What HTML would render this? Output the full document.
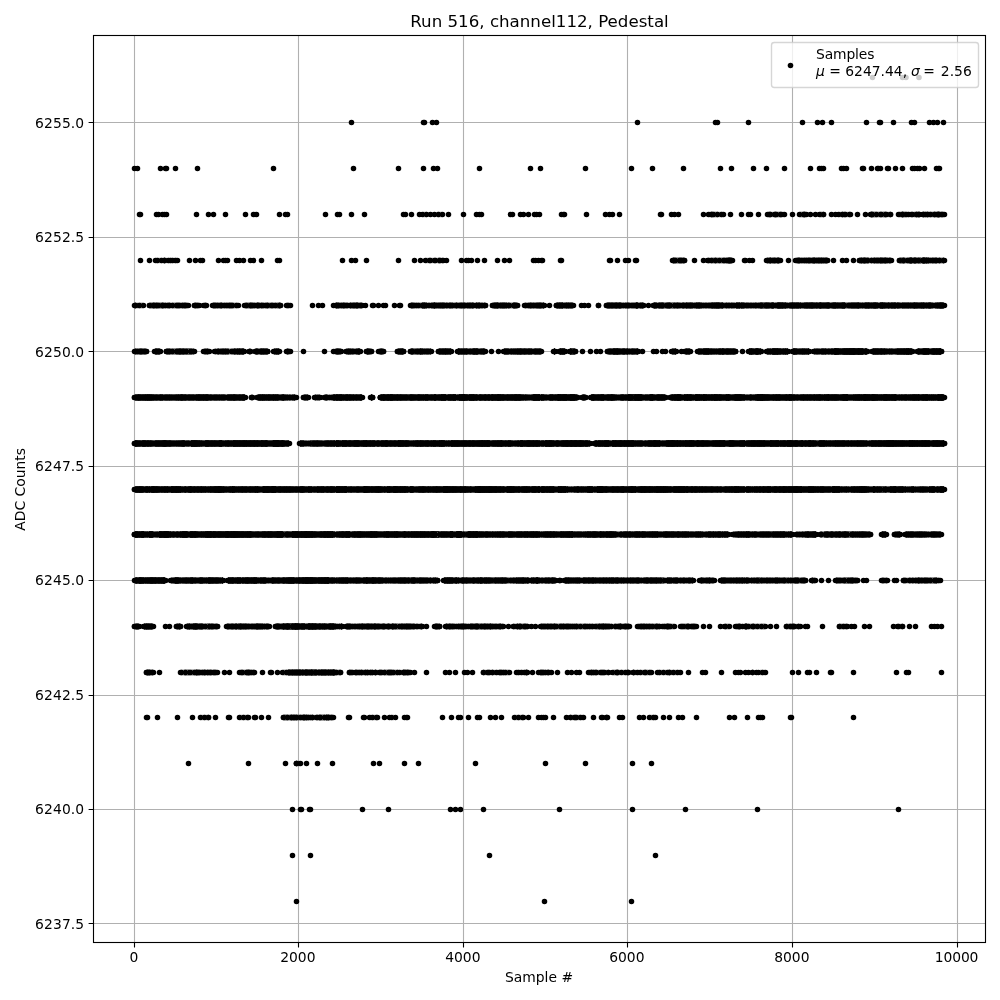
<!DOCTYPE html>
<html lang="en">
<head>
<meta charset="utf-8">
<title>Run 516, channel112, Pedestal</title>
<style>
html,body{margin:0;padding:0;background:#fff;}
body{width:1000px;height:1000px;overflow:hidden;}
svg{display:block;will-change:transform;font-family:"DejaVu Sans","Liberation Sans",sans-serif;font-size:13.89px;fill:#000;}
.it{font-family:"DejaVu Sans","Liberation Sans",sans-serif;font-style:italic;}
</style>
</head>
<body>
<svg width="1000" height="1000" viewBox="0 0 1000 1000">
<rect width="1000" height="1000" fill="#fff"/>
<path d="M134.5 35.5V942.5M298.5 35.5V942.5M463.5 35.5V942.5M627.5 35.5V942.5M792.5 35.5V942.5M957.5 35.5V942.5M93.5 923.5H985.5M93.5 809.5H985.5M93.5 695.5H985.5M93.5 580.5H985.5M93.5 466.5H985.5M93.5 351.5H985.5M93.5 237.5H985.5M93.5 122.5H985.5" stroke="#b0b0b0" stroke-width="1.11" fill="none"/>
<g stroke="#000" stroke-width="1" fill="none">
<path stroke-opacity="0.083" d="M423 211.5h4M423 217.5h4M437 211.5h4M437 217.5h4M441 211.5h1M441 217.5h1M709 211.5h5M709 217.5h5M718 211.5h5M718 217.5h5M771 211.5h6M771 217.5h6M781 211.5h3M781 217.5h3M822 211.5h1M822 217.5h1M839 211.5h5M839 217.5h5M844 211.5h3M844 217.5h3M847 211.5h3M847 217.5h3M886 211.5h4M886 217.5h4M906 211.5h6M906 217.5h6M912 211.5h2M912 217.5h2M918 211.5h1M918 217.5h1M156 257.5h4M156 263.5h4M160 257.5h3M160 263.5h3M163 257.5h6M163 263.5h6M169 257.5h2M169 263.5h2M171 257.5h6M171 263.5h6M426 257.5h6M426 263.5h6M432 257.5h4M432 263.5h4M436 257.5h2M436 263.5h2M441 257.5h2M441 263.5h2M135 302.5h2M135 308.5h2M287 302.5h3M287 308.5h3M612 623.5h2M612 629.5h2M647 623.5h4M647 629.5h4M660 623.5h3M660 629.5h3M681 623.5h3M681 629.5h3M741 623.5h2M741 629.5h2M743 623.5h2M743 629.5h2M795 623.5h5M795 629.5h5M898 623.5h2M898 629.5h2M900 623.5h2M900 629.5h2M350 669.5h5M350 675.5h5M373 669.5h6M373 675.5h6M398 669.5h5M398 675.5h5M484 669.5h4M484 675.5h4M488 669.5h3M488 675.5h3M491 669.5h2M491 675.5h2M493 669.5h6M493 675.5h6M517 669.5h3M517 675.5h3M520 669.5h2M520 675.5h2M522 669.5h3M522 675.5h3M525 669.5h2M525 675.5h2M546 669.5h5M546 675.5h5M597 669.5h3M597 675.5h3M600 669.5h3M600 675.5h3M603 669.5h3M603 675.5h3M606 669.5h2M606 675.5h2M619 669.5h3M619 675.5h3M622 669.5h4M622 675.5h4M626 669.5h2M626 675.5h2M634 669.5h3M634 675.5h3M637 669.5h3M637 675.5h3M640 669.5h3M640 675.5h3M643 669.5h2M643 675.5h2M648 669.5h2M648 675.5h2M658 669.5h5M658 675.5h5M663 669.5h5M663 675.5h5M670 669.5h4M670 675.5h4M674 669.5h6M674 675.5h6M752 669.5h2M752 675.5h2M760 669.5h2M760 675.5h2M762 669.5h3M762 675.5h3M201 714.5h5M201 720.5h5M206 714.5h2M206 720.5h2M240 714.5h6M240 720.5h6M246 714.5h2M246 720.5h2M313 714.5h3M313 720.5h3M370 714.5h2M370 720.5h2M372 714.5h5M372 720.5h5M392 714.5h2M392 720.5h2M515 714.5h5M515 720.5h5M520 714.5h3M520 720.5h3M571 714.5h3M571 720.5h3M574 714.5h3M574 720.5h3M577 714.5h3M577 720.5h3M580 714.5h3M580 720.5h3M650 714.5h5M650 720.5h5M297 760.5h3M297 766.5h3"/>
<path stroke-opacity="0.167" d="M714 211.5h4M714 217.5h4M768 211.5h3M768 217.5h3M777 211.5h4M777 217.5h4M800 211.5h6M800 217.5h6M820 211.5h2M820 217.5h2M876 211.5h5M876 217.5h5M881 211.5h2M881 217.5h2M899 211.5h4M899 217.5h4M914 211.5h4M914 217.5h4M923 211.5h4M923 217.5h4M927 211.5h3M927 217.5h3M930 211.5h2M930 217.5h2M932 211.5h3M932 217.5h3M938 211.5h2M938 217.5h2M940 211.5h4M940 217.5h4M708 257.5h3M708 263.5h3M860 257.5h3M860 263.5h3M869 257.5h5M869 263.5h5M912 257.5h3M912 263.5h3M137 302.5h5M137 308.5h5M142 302.5h1M142 308.5h1M166 302.5h6M166 308.5h6M234 302.5h3M234 308.5h3M237 302.5h1M237 308.5h1M258 302.5h6M258 308.5h6M264 302.5h3M264 308.5h3M348 302.5h4M348 308.5h4M427 302.5h4M427 308.5h4M473 302.5h5M473 308.5h5M749 577.5h2M749 583.5h2M812 577.5h3M812 583.5h3M904 577.5h3M904 583.5h3M907 577.5h5M907 583.5h5M912 577.5h6M912 583.5h6M937 577.5h3M937 583.5h3M336 623.5h5M336 629.5h5M415 623.5h6M415 629.5h6M438 623.5h1M438 629.5h1M452 623.5h5M452 629.5h5M457 623.5h3M457 629.5h3M466 623.5h4M466 629.5h4M501 623.5h2M501 629.5h2M514 623.5h5M514 629.5h5M541 623.5h2M541 629.5h2M587 623.5h2M587 629.5h2M593 623.5h3M593 629.5h3M610 623.5h2M610 629.5h2M663 623.5h4M663 629.5h4M670 623.5h4M670 629.5h4M687 623.5h2M687 629.5h2M689 623.5h4M689 629.5h4M725 623.5h2M725 629.5h2M727 623.5h2M727 629.5h2M746 623.5h6M746 629.5h6M752 623.5h5M752 629.5h5M757 623.5h2M757 629.5h2M759 623.5h4M759 629.5h4M787 623.5h2M787 629.5h2M792 623.5h3M792 629.5h3M840 623.5h6M840 629.5h6M846 623.5h1M846 629.5h1M181 669.5h3M181 675.5h3M189 669.5h2M189 675.5h2M205 669.5h2M205 675.5h2M212 669.5h5M212 675.5h5M240 669.5h6M240 675.5h6M251 669.5h3M251 675.5h3M283 669.5h5M283 675.5h5M336 669.5h3M336 675.5h3M359 669.5h6M359 675.5h6M365 669.5h2M365 675.5h2M367 669.5h3M367 675.5h3M379 669.5h2M379 675.5h2M381 669.5h3M381 675.5h3M393 669.5h5M393 675.5h5M407 669.5h3M407 675.5h3M499 669.5h3M499 675.5h3M502 669.5h5M502 675.5h5M507 669.5h2M507 675.5h2M541 669.5h5M541 675.5h5M589 669.5h3M589 675.5h3M592 669.5h5M592 675.5h5M613 669.5h6M613 675.5h6M645 669.5h3M645 675.5h3M650 669.5h1M650 675.5h1M668 669.5h2M668 675.5h2M309 714.5h4M309 720.5h4M316 714.5h3M316 720.5h3M325 714.5h4M325 720.5h4"/>
<path stroke-opacity="0.250" d="M871 211.5h5M871 217.5h5M883 211.5h3M883 217.5h3M903 211.5h3M903 217.5h3M935 211.5h3M935 217.5h3M438 257.5h3M438 263.5h3M711 257.5h2M711 263.5h2M713 257.5h2M713 263.5h2M715 257.5h2M715 263.5h2M717 257.5h4M717 263.5h4M721 257.5h4M721 263.5h4M725 257.5h3M725 263.5h3M771 257.5h3M771 263.5h3M774 257.5h6M774 263.5h6M796 257.5h6M796 263.5h6M817 257.5h3M817 263.5h3M886 257.5h3M886 263.5h3M905 257.5h4M905 263.5h4M921 257.5h6M921 263.5h6M927 257.5h6M927 263.5h6M937 257.5h6M937 263.5h6M156 302.5h3M156 308.5h3M163 302.5h3M163 308.5h3M172 302.5h5M172 308.5h5M177 302.5h5M177 308.5h5M187 302.5h1M187 308.5h1M197 302.5h2M197 308.5h2M204 302.5h2M204 308.5h2M222 302.5h5M222 308.5h5M230 302.5h4M230 308.5h4M254 302.5h4M254 308.5h4M267 302.5h4M267 308.5h4M271 302.5h6M271 308.5h6M346 302.5h2M346 308.5h2M414 302.5h5M414 308.5h5M419 302.5h3M419 308.5h3M444 302.5h4M444 308.5h4M448 302.5h3M448 308.5h3M451 302.5h3M451 308.5h3M465 302.5h5M465 308.5h5M478 302.5h6M478 308.5h6M507 302.5h6M507 308.5h6M525 302.5h5M525 308.5h5M538 302.5h2M538 308.5h2M541 302.5h2M541 308.5h2M624 302.5h5M624 308.5h5M629 302.5h4M629 308.5h4M633 302.5h3M633 308.5h3M656 302.5h2M656 308.5h2M680 302.5h6M680 308.5h6M730 302.5h6M730 308.5h6M208 348.5h1M208 354.5h1M215 348.5h2M215 354.5h2M229 348.5h5M229 354.5h5M287 348.5h3M287 354.5h3M295 394.5h1M295 400.5h1M328 394.5h3M328 400.5h3M331 394.5h2M331 400.5h2M509 577.5h4M509 583.5h4M529 577.5h2M529 583.5h2M642 577.5h2M642 583.5h2M664 577.5h3M664 583.5h3M705 577.5h3M705 583.5h3M730 577.5h3M730 583.5h3M780 577.5h4M780 583.5h4M789 577.5h5M789 583.5h5M882 577.5h4M882 583.5h4M886 577.5h1M886 583.5h1M212 623.5h4M212 629.5h4M253 623.5h3M253 629.5h3M262 623.5h5M262 629.5h5M267 623.5h2M267 629.5h2M350 623.5h3M350 629.5h3M353 623.5h3M353 629.5h3M356 623.5h3M356 629.5h3M384 623.5h3M384 629.5h3M387 623.5h5M387 629.5h5M495 623.5h3M495 629.5h3M519 623.5h4M519 629.5h4M526 623.5h1M526 629.5h1M543 623.5h6M543 629.5h6M556 623.5h3M556 629.5h3M570 623.5h3M570 629.5h3M573 623.5h3M573 629.5h3M576 623.5h6M576 629.5h6M582 623.5h5M582 629.5h5M589 623.5h4M589 629.5h4M605 623.5h5M605 629.5h5M614 623.5h3M614 629.5h3M617 623.5h4M617 629.5h4M621 623.5h6M621 629.5h6M638 623.5h3M638 629.5h3M645 623.5h2M645 629.5h2M651 623.5h3M651 629.5h3M654 623.5h3M654 629.5h3M657 623.5h3M657 629.5h3M684 623.5h3M684 629.5h3M693 623.5h3M693 629.5h3M736 623.5h5M736 629.5h5M763 623.5h2M763 629.5h2M789 623.5h3M789 629.5h3M191 669.5h6M191 675.5h6M197 669.5h5M197 675.5h5M202 669.5h3M202 675.5h3M246 669.5h5M246 675.5h5M339 669.5h1M339 675.5h1M355 669.5h4M355 675.5h4M370 669.5h3M370 675.5h3M384 669.5h6M384 675.5h6M390 669.5h3M390 675.5h3M403 669.5h4M403 675.5h4M288 714.5h2M288 720.5h2M296 714.5h6M296 720.5h6M302 714.5h4M302 720.5h4M306 714.5h3M306 720.5h3M329 714.5h4M329 720.5h4"/>
<path stroke-opacity="0.333" d="M673 257.5h3M673 263.5h3M676 257.5h3M676 263.5h3M679 257.5h3M679 263.5h3M682 257.5h2M682 263.5h2M728 257.5h3M728 263.5h3M731 257.5h1M731 263.5h1M767 257.5h4M767 263.5h4M802 257.5h6M802 263.5h6M811 257.5h6M811 263.5h6M874 257.5h3M874 263.5h3M877 257.5h3M877 263.5h3M150 302.5h6M150 308.5h6M159 302.5h4M159 308.5h4M182 302.5h5M182 308.5h5M195 302.5h2M195 308.5h2M213 302.5h3M213 308.5h3M216 302.5h6M216 308.5h6M227 302.5h3M227 308.5h3M245 302.5h3M245 308.5h3M248 302.5h6M248 308.5h6M277 302.5h3M277 308.5h3M336 302.5h4M336 308.5h4M340 302.5h2M340 308.5h2M342 302.5h4M342 308.5h4M358 302.5h4M358 308.5h4M431 302.5h3M431 308.5h3M454 302.5h6M454 308.5h6M498 302.5h6M498 308.5h6M563 302.5h3M563 308.5h3M621 302.5h3M621 308.5h3M638 302.5h5M638 308.5h5M675 302.5h5M675 308.5h5M693 302.5h3M693 308.5h3M700 302.5h3M700 308.5h3M703 302.5h3M703 308.5h3M706 302.5h5M706 308.5h5M723 302.5h3M723 308.5h3M726 302.5h4M726 308.5h4M740 302.5h4M740 308.5h4M746 302.5h4M746 308.5h4M750 302.5h5M750 308.5h5M755 302.5h5M755 308.5h5M774 302.5h3M774 308.5h3M786 302.5h3M786 308.5h3M799 302.5h5M799 308.5h5M829 302.5h4M829 308.5h4M876 302.5h4M876 308.5h4M886 302.5h2M886 308.5h2M900 302.5h4M900 308.5h4M932 302.5h3M932 308.5h3M219 348.5h4M219 354.5h4M236 348.5h3M236 354.5h3M258 348.5h3M258 354.5h3M352 348.5h6M352 354.5h6M379 348.5h4M379 354.5h4M467 348.5h2M467 354.5h2M471 348.5h2M471 354.5h2M315 394.5h4M315 400.5h4M821 531.5h3M821 537.5h3M928 531.5h3M928 537.5h3M351 577.5h3M351 583.5h3M357 577.5h6M357 583.5h6M418 577.5h3M418 583.5h3M431 577.5h6M431 583.5h6M457 577.5h5M457 583.5h5M474 577.5h4M474 583.5h4M541 577.5h4M541 583.5h4M580 577.5h3M580 583.5h3M672 577.5h3M672 583.5h3M678 577.5h3M678 583.5h3M684 577.5h5M684 583.5h5M700 577.5h5M700 583.5h5M726 577.5h4M726 583.5h4M737 577.5h3M737 583.5h3M751 577.5h3M751 583.5h3M764 577.5h4M764 583.5h4M799 577.5h5M799 583.5h5M838 577.5h6M838 583.5h6M853 577.5h4M853 583.5h4M922 577.5h3M922 583.5h3M187 623.5h6M187 629.5h6M203 623.5h4M203 629.5h4M232 623.5h6M232 629.5h6M250 623.5h3M250 629.5h3M379 623.5h5M379 629.5h5M398 623.5h4M398 629.5h4M435 623.5h3M435 629.5h3M446 623.5h6M446 629.5h6M491 623.5h4M491 629.5h4M498 623.5h3M498 629.5h3M523 623.5h3M523 629.5h3M549 623.5h2M549 629.5h2M551 623.5h5M551 629.5h5M559 623.5h4M559 629.5h4M563 623.5h3M563 629.5h3M566 623.5h4M566 629.5h4M596 623.5h3M596 629.5h3M599 623.5h3M599 629.5h3M602 623.5h3M602 629.5h3M627 623.5h2M627 629.5h2M641 623.5h4M641 629.5h4M667 623.5h3M667 629.5h3M147 669.5h2M147 675.5h2M149 669.5h4M149 675.5h4M184 669.5h5M184 675.5h5M207 669.5h5M207 675.5h5M317 669.5h4M317 675.5h4M284 714.5h4M284 720.5h4M290 714.5h2M290 720.5h2M292 714.5h4M292 720.5h4M319 714.5h6M319 720.5h6"/>
<path stroke-opacity="0.417" d="M808 257.5h3M808 263.5h3M820 257.5h4M820 263.5h4M824 257.5h2M824 263.5h2M826 257.5h1M826 263.5h1M866 257.5h3M866 263.5h3M880 257.5h6M880 263.5h6M889 257.5h2M889 263.5h2M900 257.5h5M900 263.5h5M915 257.5h3M915 263.5h3M933 257.5h4M933 263.5h4M943 257.5h1M943 263.5h1M352 302.5h6M352 308.5h6M411 302.5h3M411 308.5h3M434 302.5h5M434 308.5h5M442 302.5h2M442 308.5h2M470 302.5h3M470 308.5h3M493 302.5h3M493 308.5h3M532 302.5h6M532 308.5h6M572 302.5h1M572 308.5h1M664 302.5h6M664 308.5h6M670 302.5h2M670 308.5h2M744 302.5h1M744 308.5h1M817 302.5h2M817 308.5h2M845 302.5h6M845 308.5h6M859 302.5h2M859 308.5h2M861 302.5h4M861 308.5h4M888 302.5h3M888 308.5h3M896 302.5h4M896 308.5h4M135 348.5h3M135 354.5h3M138 348.5h4M138 354.5h4M159 348.5h1M159 354.5h1M167 348.5h6M167 354.5h6M173 348.5h3M173 354.5h3M192 348.5h2M192 354.5h2M204 348.5h4M204 354.5h4M264 348.5h3M264 354.5h3M277 348.5h2M277 354.5h2M340 348.5h1M340 354.5h1M347 348.5h5M347 354.5h5M369 348.5h2M369 354.5h2M416 348.5h4M416 354.5h4M478 348.5h3M478 354.5h3M509 348.5h3M509 354.5h3M532 348.5h3M532 354.5h3M628 348.5h4M628 354.5h4M713 348.5h3M713 354.5h3M818 348.5h3M818 354.5h3M863 348.5h2M863 354.5h2M885 348.5h6M885 354.5h6M224 394.5h3M224 400.5h3M288 394.5h4M288 400.5h4M325 394.5h3M325 400.5h3M333 394.5h2M333 400.5h2M304 440.5h6M304 446.5h6M906 486.5h5M906 492.5h5M925 486.5h4M925 492.5h4M453 531.5h3M453 537.5h3M489 531.5h3M489 537.5h3M581 531.5h3M581 537.5h3M616 531.5h4M616 537.5h4M689 531.5h4M689 537.5h4M699 531.5h6M699 537.5h6M705 531.5h3M705 537.5h3M720 531.5h2M720 537.5h2M722 531.5h2M722 537.5h2M753 531.5h2M753 537.5h2M785 531.5h5M785 537.5h5M797 531.5h5M797 537.5h5M854 531.5h3M854 537.5h3M895 531.5h5M895 537.5h5M925 531.5h3M925 537.5h3M171 577.5h2M171 583.5h2M188 577.5h2M188 583.5h2M193 577.5h5M193 583.5h5M198 577.5h2M198 583.5h2M203 577.5h5M203 583.5h5M220 577.5h2M220 583.5h2M234 577.5h3M234 583.5h3M257 577.5h3M257 583.5h3M266 577.5h6M266 583.5h6M354 577.5h3M354 583.5h3M383 577.5h4M383 583.5h4M387 577.5h5M387 583.5h5M426 577.5h5M426 583.5h5M506 577.5h3M506 583.5h3M513 577.5h5M513 583.5h5M594 577.5h5M594 583.5h5M620 577.5h5M620 583.5h5M639 577.5h3M639 583.5h3M681 577.5h3M681 583.5h3M689 577.5h3M689 583.5h3M708 577.5h4M708 583.5h4M712 577.5h2M712 583.5h2M743 577.5h2M743 583.5h2M754 577.5h2M754 583.5h2M760 577.5h4M760 583.5h4M768 577.5h3M768 583.5h3M771 577.5h4M771 583.5h4M778 577.5h2M778 583.5h2M784 577.5h5M784 583.5h5M918 577.5h4M918 583.5h4M925 577.5h4M925 583.5h4M929 577.5h3M929 583.5h3M932 577.5h2M932 583.5h2M934 577.5h3M934 583.5h3M135 623.5h4M135 629.5h4M177 623.5h3M177 629.5h3M210 623.5h2M210 629.5h2M216 623.5h1M216 629.5h1M227 623.5h2M227 629.5h2M229 623.5h3M229 629.5h3M245 623.5h5M245 629.5h5M276 623.5h5M276 629.5h5M305 623.5h3M305 629.5h3M316 623.5h3M316 629.5h3M326 623.5h3M326 629.5h3M359 623.5h6M359 629.5h6M365 623.5h5M365 629.5h5M373 623.5h6M373 629.5h6M392 623.5h3M392 629.5h3M395 623.5h3M395 629.5h3M402 623.5h3M402 629.5h3M405 623.5h4M405 629.5h4M409 623.5h6M409 629.5h6M421 623.5h1M421 629.5h1M460 623.5h2M460 629.5h2M462 623.5h4M462 629.5h4M470 623.5h5M470 629.5h5M475 623.5h4M475 629.5h4M479 623.5h6M479 629.5h6M485 623.5h6M485 629.5h6M288 669.5h2M288 675.5h2M290 669.5h6M290 675.5h6M301 669.5h4M301 675.5h4"/>
<path stroke-opacity="0.500" d="M863 257.5h3M863 263.5h3M909 257.5h3M909 263.5h3M918 257.5h3M918 263.5h3M422 302.5h5M422 308.5h5M439 302.5h3M439 308.5h3M460 302.5h5M460 308.5h5M484 302.5h1M484 308.5h1M496 302.5h2M496 308.5h2M504 302.5h3M504 308.5h3M513 302.5h4M513 308.5h4M530 302.5h2M530 308.5h2M566 302.5h6M566 308.5h6M654 302.5h2M654 308.5h2M658 302.5h3M658 308.5h3M672 302.5h3M672 308.5h3M689 302.5h4M689 308.5h4M711 302.5h2M711 308.5h2M769 302.5h2M769 308.5h2M836 302.5h6M836 308.5h6M871 302.5h2M871 308.5h2M904 302.5h6M904 308.5h6M918 302.5h6M918 308.5h6M924 302.5h6M924 308.5h6M930 302.5h2M930 308.5h2M935 302.5h2M935 308.5h2M142 348.5h4M142 354.5h4M157 348.5h2M157 354.5h2M176 348.5h3M176 354.5h3M190 348.5h2M190 354.5h2M217 348.5h2M217 354.5h2M223 348.5h6M223 354.5h6M411 348.5h5M411 354.5h5M423 348.5h4M423 354.5h4M427 348.5h3M427 354.5h3M484 348.5h1M484 354.5h1M512 348.5h2M512 354.5h2M514 348.5h3M514 354.5h3M608 348.5h5M608 354.5h5M625 348.5h3M625 354.5h3M672 348.5h3M672 354.5h3M685 348.5h5M685 354.5h5M709 348.5h4M709 354.5h4M716 348.5h6M716 354.5h6M752 348.5h3M752 354.5h3M767 348.5h5M767 354.5h5M781 348.5h3M781 354.5h3M803 348.5h5M803 354.5h5M814 348.5h4M814 354.5h4M825 348.5h6M825 354.5h6M891 348.5h6M891 354.5h6M918 348.5h5M918 354.5h5M929 348.5h3M929 354.5h3M186 394.5h5M186 400.5h5M193 394.5h3M193 400.5h3M217 394.5h4M217 400.5h4M319 394.5h1M319 400.5h1M446 394.5h2M446 400.5h2M456 394.5h3M456 400.5h3M522 394.5h4M522 400.5h4M528 394.5h5M528 400.5h5M544 394.5h6M544 400.5h6M604 394.5h3M604 400.5h3M615 394.5h6M615 400.5h6M642 394.5h6M642 400.5h6M681 394.5h3M681 400.5h3M746 394.5h4M746 400.5h4M848 394.5h5M848 400.5h5M185 440.5h3M185 446.5h3M188 440.5h3M188 446.5h3M320 440.5h5M320 446.5h5M634 440.5h3M634 446.5h3M643 440.5h5M643 446.5h5M867 440.5h2M867 446.5h2M312 486.5h2M312 492.5h2M314 486.5h3M314 492.5h3M347 486.5h4M347 492.5h4M381 486.5h6M381 492.5h6M504 486.5h3M504 492.5h3M554 486.5h4M554 492.5h4M568 486.5h3M568 492.5h3M571 486.5h3M571 492.5h3M718 486.5h5M718 492.5h5M723 486.5h2M723 492.5h2M751 486.5h3M751 492.5h3M847 486.5h4M847 492.5h4M867 486.5h6M867 492.5h6M884 486.5h3M884 492.5h3M887 486.5h3M887 492.5h3M914 486.5h6M914 492.5h6M935 486.5h5M935 492.5h5M153 531.5h6M153 537.5h6M171 531.5h6M171 537.5h6M350 531.5h4M350 537.5h4M483 531.5h2M483 537.5h2M620 531.5h3M620 537.5h3M658 531.5h5M658 537.5h5M693 531.5h6M693 537.5h6M733 531.5h5M733 537.5h5M755 531.5h5M755 537.5h5M802 531.5h5M802 537.5h5M841 531.5h3M841 537.5h3M882 531.5h3M882 537.5h3M135 577.5h4M135 583.5h4M179 577.5h3M179 583.5h3M241 577.5h4M241 583.5h4M280 577.5h2M280 583.5h2M405 577.5h3M405 583.5h3M423 577.5h3M423 583.5h3M450 577.5h5M450 583.5h5M469 577.5h5M469 583.5h5M478 577.5h6M478 583.5h6M490 577.5h2M490 583.5h2M524 577.5h5M524 583.5h5M550 577.5h5M550 583.5h5M602 577.5h5M602 583.5h5M614 577.5h6M614 583.5h6M625 577.5h5M625 583.5h5M644 577.5h6M644 583.5h6M721 577.5h3M721 583.5h3M724 577.5h2M724 583.5h2M733 577.5h4M733 583.5h4M740 577.5h3M740 583.5h3M746 577.5h3M746 583.5h3M775 577.5h3M775 583.5h3M794 577.5h5M794 583.5h5M804 577.5h1M804 583.5h1M836 577.5h2M836 583.5h2M844 577.5h6M844 583.5h6M850 577.5h3M850 583.5h3M152 623.5h1M152 629.5h1M198 623.5h5M198 629.5h5M207 623.5h3M207 629.5h3M241 623.5h4M241 629.5h4M259 623.5h3M259 629.5h3M281 623.5h5M281 629.5h5M323 623.5h3M323 629.5h3M334 623.5h1M334 629.5h1M341 623.5h1M341 629.5h1M347 623.5h3M347 629.5h3M370 623.5h3M370 629.5h3M305 669.5h2M305 675.5h2M327 669.5h3M327 675.5h3M330 669.5h3M330 675.5h3"/>
<path stroke-opacity="0.583" d="M543 302.5h1M543 308.5h1M557 302.5h6M557 308.5h6M607 302.5h6M607 308.5h6M613 302.5h2M613 308.5h2M615 302.5h3M615 308.5h3M618 302.5h3M618 308.5h3M636 302.5h2M636 308.5h2M661 302.5h3M661 308.5h3M686 302.5h3M686 308.5h3M713 302.5h2M713 308.5h2M718 302.5h3M718 308.5h3M760 302.5h6M760 308.5h6M766 302.5h3M766 308.5h3M789 302.5h5M789 308.5h5M804 302.5h3M804 308.5h3M813 302.5h4M813 308.5h4M822 302.5h3M822 308.5h3M851 302.5h5M851 308.5h5M865 302.5h3M865 308.5h3M868 302.5h3M868 308.5h3M883 302.5h3M883 308.5h3M910 302.5h4M910 308.5h4M155 348.5h2M155 354.5h2M179 348.5h5M179 354.5h5M184 348.5h2M184 354.5h2M186 348.5h4M186 354.5h4M234 348.5h2M234 354.5h2M261 348.5h3M261 354.5h3M274 348.5h3M274 354.5h3M336 348.5h4M336 354.5h4M398 348.5h3M398 354.5h3M442 348.5h5M442 354.5h5M447 348.5h3M447 354.5h3M461 348.5h6M461 354.5h6M469 348.5h2M469 354.5h2M524 348.5h3M524 354.5h3M527 348.5h5M527 354.5h5M535 348.5h5M535 354.5h5M618 348.5h5M618 354.5h5M632 348.5h5M632 354.5h5M698 348.5h5M698 354.5h5M734 348.5h1M734 354.5h1M784 348.5h3M784 354.5h3M795 348.5h5M795 354.5h5M821 348.5h4M821 354.5h4M831 348.5h3M831 354.5h3M897 348.5h3M897 354.5h3M163 394.5h6M163 400.5h6M169 394.5h5M169 400.5h5M174 394.5h2M174 400.5h2M211 394.5h3M211 400.5h3M278 394.5h4M278 400.5h4M284 394.5h4M284 400.5h4M292 394.5h3M292 400.5h3M304 394.5h3M304 400.5h3M307 394.5h1M307 400.5h1M428 394.5h6M428 400.5h6M467 394.5h2M467 400.5h2M477 394.5h2M477 400.5h2M490 394.5h2M490 400.5h2M583 394.5h2M583 400.5h2M648 394.5h2M648 400.5h2M653 394.5h4M653 400.5h4M671 394.5h3M671 400.5h3M692 394.5h3M692 400.5h3M752 394.5h3M752 400.5h3M755 394.5h2M755 400.5h2M768 394.5h5M768 400.5h5M798 394.5h3M798 400.5h3M812 394.5h4M812 400.5h4M821 394.5h3M821 400.5h3M837 394.5h3M837 400.5h3M896 394.5h6M896 400.5h6M928 394.5h5M928 400.5h5M200 440.5h5M200 446.5h5M222 440.5h5M222 446.5h5M284 440.5h2M284 446.5h2M313 440.5h2M313 446.5h2M445 440.5h6M445 446.5h6M490 440.5h2M490 446.5h2M511 440.5h6M511 446.5h6M541 440.5h4M541 446.5h4M595 440.5h3M595 446.5h3M609 440.5h3M609 446.5h3M660 440.5h6M660 446.5h6M694 440.5h3M694 446.5h3M725 440.5h4M725 446.5h4M803 440.5h5M803 446.5h5M828 440.5h5M828 446.5h5M869 440.5h2M869 446.5h2M148 486.5h3M148 492.5h3M160 486.5h4M160 492.5h4M168 486.5h3M168 492.5h3M186 486.5h2M186 492.5h2M258 486.5h5M258 492.5h5M305 486.5h3M305 492.5h3M351 486.5h3M351 492.5h3M354 486.5h2M354 492.5h2M356 486.5h3M356 492.5h3M359 486.5h5M359 492.5h5M408 486.5h2M408 492.5h2M413 486.5h6M413 492.5h6M429 486.5h3M429 492.5h3M441 486.5h2M441 492.5h2M472 486.5h3M472 492.5h3M566 486.5h2M566 492.5h2M584 486.5h3M584 492.5h3M593 486.5h4M593 492.5h4M636 486.5h3M636 492.5h3M714 486.5h4M714 492.5h4M830 486.5h2M830 492.5h2M840 486.5h4M840 492.5h4M903 486.5h3M903 492.5h3M923 486.5h2M923 492.5h2M144 531.5h5M144 537.5h5M177 531.5h3M177 537.5h3M187 531.5h3M187 537.5h3M259 531.5h3M259 537.5h3M383 531.5h3M383 537.5h3M398 531.5h6M398 537.5h6M462 531.5h6M462 537.5h6M478 531.5h5M478 537.5h5M492 531.5h3M492 537.5h3M505 531.5h3M505 537.5h3M515 531.5h2M515 537.5h2M541 531.5h4M541 537.5h4M553 531.5h2M553 537.5h2M555 531.5h5M555 537.5h5M573 531.5h3M573 537.5h3M584 531.5h3M584 537.5h3M628 531.5h3M628 537.5h3M631 531.5h6M631 537.5h6M637 531.5h5M637 537.5h5M712 531.5h3M712 537.5h3M742 531.5h3M742 537.5h3M749 531.5h4M749 537.5h4M807 531.5h3M807 537.5h3M829 531.5h6M829 537.5h6M849 531.5h3M849 537.5h3M865 531.5h2M865 537.5h2M867 531.5h3M867 537.5h3M914 531.5h6M914 537.5h6M173 577.5h3M173 583.5h3M182 577.5h4M182 583.5h4M217 577.5h3M217 583.5h3M294 577.5h3M294 583.5h3M331 577.5h3M331 583.5h3M348 577.5h3M348 583.5h3M392 577.5h3M392 583.5h3M395 577.5h4M395 583.5h4M408 577.5h3M408 583.5h3M414 577.5h4M414 583.5h4M467 577.5h2M467 583.5h2M492 577.5h5M492 583.5h5M531 577.5h5M531 583.5h5M538 577.5h2M538 583.5h2M545 577.5h2M545 583.5h2M547 577.5h3M547 583.5h3M571 577.5h3M571 583.5h3M574 577.5h3M574 583.5h3M583 577.5h5M583 583.5h5M599 577.5h3M599 583.5h3M607 577.5h4M607 583.5h4M630 577.5h4M630 583.5h4M634 577.5h3M634 583.5h3M637 577.5h2M637 583.5h2M650 577.5h2M650 583.5h2M652 577.5h6M652 583.5h6M658 577.5h6M658 583.5h6M667 577.5h5M667 583.5h5M675 577.5h3M675 583.5h3M692 577.5h1M692 583.5h1M756 577.5h4M756 583.5h4M144 623.5h4M144 629.5h4M148 623.5h4M148 629.5h4M238 623.5h3M238 629.5h3M256 623.5h3M256 629.5h3M321 623.5h2M321 629.5h2M296 669.5h5M296 675.5h5M307 669.5h4M307 675.5h4M321 669.5h6M321 675.5h6M333 669.5h2M333 675.5h2"/>
<path stroke-opacity="0.667" d="M696 302.5h4M696 308.5h4M715 302.5h3M715 308.5h3M721 302.5h2M721 308.5h2M736 302.5h4M736 308.5h4M771 302.5h3M771 308.5h3M777 302.5h6M777 308.5h6M783 302.5h3M783 308.5h3M794 302.5h5M794 308.5h5M807 302.5h6M807 308.5h6M819 302.5h3M819 308.5h3M825 302.5h2M825 308.5h2M856 302.5h3M856 308.5h3M873 302.5h3M873 308.5h3M891 302.5h3M891 308.5h3M894 302.5h2M894 308.5h2M914 302.5h4M914 308.5h4M937 302.5h3M937 308.5h3M943 302.5h1M943 308.5h1M239 348.5h5M239 354.5h5M256 348.5h2M256 354.5h2M358 348.5h2M358 354.5h2M367 348.5h2M367 354.5h2M401 348.5h2M401 354.5h2M420 348.5h3M420 354.5h3M430 348.5h1M430 354.5h1M439 348.5h3M439 354.5h3M450 348.5h1M450 354.5h1M458 348.5h3M458 354.5h3M481 348.5h3M481 354.5h3M504 348.5h5M504 354.5h5M517 348.5h3M517 354.5h3M520 348.5h4M520 354.5h4M563 348.5h2M563 354.5h2M574 348.5h1M574 354.5h1M637 348.5h1M637 354.5h1M722 348.5h4M722 354.5h4M758 348.5h2M758 354.5h2M778 348.5h3M778 354.5h3M800 348.5h3M800 354.5h3M139 394.5h3M139 400.5h3M154 394.5h3M154 400.5h3M157 394.5h3M157 400.5h3M183 394.5h3M183 400.5h3M208 394.5h3M208 400.5h3M214 394.5h3M214 400.5h3M221 394.5h3M221 400.5h3M227 394.5h5M227 400.5h5M267 394.5h5M267 400.5h5M342 394.5h4M342 400.5h4M354 394.5h6M354 400.5h6M421 394.5h2M421 400.5h2M423 394.5h2M423 400.5h2M482 394.5h3M482 400.5h3M485 394.5h3M485 400.5h3M504 394.5h3M504 400.5h3M526 394.5h2M526 400.5h2M575 394.5h2M575 400.5h2M624 394.5h4M624 400.5h4M700 394.5h3M700 400.5h3M720 394.5h6M720 400.5h6M729 394.5h6M729 400.5h6M740 394.5h2M740 400.5h2M750 394.5h2M750 400.5h2M792 394.5h6M792 400.5h6M806 394.5h6M806 400.5h6M829 394.5h3M829 400.5h3M840 394.5h3M840 400.5h3M907 394.5h5M907 400.5h5M933 394.5h5M933 400.5h5M943 394.5h1M943 400.5h1M149 440.5h3M149 446.5h3M152 440.5h3M152 446.5h3M169 440.5h6M169 446.5h6M175 440.5h3M175 446.5h3M267 440.5h6M267 446.5h6M315 440.5h5M315 446.5h5M325 440.5h5M325 446.5h5M339 440.5h3M339 446.5h3M375 440.5h6M375 446.5h6M396 440.5h2M396 446.5h2M409 440.5h6M409 446.5h6M423 440.5h2M423 446.5h2M462 440.5h6M462 446.5h6M517 440.5h3M517 446.5h3M554 440.5h3M554 446.5h3M587 440.5h3M587 446.5h3M637 440.5h6M637 446.5h6M710 440.5h6M710 446.5h6M734 440.5h6M734 446.5h6M765 440.5h5M765 446.5h5M779 440.5h3M779 446.5h3M816 440.5h3M816 446.5h3M825 440.5h3M825 446.5h3M845 440.5h5M845 446.5h5M142 486.5h3M142 492.5h3M181 486.5h5M181 492.5h5M206 486.5h4M206 492.5h4M224 486.5h5M224 492.5h5M229 486.5h3M229 492.5h3M237 486.5h3M237 492.5h3M249 486.5h6M249 492.5h6M276 486.5h3M276 492.5h3M292 486.5h4M292 492.5h4M296 486.5h4M296 492.5h4M469 486.5h3M469 492.5h3M519 486.5h2M519 492.5h2M530 486.5h2M530 492.5h2M574 486.5h6M574 492.5h6M580 486.5h4M580 492.5h4M671 486.5h2M671 492.5h2M702 486.5h3M702 492.5h3M771 486.5h3M771 492.5h3M802 486.5h6M802 492.5h6M818 486.5h2M818 492.5h2M196 531.5h6M196 537.5h6M202 531.5h3M202 537.5h3M251 531.5h6M251 537.5h6M283 531.5h3M283 537.5h3M286 531.5h6M286 537.5h6M333 531.5h2M333 537.5h2M336 531.5h3M336 537.5h3M377 531.5h6M377 537.5h6M439 531.5h3M439 537.5h3M447 531.5h3M447 537.5h3M485 531.5h4M485 537.5h4M495 531.5h3M495 537.5h3M498 531.5h2M498 537.5h2M513 531.5h2M513 537.5h2M538 531.5h2M538 537.5h2M545 531.5h3M545 537.5h3M576 531.5h5M576 537.5h5M597 531.5h3M597 537.5h3M602 531.5h4M602 537.5h4M646 531.5h3M646 537.5h3M663 531.5h3M663 537.5h3M674 531.5h3M674 537.5h3M677 531.5h6M677 537.5h6M683 531.5h3M683 537.5h3M710 531.5h2M710 537.5h2M715 531.5h5M715 537.5h5M760 531.5h4M760 537.5h4M766 531.5h6M766 537.5h6M772 531.5h5M772 537.5h5M790 531.5h2M790 537.5h2M824 531.5h5M824 537.5h5M835 531.5h6M835 537.5h6M844 531.5h5M844 537.5h5M857 531.5h2M857 537.5h2M885 531.5h1M885 537.5h1M906 531.5h6M906 537.5h6M912 531.5h2M912 537.5h2M920 531.5h5M920 537.5h5M931 531.5h3M931 537.5h3M934 531.5h6M934 537.5h6M940 531.5h1M940 537.5h1M144 577.5h6M144 583.5h6M186 577.5h2M186 583.5h2M274 577.5h3M274 583.5h3M277 577.5h3M277 583.5h3M282 577.5h4M282 583.5h4M297 577.5h2M297 583.5h2M313 577.5h5M313 583.5h5M329 577.5h2M329 583.5h2M334 577.5h1M334 583.5h1M336 577.5h5M336 583.5h5M363 577.5h3M363 583.5h3M376 577.5h3M376 583.5h3M399 577.5h2M399 583.5h2M401 577.5h4M401 583.5h4M421 577.5h2M421 583.5h2M462 577.5h5M462 583.5h5M484 577.5h6M484 583.5h6M497 577.5h3M497 583.5h3M500 577.5h6M500 583.5h6M518 577.5h6M518 583.5h6M536 577.5h2M536 583.5h2M565 577.5h4M565 583.5h4M569 577.5h2M569 583.5h2M577 577.5h3M577 583.5h3M588 577.5h6M588 583.5h6M611 577.5h3M611 583.5h3M193 623.5h5M193 629.5h5M298 623.5h3M298 629.5h3M313 623.5h3M313 629.5h3M319 623.5h2M319 629.5h2M329 623.5h2M329 629.5h2M311 669.5h6M311 675.5h6"/>
<path stroke-opacity="0.750" d="M827 302.5h2M827 308.5h2M833 302.5h3M833 308.5h3M842 302.5h3M842 308.5h3M880 302.5h3M880 308.5h3M940 302.5h3M940 308.5h3M473 348.5h3M473 354.5h3M476 348.5h2M476 354.5h2M560 348.5h3M560 354.5h3M570 348.5h4M570 354.5h4M613 348.5h5M613 354.5h5M623 348.5h2M623 354.5h2M675 348.5h1M675 354.5h1M726 348.5h5M726 354.5h5M731 348.5h3M731 354.5h3M755 348.5h3M755 354.5h3M760 348.5h1M760 354.5h1M793 348.5h2M793 354.5h2M808 348.5h1M808 354.5h1M839 348.5h3M839 354.5h3M873 348.5h2M873 354.5h2M875 348.5h6M875 354.5h6M881 348.5h4M881 354.5h4M900 348.5h6M900 354.5h6M909 348.5h3M909 354.5h3M934 348.5h5M934 354.5h5M135 394.5h4M135 400.5h4M160 394.5h3M160 400.5h3M176 394.5h4M176 400.5h4M191 394.5h2M191 400.5h2M232 394.5h3M232 400.5h3M235 394.5h4M235 400.5h4M239 394.5h6M239 400.5h6M258 394.5h3M258 400.5h3M261 394.5h6M261 400.5h6M272 394.5h6M272 400.5h6M348 394.5h6M348 400.5h6M360 394.5h2M360 400.5h2M384 394.5h3M384 400.5h3M393 394.5h4M393 400.5h4M401 394.5h4M401 400.5h4M405 394.5h3M405 400.5h3M408 394.5h5M408 400.5h5M413 394.5h2M413 400.5h2M415 394.5h6M415 400.5h6M436 394.5h5M436 400.5h5M474 394.5h3M474 400.5h3M479 394.5h3M479 400.5h3M516 394.5h6M516 400.5h6M550 394.5h3M550 400.5h3M553 394.5h5M553 400.5h5M567 394.5h3M567 400.5h3M591 394.5h6M591 400.5h6M599 394.5h2M599 400.5h2M610 394.5h5M610 400.5h5M621 394.5h3M621 400.5h3M657 394.5h3M657 400.5h3M663 394.5h2M663 400.5h2M674 394.5h3M674 400.5h3M707 394.5h4M707 400.5h4M742 394.5h3M742 400.5h3M781 394.5h2M781 400.5h2M783 394.5h6M783 400.5h6M801 394.5h5M801 400.5h5M878 394.5h5M878 400.5h5M902 394.5h5M902 400.5h5M917 394.5h6M917 400.5h6M923 394.5h2M923 400.5h2M138 440.5h4M138 446.5h4M146 440.5h3M146 446.5h3M178 440.5h5M178 446.5h5M214 440.5h5M214 446.5h5M229 440.5h4M229 446.5h4M258 440.5h3M258 446.5h3M286 440.5h3M286 446.5h3M300 440.5h4M300 446.5h4M310 440.5h3M310 446.5h3M330 440.5h3M330 446.5h3M347 440.5h2M347 446.5h2M349 440.5h5M349 446.5h5M357 440.5h6M357 446.5h6M367 440.5h5M367 446.5h5M388 440.5h6M388 446.5h6M425 440.5h2M425 446.5h2M427 440.5h6M427 446.5h6M436 440.5h3M436 446.5h3M471 440.5h3M471 446.5h3M474 440.5h2M474 446.5h2M502 440.5h6M502 446.5h6M523 440.5h4M523 446.5h4M557 440.5h4M557 446.5h4M584 440.5h3M584 446.5h3M598 440.5h3M598 446.5h3M678 440.5h5M678 446.5h5M683 440.5h2M683 446.5h2M706 440.5h4M706 446.5h4M746 440.5h5M746 446.5h5M782 440.5h5M782 446.5h5M793 440.5h2M793 446.5h2M798 440.5h3M798 446.5h3M811 440.5h5M811 446.5h5M833 440.5h2M833 446.5h2M839 440.5h6M839 446.5h6M850 440.5h4M850 446.5h4M854 440.5h5M854 446.5h5M859 440.5h6M859 446.5h6M865 440.5h2M865 446.5h2M905 440.5h4M905 446.5h4M913 440.5h3M913 446.5h3M930 440.5h3M930 446.5h3M145 486.5h3M145 492.5h3M192 486.5h5M192 492.5h5M197 486.5h6M197 492.5h6M235 486.5h2M235 492.5h2M243 486.5h6M243 492.5h6M285 486.5h4M285 492.5h4M289 486.5h3M289 492.5h3M319 486.5h2M319 492.5h2M324 486.5h6M324 492.5h6M390 486.5h3M390 492.5h3M423 486.5h6M423 492.5h6M432 486.5h3M432 492.5h3M435 486.5h6M435 492.5h6M466 486.5h3M466 492.5h3M500 486.5h4M500 492.5h4M515 486.5h4M515 492.5h4M536 486.5h2M536 492.5h2M603 486.5h4M603 492.5h4M607 486.5h6M607 492.5h6M613 486.5h5M613 492.5h5M624 486.5h6M624 492.5h6M653 486.5h3M653 492.5h3M688 486.5h3M688 492.5h3M693 486.5h3M693 492.5h3M696 486.5h6M696 492.5h6M705 486.5h6M705 492.5h6M711 486.5h3M711 492.5h3M739 486.5h6M739 492.5h6M746 486.5h2M746 492.5h2M754 486.5h3M754 492.5h3M757 486.5h6M757 492.5h6M823 486.5h4M823 492.5h4M827 486.5h3M827 492.5h3M844 486.5h3M844 492.5h3M864 486.5h3M864 492.5h3M875 486.5h6M875 492.5h6M881 486.5h3M881 492.5h3M896 486.5h3M896 492.5h3M899 486.5h4M899 492.5h4M920 486.5h3M920 492.5h3M929 486.5h3M929 492.5h3M138 531.5h3M138 537.5h3M169 531.5h2M169 537.5h2M244 531.5h3M244 537.5h3M313 531.5h4M313 537.5h4M317 531.5h3M317 537.5h3M344 531.5h2M344 537.5h2M354 531.5h3M354 537.5h3M361 531.5h6M361 537.5h6M367 531.5h3M367 537.5h3M389 531.5h5M389 537.5h5M406 531.5h5M406 537.5h5M421 531.5h6M421 537.5h6M427 531.5h4M427 537.5h4M442 531.5h5M442 537.5h5M500 531.5h5M500 537.5h5M508 531.5h2M508 537.5h2M510 531.5h3M510 537.5h3M517 531.5h2M517 537.5h2M519 531.5h3M519 537.5h3M522 531.5h3M522 537.5h3M528 531.5h5M528 537.5h5M548 531.5h5M548 537.5h5M591 531.5h6M591 537.5h6M614 531.5h2M614 537.5h2M623 531.5h5M623 537.5h5M642 531.5h4M642 537.5h4M649 531.5h3M649 537.5h3M668 531.5h4M668 537.5h4M672 531.5h2M672 537.5h2M686 531.5h3M686 537.5h3M708 531.5h2M708 537.5h2M724 531.5h4M724 537.5h4M738 531.5h4M738 537.5h4M746 531.5h3M746 537.5h3M764 531.5h2M764 537.5h2M777 531.5h3M777 537.5h3M780 531.5h5M780 537.5h5M810 531.5h2M810 537.5h2M812 531.5h3M812 537.5h3M815 531.5h1M815 537.5h1M852 531.5h2M852 537.5h2M859 531.5h3M859 537.5h3M862 531.5h3M862 537.5h3M156 577.5h2M156 583.5h2M190 577.5h3M190 583.5h3M200 577.5h3M200 583.5h3M208 577.5h4M208 583.5h4M212 577.5h5M212 583.5h5M228 577.5h6M228 583.5h6M245 577.5h6M245 583.5h6M260 577.5h6M260 583.5h6M272 577.5h2M272 583.5h2M341 577.5h4M341 583.5h4M345 577.5h3M345 583.5h3M366 577.5h6M366 583.5h6M372 577.5h4M372 583.5h4M379 577.5h4M379 583.5h4M411 577.5h3M411 583.5h3M444 577.5h6M444 583.5h6M455 577.5h2M455 583.5h2M286 623.5h3M286 629.5h3M289 623.5h3M289 629.5h3M301 623.5h4M301 629.5h4M308 623.5h5M308 629.5h5M331 623.5h3M331 629.5h3"/>
<path stroke-opacity="0.833" d="M554 348.5h1M554 354.5h1M703 348.5h6M703 354.5h6M749 348.5h3M749 354.5h3M772 348.5h6M772 354.5h6M787 348.5h1M787 354.5h1M842 348.5h2M842 354.5h2M855 348.5h3M855 354.5h3M865 348.5h2M865 354.5h2M923 348.5h6M923 354.5h6M932 348.5h2M932 354.5h2M142 394.5h6M142 400.5h6M148 394.5h6M148 400.5h6M180 394.5h3M180 400.5h3M196 394.5h6M196 400.5h6M202 394.5h6M202 400.5h6M282 394.5h2M282 400.5h2M336 394.5h6M336 400.5h6M346 394.5h2M346 400.5h2M371 394.5h1M371 400.5h1M381 394.5h3M381 400.5h3M387 394.5h3M387 400.5h3M397 394.5h4M397 400.5h4M425 394.5h3M425 400.5h3M448 394.5h5M448 400.5h5M465 394.5h2M465 400.5h2M488 394.5h2M488 400.5h2M492 394.5h2M492 400.5h2M494 394.5h3M494 400.5h3M501 394.5h3M501 400.5h3M507 394.5h6M507 400.5h6M513 394.5h3M513 400.5h3M541 394.5h3M541 400.5h3M597 394.5h2M597 400.5h2M607 394.5h3M607 400.5h3M660 394.5h3M660 400.5h3M684 394.5h5M684 400.5h5M689 394.5h3M689 400.5h3M711 394.5h3M711 400.5h3M717 394.5h3M717 400.5h3M765 394.5h3M765 400.5h3M773 394.5h3M773 400.5h3M776 394.5h5M776 400.5h5M789 394.5h3M789 400.5h3M816 394.5h5M816 400.5h5M824 394.5h3M824 400.5h3M832 394.5h3M832 400.5h3M835 394.5h2M835 400.5h2M853 394.5h5M853 400.5h5M858 394.5h5M858 400.5h5M866 394.5h3M866 400.5h3M869 394.5h3M869 400.5h3M887 394.5h5M887 400.5h5M912 394.5h5M912 400.5h5M135 440.5h3M135 446.5h3M155 440.5h5M155 446.5h5M160 440.5h2M160 446.5h2M162 440.5h4M162 446.5h4M166 440.5h3M166 446.5h3M183 440.5h2M183 446.5h2M195 440.5h5M195 446.5h5M209 440.5h5M209 446.5h5M227 440.5h2M227 446.5h2M247 440.5h2M247 446.5h2M249 440.5h4M249 446.5h4M253 440.5h5M253 446.5h5M263 440.5h2M263 446.5h2M279 440.5h5M279 446.5h5M333 440.5h2M333 446.5h2M372 440.5h3M372 446.5h3M381 440.5h4M381 446.5h4M394 440.5h2M394 446.5h2M403 440.5h2M403 446.5h2M405 440.5h4M405 446.5h4M415 440.5h2M415 446.5h2M417 440.5h6M417 446.5h6M458 440.5h4M458 446.5h4M468 440.5h3M468 446.5h3M476 440.5h3M476 446.5h3M492 440.5h5M492 446.5h5M508 440.5h3M508 446.5h3M530 440.5h5M530 446.5h5M535 440.5h5M535 446.5h5M550 440.5h4M550 446.5h4M561 440.5h4M561 446.5h4M581 440.5h3M581 446.5h3M601 440.5h3M601 446.5h3M622 440.5h6M622 446.5h6M648 440.5h5M648 446.5h5M699 440.5h4M699 446.5h4M703 440.5h3M703 446.5h3M755 440.5h2M755 446.5h2M762 440.5h3M762 446.5h3M819 440.5h6M819 446.5h6M835 440.5h4M835 446.5h4M871 440.5h6M871 446.5h6M877 440.5h6M877 446.5h6M883 440.5h3M883 446.5h3M894 440.5h3M894 446.5h3M897 440.5h5M897 446.5h5M902 440.5h3M902 446.5h3M916 440.5h5M916 446.5h5M938 440.5h5M938 446.5h5M135 486.5h4M135 492.5h4M158 486.5h2M158 492.5h2M164 486.5h4M164 492.5h4M171 486.5h5M171 492.5h5M188 486.5h4M188 492.5h4M203 486.5h3M203 492.5h3M210 486.5h2M210 492.5h2M212 486.5h3M212 492.5h3M221 486.5h3M221 492.5h3M240 486.5h3M240 492.5h3M255 486.5h3M255 492.5h3M279 486.5h4M279 492.5h4M283 486.5h2M283 492.5h2M300 486.5h2M300 492.5h2M302 486.5h3M302 492.5h3M308 486.5h4M308 492.5h4M317 486.5h2M317 492.5h2M321 486.5h3M321 492.5h3M330 486.5h5M330 492.5h5M340 486.5h4M340 492.5h4M370 486.5h6M370 492.5h6M379 486.5h2M379 492.5h2M398 486.5h2M398 492.5h2M405 486.5h3M405 492.5h3M419 486.5h4M419 492.5h4M453 486.5h5M453 492.5h5M458 486.5h6M458 492.5h6M497 486.5h3M497 492.5h3M512 486.5h3M512 492.5h3M521 486.5h4M521 492.5h4M525 486.5h5M525 492.5h5M541 486.5h3M541 492.5h3M544 486.5h5M544 492.5h5M618 486.5h3M618 492.5h3M639 486.5h3M639 492.5h3M666 486.5h5M666 492.5h5M673 486.5h6M673 492.5h6M685 486.5h3M685 492.5h3M725 486.5h6M725 492.5h6M731 486.5h3M731 492.5h3M748 486.5h3M748 492.5h3M763 486.5h4M763 492.5h4M774 486.5h6M774 492.5h6M780 486.5h3M780 492.5h3M785 486.5h3M785 492.5h3M814 486.5h4M814 492.5h4M820 486.5h3M820 492.5h3M851 486.5h4M851 492.5h4M855 486.5h4M855 492.5h4M890 486.5h3M890 492.5h3M911 486.5h3M911 492.5h3M932 486.5h3M932 492.5h3M940 486.5h2M940 492.5h2M942 486.5h2M942 492.5h2M180 531.5h2M180 537.5h2M185 531.5h2M185 537.5h2M190 531.5h2M190 537.5h2M210 531.5h3M210 537.5h3M216 531.5h6M216 537.5h6M222 531.5h5M222 537.5h5M239 531.5h2M239 537.5h2M241 531.5h3M241 537.5h3M257 531.5h2M257 537.5h2M262 531.5h3M262 537.5h3M265 531.5h3M265 537.5h3M268 531.5h3M268 537.5h3M271 531.5h6M271 537.5h6M298 531.5h3M298 537.5h3M320 531.5h3M320 537.5h3M323 531.5h4M323 537.5h4M339 531.5h5M339 537.5h5M357 531.5h4M357 537.5h4M394 531.5h4M394 537.5h4M404 531.5h2M404 537.5h2M411 531.5h2M411 537.5h2M413 531.5h4M413 537.5h4M417 531.5h4M417 537.5h4M525 531.5h3M525 537.5h3M533 531.5h5M533 537.5h5M560 531.5h3M560 537.5h3M563 531.5h4M563 537.5h4M567 531.5h6M567 537.5h6M587 531.5h4M587 537.5h4M600 531.5h2M600 537.5h2M606 531.5h5M606 537.5h5M611 531.5h3M611 537.5h3M652 531.5h6M652 537.5h6M666 531.5h2M666 537.5h2M139 577.5h5M139 583.5h5M150 577.5h6M150 583.5h6M158 577.5h6M158 583.5h6M164 577.5h1M164 583.5h1M176 577.5h3M176 583.5h3M222 577.5h1M222 583.5h1M237 577.5h4M237 583.5h4M251 577.5h6M251 583.5h6M286 577.5h3M286 583.5h3M299 577.5h6M299 583.5h6M318 577.5h6M318 583.5h6M292 623.5h6M292 629.5h6"/>
<path stroke-opacity="0.917" d="M834 348.5h5M834 354.5h5M844 348.5h5M844 354.5h5M849 348.5h6M849 354.5h6M858 348.5h5M858 354.5h5M906 348.5h3M906 354.5h3M939 348.5h2M939 354.5h2M390 394.5h3M390 400.5h3M434 394.5h2M434 400.5h2M441 394.5h5M441 400.5h5M453 394.5h3M453 400.5h3M459 394.5h6M459 400.5h6M469 394.5h5M469 400.5h5M497 394.5h4M497 400.5h4M533 394.5h2M533 400.5h2M535 394.5h2M535 400.5h2M537 394.5h3M537 400.5h3M558 394.5h3M558 400.5h3M561 394.5h6M561 400.5h6M570 394.5h5M570 400.5h5M601 394.5h3M601 400.5h3M628 394.5h6M628 400.5h6M634 394.5h3M634 400.5h3M637 394.5h5M637 400.5h5M650 394.5h3M650 400.5h3M677 394.5h2M677 400.5h2M679 394.5h2M679 400.5h2M695 394.5h5M695 400.5h5M703 394.5h4M703 400.5h4M714 394.5h3M714 400.5h3M726 394.5h3M726 400.5h3M735 394.5h5M735 400.5h5M757 394.5h2M757 400.5h2M759 394.5h3M759 400.5h3M762 394.5h3M762 400.5h3M827 394.5h2M827 400.5h2M843 394.5h5M843 400.5h5M863 394.5h3M863 400.5h3M872 394.5h6M872 400.5h6M883 394.5h4M883 400.5h4M892 394.5h2M892 400.5h2M894 394.5h2M894 400.5h2M925 394.5h3M925 400.5h3M938 394.5h5M938 400.5h5M142 440.5h4M142 446.5h4M191 440.5h4M191 446.5h4M205 440.5h4M205 446.5h4M219 440.5h3M219 446.5h3M233 440.5h5M233 446.5h5M238 440.5h4M238 446.5h4M242 440.5h5M242 446.5h5M261 440.5h2M261 446.5h2M265 440.5h2M265 446.5h2M273 440.5h3M273 446.5h3M276 440.5h3M276 446.5h3M336 440.5h3M336 446.5h3M342 440.5h5M342 446.5h5M354 440.5h3M354 446.5h3M363 440.5h4M363 446.5h4M385 440.5h3M385 446.5h3M398 440.5h5M398 446.5h5M433 440.5h3M433 446.5h3M439 440.5h6M439 446.5h6M451 440.5h5M451 446.5h5M456 440.5h2M456 446.5h2M479 440.5h5M479 446.5h5M484 440.5h6M484 446.5h6M497 440.5h5M497 446.5h5M520 440.5h3M520 446.5h3M527 440.5h3M527 446.5h3M545 440.5h5M545 446.5h5M565 440.5h4M565 446.5h4M569 440.5h5M569 446.5h5M574 440.5h5M574 446.5h5M579 440.5h2M579 446.5h2M604 440.5h5M604 446.5h5M612 440.5h4M612 446.5h4M616 440.5h6M616 446.5h6M628 440.5h6M628 446.5h6M653 440.5h4M653 446.5h4M657 440.5h3M657 446.5h3M666 440.5h5M666 446.5h5M671 440.5h5M671 446.5h5M676 440.5h2M676 446.5h2M685 440.5h3M685 446.5h3M688 440.5h3M688 446.5h3M691 440.5h3M691 446.5h3M697 440.5h2M697 446.5h2M716 440.5h3M716 446.5h3M719 440.5h3M719 446.5h3M722 440.5h3M722 446.5h3M729 440.5h5M729 446.5h5M740 440.5h5M740 446.5h5M751 440.5h4M751 446.5h4M757 440.5h3M757 446.5h3M760 440.5h2M760 446.5h2M770 440.5h5M770 446.5h5M775 440.5h4M775 446.5h4M787 440.5h4M787 446.5h4M791 440.5h2M791 446.5h2M795 440.5h3M795 446.5h3M801 440.5h2M801 446.5h2M808 440.5h3M808 446.5h3M886 440.5h2M886 446.5h2M888 440.5h6M888 446.5h6M909 440.5h4M909 446.5h4M921 440.5h3M921 446.5h3M924 440.5h6M924 446.5h6M933 440.5h5M933 446.5h5M943 440.5h1M943 446.5h1M139 486.5h3M139 492.5h3M151 486.5h4M151 492.5h4M155 486.5h3M155 492.5h3M176 486.5h5M176 492.5h5M215 486.5h6M215 492.5h6M232 486.5h3M232 492.5h3M263 486.5h4M263 492.5h4M267 486.5h3M267 492.5h3M270 486.5h4M270 492.5h4M274 486.5h2M274 492.5h2M336 486.5h4M336 492.5h4M344 486.5h3M344 492.5h3M364 486.5h3M364 492.5h3M367 486.5h3M367 492.5h3M376 486.5h3M376 492.5h3M387 486.5h3M387 492.5h3M393 486.5h5M393 492.5h5M400 486.5h5M400 492.5h5M410 486.5h3M410 492.5h3M443 486.5h5M443 492.5h5M448 486.5h5M448 492.5h5M464 486.5h2M464 492.5h2M475 486.5h3M475 492.5h3M478 486.5h4M478 492.5h4M482 486.5h3M482 492.5h3M485 486.5h3M485 492.5h3M488 486.5h4M488 492.5h4M492 486.5h5M492 492.5h5M507 486.5h5M507 492.5h5M532 486.5h4M532 492.5h4M538 486.5h2M538 492.5h2M549 486.5h5M549 492.5h5M558 486.5h5M558 492.5h5M563 486.5h3M563 492.5h3M587 486.5h6M587 492.5h6M597 486.5h6M597 492.5h6M621 486.5h3M621 492.5h3M630 486.5h6M630 492.5h6M642 486.5h6M642 492.5h6M648 486.5h5M648 492.5h5M656 486.5h6M656 492.5h6M662 486.5h4M662 492.5h4M679 486.5h4M679 492.5h4M683 486.5h2M683 492.5h2M691 486.5h2M691 492.5h2M734 486.5h5M734 492.5h5M767 486.5h4M767 492.5h4M783 486.5h2M783 492.5h2M788 486.5h4M788 492.5h4M792 486.5h5M792 492.5h5M797 486.5h5M797 492.5h5M808 486.5h6M808 492.5h6M832 486.5h3M832 492.5h3M835 486.5h5M835 492.5h5M859 486.5h5M859 492.5h5M873 486.5h2M873 492.5h2M893 486.5h3M893 492.5h3M135 531.5h3M135 537.5h3M141 531.5h3M141 537.5h3M149 531.5h4M149 537.5h4M159 531.5h5M159 537.5h5M164 531.5h5M164 537.5h5M182 531.5h3M182 537.5h3M192 531.5h4M192 537.5h4M205 531.5h5M205 537.5h5M213 531.5h3M213 537.5h3M227 531.5h6M227 537.5h6M233 531.5h6M233 537.5h6M247 531.5h4M247 537.5h4M277 531.5h6M277 537.5h6M292 531.5h6M292 537.5h6M301 531.5h6M301 537.5h6M307 531.5h2M307 537.5h2M309 531.5h4M309 537.5h4M327 531.5h6M327 537.5h6M346 531.5h4M346 537.5h4M370 531.5h4M370 537.5h4M374 531.5h3M374 537.5h3M386 531.5h3M386 537.5h3M431 531.5h6M431 537.5h6M437 531.5h2M437 537.5h2M450 531.5h3M450 537.5h3M456 531.5h6M456 537.5h6M468 531.5h3M468 537.5h3M471 531.5h3M471 537.5h3M474 531.5h4M474 537.5h4M289 577.5h5M289 583.5h5M305 577.5h4M305 583.5h4M309 577.5h2M309 583.5h2M311 577.5h2M311 583.5h2M324 577.5h5M324 583.5h5"/>
</g>
<g stroke="#000" stroke-width="5.56" stroke-linecap="round" fill="none">
<path d="M872.5 77.50h0M902.5 77.50h0M906.0 77.50h0M919.0 77.50h0"/>
<path d="M351.5 122.5h0m542 0h0M398.5 168.5h0m412 0h0m92 0h0M196.5 214.5h0m209 0h0m115 0h0m151 0h0m87 0h0m48 0h0m59 0h0m41 0h0m24 0h0M164.5 260.5h0m72 0h0m193 0h0m80 0h0m164 0h0m42 0h0m30 0h0m33 0h0m34 0h0m14 0h0m41 0h0m19 0h0m27 0h0m11 0h0m12 0h0M156.5 305.5h0m23 0h0m36 0h0m35 0h0m17 0h0m66 0h0m17 0h0m35 0h0m41 0h0m17 0h0m16 0h0m17 0h0m19 0h0m13 0h0m29 0h0m19 0h0m15 0h0m45 0h0m17 0h0m10 0h0m19 0h0m16 0h0m14 0h0m19 0h0m15 0h0m16 0h0m16 0h0m18 0h0m11 0h0m15 0h0m14 0h0m13 0h0m13 0h0m18 0h0m13 0h0m9 0h0m12 0h0m12 0h0m16 0h0m10 0h0M140.5 351.5h0m20 0h0m22 0h0m36 0h0m19 0h0m18 0h0m10 0h0m13 0h0m62 0h0m17 0h0m23 0h0m23 0h0m17 0h0m24 0h0m14 0h0m12 0h0m13 0h0m30 0h0m12 0h0m14 0h0m21 0h0m30 0h0m25 0h0m10 0h0m12 0h0m49 0h0m19 0h0m9 0h0m8 0h0m13 0h0m21 0h0m13 0h0m8 0h0m8 0h0m11 0h0m13 0h0m19 0h0m11 0h0m14 0h0m8 0h0m14 0h0m12 0h0m11 0h0m10 0h0m11 0h0m7 0h0m8 0h0m7 0h0M141.5 397.5h0m10 0h0m15 0h0m10 0h0m10 0h0m8 0h0m12 0h0m12 0h0m11 0h0m10 0h0m20 0h0m8 0h0m6 0h0m12 0h0m30 0h0m18 0h0m4 0h0m8 0h0m11 0h0m24 0h0m6 0h0m7 0h0m12 0h0m12 0h0m6 0h0m9 0h0m10 0h0m10 0h0m9 0h0m6 0h0m9 0h0m8 0h0m7 0h0m6 0h0m9 0h0m10 0h0m4 0h0m12 0h0m8 0h0m10 0h0m8 0h0m8 0h0m7 0h0m12 0h0m11 0h0m12 0h0m7 0h0m11 0h0m11 0h0m8 0h0m7 0h0m7 0h0m13 0h0m5 0h0m7 0h0m6 0h0m10 0h0m7 0h0m9 0h0m6 0h0m7 0h0m9 0h0m6 0h0m12 0h0m6 0h0m6 0h0m8 0h0m10 0h0m5 0h0m9 0h0m9 0h0m5 0h0m8 0h0m7 0h0m8 0h0m6 0h0m7 0h0m9 0h0m8 0h0m6 0h0m12 0h0m10 0h0m11 0h0m9 0h0m8 0h0m7 0h0m7 0h0m6 0h0M139.5 443.5h0m11 0h0m12 0h0m4 0h0m10 0h0m9 0h0m8 0h0m6 0h0m8 0h0m10 0h0m6 0h0m10 0h0m10 0h0m8 0h0m6 0h0m6 0h0m9 0h0m5 0h0m5 0h0m18 0h0m15 0h0m10 0h0m9 0h0m8 0h0m8 0h0m7 0h0m7 0h0m6 0h0m8 0h0m12 0h0m8 0h0m8 0h0m11 0h0m6 0h0m8 0h0m10 0h0m7 0h0m10 0h0m6 0h0m5 0h0m5 0h0m8 0h0m7 0h0m12 0h0m9 0h0m10 0h0m6 0h0m7 0h0m6 0h0m7 0h0m5 0h0m7 0h0m9 0h0m7 0h0m7 0h0m6 0h0m11 0h0m7 0h0m8 0h0m9 0h0m5 0h0m8 0h0m7 0h0m9 0h0m8 0h0m11 0h0m7 0h0m5 0h0m9 0h0m6 0h0m6 0h0m9 0h0m3 0h0m8 0h0m7 0h0m9 0h0m9 0h0m7 0h0m9 0h0m7 0h0m10 0h0m4 0h0m8 0h0m9 0h0m5 0h0m6 0h0m9 0h0m6 0h0m7 0h0m8 0h0m8 0h0m8 0h0m7 0h0m10 0h0m8 0h0m6 0h0m6 0h0m7 0h0m8 0h0m4 0h0m7 0h0m10 0h0m7 0h0M139.5 489.5h0m7 0h0m6 0h0m10 0h0m7 0h0m5 0h0m6 0h0m8 0h0m6 0h0m7 0h0m9 0h0m8 0h0m5 0h0m8 0h0m8 0h0m10 0h0m6 0h0m7 0h0m6 0h0m5 0h0m5 0h0m8 0h0m7 0h0m8 0h0m8 0h0m8 0h0m9 0h0m6 0h0m7 0h0m6 0h0m6 0h0m7 0h0m5 0h0m9 0h0m8 0h0m5 0h0m6 0h0m7 0h0m7 0h0m8 0h0m10 0h0m7 0h0m6 0h0m6 0h0m5 0h0m9 0h0m9 0h0m9 0h0m6 0h0m6 0h0m8 0h0m8 0h0m7 0h0m4 0h0m9 0h0m6 0h0m10 0h0m5 0h0m9 0h0m8 0h0m9 0h0m9 0h0m11 0h0m10 0h0m4 0h0m9 0h0m5 0h0m11 0h0m7 0h0m6 0h0m13 0h0m6 0h0m7 0h0m9 0h0m5 0h0m6 0h0m8 0h0m7 0h0m9 0h0m8 0h0m10 0h0m10 0h0m8 0h0m9 0h0m7 0h0m11 0h0m8 0h0m8 0h0m10 0h0m7 0h0m11 0h0m5 0h0m11 0h0m12 0h0m13 0h0m6 0h0m8 0h0m12 0h0m10 0h0m7 0h0m11 0h0m12 0h0m8 0h0m8 0h0M137.5 534.5h0m7 0h0m9 0h0m11 0h0m6 0h0m7 0h0m8 0h0m6 0h0m7 0h0m9 0h0m6 0h0m8 0h0m6 0h0m7 0h0m8 0h0m7 0h0m12 0h0m9 0h0m9 0h0m13 0h0m6 0h0m8 0h0m7 0h0m11 0h0m6 0h0m12 0h0m7 0h0m9 0h0m8 0h0m11 0h0m11 0h0m8 0h0m7 0h0m9 0h0m8 0h0m5 0h0m7 0h0m11 0h0m8 0h0m7 0h0m11 0h0m10 0h0m6 0h0m7 0h0m10 0h0m14 0h0m11 0h0m9 0h0m9 0h0m6 0h0m8 0h0m12 0h0m10 0h0m13 0h0m9 0h0m8 0h0m16 0h0m9 0h0m5 0h0m11 0h0m14 0h0m12 0h0m12 0h0m8 0h0m10 0h0m10 0h0m9 0h0m18 0h0m4 0h0m13 0h0m14 0h0m12 0h0m14 0h0m10 0h0m14 0h0m13 0h0m7 0h0m16 0h0m21 0h0m16 0h0m13 0h0m13 0h0M134.5 580.5h0m5 0h0m8 0h0m8 0h0m10 0h0m14 0h0m12 0h0m8 0h0m9 0h0m9 0h0m14 0h0m7 0h0m9 0h0m9 0h0m16 0h0m12 0h0m14 0h0m9 0h0m7 0h0m9 0h0m10 0h0m14 0h0m10 0h0m9 0h0m8 0h0m14 0h0m17 0h0m14 0h0m11 0h0m17 0h0m5 0h0m14 0h0m11 0h0m5 0h0m13 0h0m18 0h0m10 0h0m13 0h0m9 0h0m14 0h0m20 0h0m16 0h0m11 0h0m11 0h0m19 0h0m11 0h0m17 0h0m16 0h0m21 0h0m19 0h0m11 0h0m13 0h0m22 0h0m17 0h0m20 0h0m37 0h0m43 0h0m32 0h0m20 0h0M146.5 626.5h0m33 0h0m15 0h0m19 0h0m27 0h0m19 0h0m18 0h0m10 0h0m11 0h0m12 0h0m7 0h0m11 0h0m11 0h0m16 0h0m19 0h0m14 0h0m21 0h0m30 0h0m22 0h0m23 0h0m29 0h0m28 0h0m22 0h0m32 0h0m23 0h0m26 0h0m23 0h0m29 0h0m50 0h0m47 0h0m71 0h0M147.5 672.5h0m50 0h0m44 0h0m47 0h0m11 0h0m12 0h0m17 0h0m21 0h0m26 0h0m30 0h0m83 0h0m38 0h0m41 0h0m41 0h0m37 0h0m90 0h0m95 0h0M215.5 717.5h0m78 0h0m24 0h0m47 0h0m104 0h0m98 0h0m73 0h0m151 0h0M418.5 763.5h0M483.5 809.5h0"/>
<path d="M423.5 122.5h0m488 0h0M423.5 168.5h0m396 0h0m93 0h0M208.5 214.5h0m203 0h0m112 0h0m151 0h0m93 0h0m43 0h0m60 0h0m38 0h0m26 0h0M164.5 260.5h0m75 0h0m191 0h0m103 0h0m140 0h0m46 0h0m30 0h0m29 0h0m35 0h0m14 0h0m44 0h0m16 0h0m27 0h0m10 0h0m15 0h0M156.5 305.5h0m26 0h0m35 0h0m34 0h0m16 0h0m68 0h0m16 0h0m43 0h0m34 0h0m16 0h0m17 0h0m15 0h0m19 0h0m13 0h0m30 0h0m19 0h0m15 0h0m47 0h0m15 0h0m14 0h0m18 0h0m13 0h0m15 0h0m18 0h0m16 0h0m14 0h0m17 0h0m18 0h0m13 0h0m13 0h0m14 0h0m12 0h0m14 0h0m19 0h0m12 0h0m9 0h0m12 0h0m12 0h0m16 0h0m9 0h0M140.5 351.5h0m26 0h0m17 0h0m37 0h0m17 0h0m18 0h0m11 0h0m13 0h0m62 0h0m16 0h0m24 0h0m22 0h0m17 0h0m25 0h0m13 0h0m13 0h0m12 0h0m31 0h0m12 0h0m14 0h0m22 0h0m34 0h0m20 0h0m10 0h0m11 0h0m49 0h0m20 0h0m8 0h0m8 0h0m20 0h0m14 0h0m14 0h0m7 0h0m8 0h0m14 0h0m14 0h0m15 0h0m12 0h0m13 0h0m9 0h0m13 0h0m14 0h0m10 0h0m9 0h0m11 0h0m7 0h0m8 0h0m7 0h0M141.5 397.5h0m13 0h0m12 0h0m12 0h0m8 0h0m9 0h0m11 0h0m13 0h0m11 0h0m10 0h0m19 0h0m9 0h0m7 0h0m12 0h0m28 0h0m18 0h0m6 0h0m7 0h0m10 0h0m24 0h0m6 0h0m8 0h0m12 0h0m12 0h0m7 0h0m7 0h0m11 0h0m10 0h0m9 0h0m5 0h0m9 0h0m8 0h0m7 0h0m7 0h0m8 0h0m10 0h0m4 0h0m12 0h0m8 0h0m10 0h0m8 0h0m9 0h0m7 0h0m11 0h0m13 0h0m12 0h0m5 0h0m12 0h0m11 0h0m8 0h0m6 0h0m7 0h0m13 0h0m5 0h0m8 0h0m5 0h0m10 0h0m8 0h0m9 0h0m6 0h0m7 0h0m9 0h0m6 0h0m11 0h0m6 0h0m7 0h0m7 0h0m10 0h0m5 0h0m10 0h0m8 0h0m5 0h0m8 0h0m8 0h0m7 0h0m7 0h0m7 0h0m10 0h0m6 0h0m6 0h0m13 0h0m9 0h0m11 0h0m10 0h0m7 0h0m8 0h0m6 0h0m6 0h0M140.5 443.5h0m10 0h0m12 0h0m4 0h0m11 0h0m9 0h0m8 0h0m5 0h0m9 0h0m10 0h0m7 0h0m8 0h0m11 0h0m7 0h0m6 0h0m7 0h0m9 0h0m4 0h0m5 0h0m18 0h0m16 0h0m10 0h0m9 0h0m7 0h0m8 0h0m7 0h0m8 0h0m6 0h0m8 0h0m11 0h0m8 0h0m8 0h0m11 0h0m7 0h0m7 0h0m10 0h0m8 0h0m9 0h0m6 0h0m5 0h0m5 0h0m8 0h0m8 0h0m11 0h0m10 0h0m9 0h0m6 0h0m7 0h0m7 0h0m6 0h0m5 0h0m7 0h0m9 0h0m8 0h0m7 0h0m7 0h0m9 0h0m7 0h0m8 0h0m9 0h0m6 0h0m7 0h0m9 0h0m7 0h0m8 0h0m11 0h0m7 0h0m6 0h0m8 0h0m6 0h0m6 0h0m9 0h0m3 0h0m9 0h0m7 0h0m8 0h0m10 0h0m7 0h0m8 0h0m7 0h0m10 0h0m6 0h0m6 0h0m9 0h0m5 0h0m6 0h0m9 0h0m7 0h0m8 0h0m6 0h0m8 0h0m8 0h0m8 0h0m9 0h0m8 0h0m6 0h0m6 0h0m8 0h0m8 0h0m3 0h0m7 0h0m11 0h0m8 0h0M139.5 489.5h0m8 0h0m6 0h0m9 0h0m7 0h0m5 0h0m6 0h0m9 0h0m5 0h0m7 0h0m9 0h0m8 0h0m5 0h0m9 0h0m7 0h0m11 0h0m5 0h0m7 0h0m6 0h0m5 0h0m5 0h0m9 0h0m7 0h0m8 0h0m7 0h0m8 0h0m10 0h0m6 0h0m7 0h0m5 0h0m6 0h0m7 0h0m6 0h0m8 0h0m9 0h0m4 0h0m7 0h0m6 0h0m9 0h0m8 0h0m8 0h0m7 0h0m6 0h0m6 0h0m5 0h0m9 0h0m9 0h0m9 0h0m6 0h0m7 0h0m8 0h0m7 0h0m7 0h0m5 0h0m9 0h0m6 0h0m9 0h0m5 0h0m10 0h0m8 0h0m10 0h0m9 0h0m9 0h0m10 0h0m4 0h0m9 0h0m6 0h0m11 0h0m6 0h0m6 0h0m13 0h0m7 0h0m7 0h0m8 0h0m5 0h0m6 0h0m8 0h0m7 0h0m9 0h0m8 0h0m12 0h0m8 0h0m9 0h0m8 0h0m8 0h0m11 0h0m8 0h0m8 0h0m9 0h0m7 0h0m11 0h0m6 0h0m10 0h0m12 0h0m14 0h0m5 0h0m8 0h0m13 0h0m9 0h0m8 0h0m10 0h0m13 0h0m7 0h0m8 0h0M138.5 534.5h0m7 0h0m10 0h0m9 0h0m7 0h0m7 0h0m8 0h0m5 0h0m8 0h0m8 0h0m6 0h0m8 0h0m7 0h0m7 0h0m7 0h0m7 0h0m12 0h0m9 0h0m9 0h0m13 0h0m7 0h0m7 0h0m8 0h0m10 0h0m6 0h0m12 0h0m8 0h0m8 0h0m9 0h0m11 0h0m11 0h0m7 0h0m8 0h0m9 0h0m8 0h0m5 0h0m6 0h0m11 0h0m9 0h0m6 0h0m11 0h0m10 0h0m7 0h0m6 0h0m11 0h0m13 0h0m11 0h0m9 0h0m9 0h0m8 0h0m8 0h0m10 0h0m12 0h0m11 0h0m9 0h0m9 0h0m16 0h0m8 0h0m5 0h0m11 0h0m16 0h0m11 0h0m12 0h0m8 0h0m10 0h0m10 0h0m9 0h0m17 0h0m7 0h0m11 0h0m14 0h0m11 0h0m14 0h0m11 0h0m14 0h0m12 0h0m8 0h0m16 0h0m21 0h0m15 0h0m14 0h0m13 0h0M135.5 580.5h0m5 0h0m8 0h0m7 0h0m15 0h0m10 0h0m11 0h0m8 0h0m9 0h0m10 0h0m14 0h0m7 0h0m8 0h0m10 0h0m15 0h0m12 0h0m14 0h0m9 0h0m8 0h0m8 0h0m12 0h0m15 0h0m7 0h0m9 0h0m9 0h0m15 0h0m15 0h0m14 0h0m11 0h0m17 0h0m7 0h0m12 0h0m11 0h0m5 0h0m14 0h0m17 0h0m10 0h0m13 0h0m10 0h0m13 0h0m21 0h0m15 0h0m14 0h0m9 0h0m19 0h0m11 0h0m19 0h0m13 0h0m21 0h0m20 0h0m11 0h0m13 0h0m21 0h0m17 0h0m20 0h0m40 0h0m43 0h0m30 0h0m20 0h0M146.5 626.5h0m33 0h0m16 0h0m20 0h0m25 0h0m20 0h0m17 0h0m10 0h0m12 0h0m12 0h0m7 0h0m10 0h0m11 0h0m18 0h0m17 0h0m15 0h0m21 0h0m29 0h0m23 0h0m23 0h0m32 0h0m25 0h0m21 0h0m36 0h0m20 0h0m27 0h0m22 0h0m35 0h0m43 0h0m47 0h0m76 0h0M148.5 672.5h0m50 0h0m44 0h0m46 0h0m11 0h0m12 0h0m17 0h0m22 0h0m25 0h0m32 0h0m82 0h0m37 0h0m45 0h0m41 0h0m37 0h0m89 0h0m93 0h0M228.5 717.5h0m66 0h0m25 0h0m50 0h0m108 0h0m93 0h0m73 0h0m148 0h0M475.5 763.5h0M559.5 809.5h0"/>
<path d="M424.5 122.5h0m490 0h0M433.5 168.5h0m388 0h0m93 0h0M213.5 214.5h0m206 0h0m109 0h0m150 0h0m91 0h0m46 0h0m56 0h0m40 0h0m23 0h0M164.5 260.5h0m79 0h0m191 0h0m101 0h0m139 0h0m49 0h0m29 0h0m26 0h0m35 0h0m14 0h0m44 0h0m18 0h0m25 0h0m10 0h0m15 0h0M157.5 305.5h0m27 0h0m36 0h0m32 0h0m19 0h0m65 0h0m17 0h0m46 0h0m30 0h0m15 0h0m20 0h0m13 0h0m19 0h0m13 0h0m29 0h0m21 0h0m14 0h0m46 0h0m16 0h0m18 0h0m14 0h0m13 0h0m15 0h0m17 0h0m17 0h0m14 0h0m17 0h0m18 0h0m13 0h0m13 0h0m13 0h0m14 0h0m13 0h0m18 0h0m12 0h0m10 0h0m13 0h0m11 0h0m15 0h0m12 0h0M141.5 351.5h0m25 0h0m17 0h0m38 0h0m16 0h0m18 0h0m11 0h0m20 0h0m60 0h0m12 0h0m23 0h0m22 0h0m19 0h0m23 0h0m14 0h0m13 0h0m12 0h0m31 0h0m13 0h0m12 0h0m22 0h0m38 0h0m16 0h0m11 0h0m11 0h0m48 0h0m20 0h0m9 0h0m7 0h0m26 0h0m9 0h0m13 0h0m8 0h0m7 0h0m17 0h0m12 0h0m15 0h0m14 0h0m10 0h0m10 0h0m13 0h0m13 0h0m10 0h0m10 0h0m11 0h0m6 0h0m9 0h0M134.5 397.5h0m9 0h0m12 0h0m12 0h0m11 0h0m9 0h0m8 0h0m12 0h0m12 0h0m11 0h0m12 0h0m18 0h0m8 0h0m7 0h0m14 0h0m28 0h0m17 0h0m5 0h0m8 0h0m10 0h0m23 0h0m7 0h0m7 0h0m12 0h0m12 0h0m7 0h0m8 0h0m10 0h0m10 0h0m9 0h0m6 0h0m8 0h0m9 0h0m6 0h0m7 0h0m9 0h0m9 0h0m6 0h0m11 0h0m7 0h0m10 0h0m8 0h0m10 0h0m7 0h0m10 0h0m14 0h0m11 0h0m6 0h0m12 0h0m10 0h0m8 0h0m7 0h0m8 0h0m11 0h0m6 0h0m8 0h0m5 0h0m9 0h0m8 0h0m9 0h0m6 0h0m9 0h0m8 0h0m5 0h0m12 0h0m5 0h0m7 0h0m8 0h0m9 0h0m5 0h0m11 0h0m7 0h0m5 0h0m8 0h0m8 0h0m8 0h0m6 0h0m7 0h0m10 0h0m6 0h0m7 0h0m12 0h0m10 0h0m12 0h0m8 0h0m7 0h0m8 0h0m6 0h0m7 0h0M143.5 443.5h0m7 0h0m13 0h0m4 0h0m11 0h0m8 0h0m8 0h0m5 0h0m10 0h0m9 0h0m7 0h0m8 0h0m11 0h0m8 0h0m5 0h0m7 0h0m9 0h0m4 0h0m5 0h0m19 0h0m15 0h0m10 0h0m9 0h0m8 0h0m8 0h0m6 0h0m9 0h0m6 0h0m9 0h0m9 0h0m9 0h0m7 0h0m11 0h0m8 0h0m6 0h0m10 0h0m8 0h0m10 0h0m5 0h0m6 0h0m5 0h0m7 0h0m9 0h0m11 0h0m9 0h0m10 0h0m6 0h0m6 0h0m7 0h0m6 0h0m5 0h0m10 0h0m6 0h0m8 0h0m7 0h0m7 0h0m9 0h0m8 0h0m9 0h0m8 0h0m5 0h0m8 0h0m9 0h0m6 0h0m9 0h0m11 0h0m6 0h0m6 0h0m8 0h0m6 0h0m6 0h0m9 0h0m5 0h0m7 0h0m8 0h0m7 0h0m10 0h0m7 0h0m8 0h0m8 0h0m9 0h0m6 0h0m7 0h0m8 0h0m5 0h0m6 0h0m10 0h0m6 0h0m8 0h0m7 0h0m7 0h0m9 0h0m9 0h0m9 0h0m6 0h0m7 0h0m6 0h0m7 0h0m8 0h0m4 0h0m7 0h0m10 0h0m9 0h0M140.5 489.5h0m7 0h0m6 0h0m9 0h0m8 0h0m4 0h0m7 0h0m8 0h0m5 0h0m7 0h0m9 0h0m8 0h0m5 0h0m9 0h0m9 0h0m9 0h0m5 0h0m8 0h0m6 0h0m4 0h0m6 0h0m8 0h0m8 0h0m7 0h0m8 0h0m8 0h0m9 0h0m8 0h0m5 0h0m5 0h0m6 0h0m7 0h0m6 0h0m9 0h0m8 0h0m5 0h0m7 0h0m6 0h0m8 0h0m9 0h0m7 0h0m7 0h0m6 0h0m7 0h0m5 0h0m9 0h0m9 0h0m9 0h0m5 0h0m8 0h0m7 0h0m8 0h0m7 0h0m5 0h0m8 0h0m6 0h0m9 0h0m5 0h0m10 0h0m8 0h0m10 0h0m10 0h0m9 0h0m9 0h0m5 0h0m8 0h0m8 0h0m9 0h0m7 0h0m6 0h0m12 0h0m7 0h0m8 0h0m7 0h0m6 0h0m5 0h0m9 0h0m6 0h0m10 0h0m8 0h0m11 0h0m9 0h0m8 0h0m9 0h0m8 0h0m10 0h0m8 0h0m10 0h0m8 0h0m7 0h0m10 0h0m7 0h0m9 0h0m13 0h0m14 0h0m5 0h0m7 0h0m13 0h0m10 0h0m7 0h0m12 0h0m11 0h0m8 0h0m7 0h0M138.5 534.5h0m7 0h0m11 0h0m9 0h0m7 0h0m7 0h0m7 0h0m5 0h0m9 0h0m7 0h0m6 0h0m9 0h0m6 0h0m7 0h0m7 0h0m8 0h0m12 0h0m9 0h0m9 0h0m13 0h0m7 0h0m6 0h0m8 0h0m10 0h0m8 0h0m10 0h0m10 0h0m7 0h0m9 0h0m11 0h0m10 0h0m8 0h0m7 0h0m10 0h0m7 0h0m5 0h0m7 0h0m11 0h0m8 0h0m7 0h0m10 0h0m10 0h0m7 0h0m7 0h0m10 0h0m13 0h0m11 0h0m9 0h0m9 0h0m8 0h0m8 0h0m10 0h0m12 0h0m11 0h0m9 0h0m10 0h0m16 0h0m7 0h0m6 0h0m12 0h0m15 0h0m11 0h0m11 0h0m8 0h0m11 0h0m9 0h0m9 0h0m17 0h0m7 0h0m11 0h0m15 0h0m10 0h0m17 0h0m8 0h0m14 0h0m12 0h0m12 0h0m14 0h0m19 0h0m15 0h0m16 0h0m11 0h0M135.5 580.5h0m5 0h0m8 0h0m7 0h0m16 0h0m9 0h0m12 0h0m8 0h0m9 0h0m9 0h0m14 0h0m8 0h0m7 0h0m10 0h0m15 0h0m13 0h0m14 0h0m9 0h0m7 0h0m9 0h0m11 0h0m16 0h0m7 0h0m8 0h0m9 0h0m15 0h0m15 0h0m14 0h0m14 0h0m14 0h0m9 0h0m11 0h0m10 0h0m7 0h0m14 0h0m16 0h0m10 0h0m12 0h0m12 0h0m12 0h0m23 0h0m12 0h0m14 0h0m11 0h0m17 0h0m13 0h0m17 0h0m16 0h0m18 0h0m20 0h0m12 0h0m12 0h0m22 0h0m17 0h0m21 0h0m39 0h0m43 0h0m30 0h0m19 0h0M146.5 626.5h0m33 0h0m16 0h0m22 0h0m24 0h0m21 0h0m15 0h0m11 0h0m13 0h0m11 0h0m6 0h0m11 0h0m12 0h0m17 0h0m16 0h0m18 0h0m21 0h0m32 0h0m18 0h0m24 0h0m30 0h0m26 0h0m23 0h0m33 0h0m21 0h0m27 0h0m23 0h0m39 0h0m37 0h0m48 0h0m99 0h0M149.5 672.5h0m50 0h0m47 0h0m43 0h0m11 0h0m15 0h0m15 0h0m21 0h0m28 0h0m28 0h0m85 0h0m35 0h0m49 0h0m40 0h0m35 0h0m89 0h0m113 0h0M229.5 717.5h0m67 0h0m24 0h0m52 0h0m107 0h0m91 0h0m79 0h0m204 0h0M545.5 763.5h0M632.5 809.5h0"/>
<path d="M432.5 122.5h0m497 0h0M437.5 168.5h0m386 0h0m94 0h0M225.5 214.5h0m197 0h0m112 0h0m169 0h0m67 0h0m49 0h0m52 0h0m41 0h0m25 0h0M168.5 260.5h0m82 0h0m185 0h0m103 0h0m137 0h0m49 0h0m42 0h0m14 0h0m34 0h0m19 0h0m40 0h0m18 0h0m23 0h0m11 0h0m18 0h0M158.5 305.5h0m27 0h0m36 0h0m33 0h0m18 0h0m64 0h0m18 0h0m46 0h0m31 0h0m15 0h0m19 0h0m13 0h0m19 0h0m16 0h0m26 0h0m20 0h0m22 0h0m39 0h0m16 0h0m17 0h0m14 0h0m15 0h0m14 0h0m16 0h0m19 0h0m12 0h0m18 0h0m17 0h0m14 0h0m13 0h0m13 0h0m14 0h0m12 0h0m20 0h0m11 0h0m9 0h0m13 0h0m11 0h0m15 0h0m13 0h0M141.5 351.5h0m25 0h0m20 0h0m36 0h0m16 0h0m18 0h0m11 0h0m20 0h0m59 0h0m12 0h0m23 0h0m29 0h0m14 0h0m21 0h0m16 0h0m11 0h0m13 0h0m30 0h0m13 0h0m12 0h0m23 0h0m44 0h0m10 0h0m10 0h0m15 0h0m45 0h0m20 0h0m9 0h0m6 0h0m27 0h0m8 0h0m13 0h0m8 0h0m8 0h0m16 0h0m14 0h0m15 0h0m12 0h0m11 0h0m9 0h0m14 0h0m12 0h0m10 0h0m11 0h0m11 0h0m6 0h0m9 0h0M134.5 397.5h0m11 0h0m11 0h0m11 0h0m11 0h0m10 0h0m8 0h0m11 0h0m12 0h0m12 0h0m11 0h0m18 0h0m8 0h0m7 0h0m14 0h0m29 0h0m16 0h0m6 0h0m7 0h0m11 0h0m22 0h0m7 0h0m8 0h0m15 0h0m8 0h0m7 0h0m8 0h0m11 0h0m9 0h0m10 0h0m6 0h0m8 0h0m8 0h0m6 0h0m7 0h0m9 0h0m9 0h0m6 0h0m12 0h0m7 0h0m10 0h0m7 0h0m10 0h0m7 0h0m15 0h0m10 0h0m11 0h0m5 0h0m12 0h0m10 0h0m9 0h0m6 0h0m8 0h0m11 0h0m6 0h0m9 0h0m5 0h0m9 0h0m8 0h0m8 0h0m7 0h0m9 0h0m7 0h0m5 0h0m12 0h0m5 0h0m7 0h0m9 0h0m8 0h0m6 0h0m11 0h0m7 0h0m5 0h0m8 0h0m8 0h0m7 0h0m7 0h0m7 0h0m9 0h0m7 0h0m6 0h0m13 0h0m9 0h0m12 0h0m9 0h0m6 0h0m8 0h0m6 0h0M134.5 443.5h0m9 0h0m7 0h0m13 0h0m6 0h0m10 0h0m8 0h0m8 0h0m5 0h0m10 0h0m9 0h0m6 0h0m9 0h0m10 0h0m8 0h0m5 0h0m8 0h0m8 0h0m4 0h0m5 0h0m20 0h0m15 0h0m10 0h0m8 0h0m9 0h0m8 0h0m6 0h0m8 0h0m6 0h0m9 0h0m10 0h0m9 0h0m6 0h0m11 0h0m8 0h0m6 0h0m10 0h0m9 0h0m9 0h0m6 0h0m5 0h0m5 0h0m7 0h0m9 0h0m11 0h0m10 0h0m9 0h0m7 0h0m5 0h0m7 0h0m6 0h0m6 0h0m10 0h0m6 0h0m8 0h0m7 0h0m7 0h0m8 0h0m8 0h0m9 0h0m9 0h0m5 0h0m7 0h0m9 0h0m7 0h0m10 0h0m9 0h0m6 0h0m6 0h0m8 0h0m7 0h0m6 0h0m9 0h0m4 0h0m8 0h0m7 0h0m7 0h0m10 0h0m8 0h0m8 0h0m8 0h0m9 0h0m5 0h0m7 0h0m9 0h0m6 0h0m5 0h0m9 0h0m7 0h0m7 0h0m7 0h0m8 0h0m8 0h0m9 0h0m9 0h0m7 0h0m6 0h0m7 0h0m7 0h0m7 0h0m4 0h0m8 0h0m10 0h0m9 0h0M140.5 489.5h0m7 0h0m6 0h0m10 0h0m8 0h0m4 0h0m7 0h0m8 0h0m4 0h0m7 0h0m10 0h0m7 0h0m6 0h0m8 0h0m10 0h0m8 0h0m7 0h0m6 0h0m8 0h0m2 0h0m7 0h0m8 0h0m7 0h0m7 0h0m9 0h0m8 0h0m8 0h0m8 0h0m5 0h0m6 0h0m6 0h0m6 0h0m6 0h0m10 0h0m7 0h0m5 0h0m7 0h0m6 0h0m9 0h0m8 0h0m7 0h0m7 0h0m6 0h0m7 0h0m6 0h0m9 0h0m8 0h0m9 0h0m6 0h0m7 0h0m8 0h0m7 0h0m7 0h0m5 0h0m9 0h0m7 0h0m8 0h0m5 0h0m10 0h0m7 0h0m12 0h0m8 0h0m10 0h0m9 0h0m4 0h0m8 0h0m8 0h0m9 0h0m8 0h0m6 0h0m12 0h0m8 0h0m7 0h0m7 0h0m5 0h0m5 0h0m9 0h0m7 0h0m9 0h0m8 0h0m11 0h0m9 0h0m8 0h0m9 0h0m9 0h0m9 0h0m8 0h0m11 0h0m7 0h0m8 0h0m9 0h0m8 0h0m8 0h0m14 0h0m13 0h0m5 0h0m8 0h0m14 0h0m10 0h0m7 0h0m10 0h0m12 0h0m9 0h0m5 0h0M139.5 534.5h0m7 0h0m11 0h0m8 0h0m7 0h0m8 0h0m6 0h0m6 0h0m9 0h0m7 0h0m6 0h0m9 0h0m7 0h0m6 0h0m7 0h0m7 0h0m13 0h0m8 0h0m9 0h0m13 0h0m7 0h0m6 0h0m8 0h0m11 0h0m7 0h0m11 0h0m9 0h0m7 0h0m9 0h0m12 0h0m10 0h0m7 0h0m7 0h0m10 0h0m7 0h0m6 0h0m6 0h0m11 0h0m8 0h0m7 0h0m11 0h0m9 0h0m7 0h0m8 0h0m11 0h0m12 0h0m12 0h0m8 0h0m9 0h0m7 0h0m8 0h0m11 0h0m11 0h0m12 0h0m9 0h0m10 0h0m15 0h0m7 0h0m6 0h0m13 0h0m16 0h0m11 0h0m10 0h0m8 0h0m10 0h0m10 0h0m12 0h0m13 0h0m8 0h0m13 0h0m14 0h0m8 0h0m17 0h0m9 0h0m13 0h0m12 0h0m13 0h0m13 0h0m19 0h0m16 0h0m16 0h0m12 0h0M136.5 580.5h0m4 0h0m9 0h0m7 0h0m16 0h0m10 0h0m10 0h0m8 0h0m9 0h0m11 0h0m12 0h0m10 0h0m5 0h0m11 0h0m15 0h0m15 0h0m11 0h0m9 0h0m7 0h0m10 0h0m10 0h0m16 0h0m7 0h0m8 0h0m10 0h0m15 0h0m15 0h0m14 0h0m13 0h0m15 0h0m8 0h0m13 0h0m9 0h0m6 0h0m16 0h0m16 0h0m9 0h0m12 0h0m11 0h0m16 0h0m19 0h0m13 0h0m13 0h0m12 0h0m17 0h0m12 0h0m18 0h0m15 0h0m19 0h0m20 0h0m14 0h0m10 0h0m21 0h0m17 0h0m21 0h0m43 0h0m46 0h0m24 0h0m20 0h0M147.5 626.5h0m33 0h0m15 0h0m22 0h0m26 0h0m19 0h0m16 0h0m14 0h0m10 0h0m10 0h0m7 0h0m11 0h0m11 0h0m18 0h0m16 0h0m17 0h0m24 0h0m30 0h0m17 0h0m27 0h0m27 0h0m27 0h0m23 0h0m34 0h0m19 0h0m28 0h0m26 0h0m46 0h0m28 0h0m50 0h0m99 0h0M149.5 672.5h0m53 0h0m45 0h0m42 0h0m13 0h0m16 0h0m12 0h0m22 0h0m28 0h0m28 0h0m84 0h0m40 0h0m47 0h0m38 0h0m40 0h0m88 0h0m151 0h0M239.5 717.5h0m57 0h0m28 0h0m52 0h0m114 0h0m84 0h0m79 0h0M188.5 763.5h0m397 0h0M685.5 809.5h0"/>
<path d="M436.5 122.5h0m497 0h0M479.5 168.5h0m362 0h0m78 0h0M245.5 214.5h0m181 0h0m110 0h0m172 0h0m66 0h0m49 0h0m49 0h0m44 0h0m22 0h0M170.5 260.5h0m83 0h0m186 0h0m102 0h0m138 0h0m47 0h0m41 0h0m21 0h0m26 0h0m28 0h0m32 0h0m25 0h0m15 0h0m12 0h0m18 0h0M162.5 305.5h0m26 0h0m33 0h0m36 0h0m18 0h0m61 0h0m20 0h0m54 0h0m22 0h0m14 0h0m21 0h0m11 0h0m19 0h0m17 0h0m25 0h0m21 0h0m24 0h0m37 0h0m15 0h0m18 0h0m14 0h0m14 0h0m16 0h0m16 0h0m17 0h0m12 0h0m18 0h0m17 0h0m14 0h0m14 0h0m13 0h0m13 0h0m16 0h0m17 0h0m10 0h0m11 0h0m11 0h0m13 0h0m13 0h0m14 0h0M144.5 351.5h0m23 0h0m23 0h0m32 0h0m16 0h0m20 0h0m9 0h0m20 0h0m59 0h0m13 0h0m23 0h0m28 0h0m16 0h0m19 0h0m16 0h0m11 0h0m19 0h0m25 0h0m13 0h0m11 0h0m23 0h0m44 0h0m10 0h0m10 0h0m26 0h0m35 0h0m20 0h0m8 0h0m7 0h0m28 0h0m6 0h0m15 0h0m7 0h0m9 0h0m15 0h0m14 0h0m14 0h0m13 0h0m10 0h0m9 0h0m14 0h0m13 0h0m10 0h0m10 0h0m12 0h0m6 0h0m8 0h0M136.5 397.5h0m9 0h0m11 0h0m12 0h0m13 0h0m7 0h0m10 0h0m10 0h0m12 0h0m11 0h0m12 0h0m17 0h0m8 0h0m8 0h0m14 0h0m30 0h0m14 0h0m6 0h0m7 0h0m12 0h0m21 0h0m8 0h0m8 0h0m14 0h0m8 0h0m8 0h0m8 0h0m10 0h0m10 0h0m9 0h0m7 0h0m7 0h0m8 0h0m6 0h0m7 0h0m12 0h0m7 0h0m5 0h0m12 0h0m7 0h0m10 0h0m8 0h0m10 0h0m6 0h0m16 0h0m9 0h0m11 0h0m7 0h0m11 0h0m10 0h0m8 0h0m6 0h0m9 0h0m11 0h0m5 0h0m9 0h0m5 0h0m9 0h0m8 0h0m8 0h0m8 0h0m9 0h0m6 0h0m7 0h0m11 0h0m4 0h0m8 0h0m8 0h0m9 0h0m6 0h0m10 0h0m7 0h0m5 0h0m9 0h0m7 0h0m7 0h0m8 0h0m6 0h0m11 0h0m5 0h0m7 0h0m12 0h0m9 0h0m13 0h0m9 0h0m6 0h0m7 0h0m7 0h0M134.5 443.5h0m10 0h0m7 0h0m12 0h0m6 0h0m11 0h0m7 0h0m8 0h0m5 0h0m11 0h0m8 0h0m6 0h0m9 0h0m12 0h0m7 0h0m5 0h0m7 0h0m8 0h0m4 0h0m5 0h0m21 0h0m14 0h0m10 0h0m9 0h0m9 0h0m8 0h0m5 0h0m8 0h0m7 0h0m9 0h0m9 0h0m9 0h0m7 0h0m11 0h0m7 0h0m7 0h0m9 0h0m10 0h0m9 0h0m5 0h0m5 0h0m6 0h0m8 0h0m9 0h0m10 0h0m9 0h0m9 0h0m7 0h0m6 0h0m6 0h0m7 0h0m6 0h0m9 0h0m8 0h0m6 0h0m7 0h0m11 0h0m5 0h0m7 0h0m9 0h0m9 0h0m6 0h0m7 0h0m8 0h0m8 0h0m9 0h0m10 0h0m6 0h0m6 0h0m8 0h0m6 0h0m7 0h0m8 0h0m5 0h0m7 0h0m7 0h0m9 0h0m9 0h0m7 0h0m8 0h0m10 0h0m7 0h0m6 0h0m6 0h0m9 0h0m6 0h0m6 0h0m8 0h0m7 0h0m8 0h0m6 0h0m9 0h0m7 0h0m10 0h0m8 0h0m7 0h0m7 0h0m6 0h0m8 0h0m6 0h0m5 0h0m7 0h0m11 0h0m8 0h0M142.5 489.5h0m5 0h0m7 0h0m9 0h0m8 0h0m4 0h0m7 0h0m8 0h0m5 0h0m6 0h0m11 0h0m7 0h0m5 0h0m8 0h0m10 0h0m8 0h0m7 0h0m6 0h0m9 0h0m1 0h0m7 0h0m8 0h0m8 0h0m6 0h0m9 0h0m8 0h0m8 0h0m8 0h0m6 0h0m5 0h0m7 0h0m6 0h0m6 0h0m10 0h0m6 0h0m6 0h0m7 0h0m6 0h0m9 0h0m8 0h0m6 0h0m8 0h0m6 0h0m7 0h0m5 0h0m11 0h0m7 0h0m10 0h0m4 0h0m8 0h0m7 0h0m7 0h0m7 0h0m6 0h0m8 0h0m7 0h0m8 0h0m5 0h0m10 0h0m9 0h0m11 0h0m7 0h0m10 0h0m9 0h0m5 0h0m8 0h0m8 0h0m8 0h0m9 0h0m6 0h0m11 0h0m8 0h0m7 0h0m7 0h0m6 0h0m5 0h0m8 0h0m8 0h0m10 0h0m6 0h0m12 0h0m9 0h0m10 0h0m8 0h0m8 0h0m9 0h0m8 0h0m10 0h0m7 0h0m8 0h0m10 0h0m8 0h0m9 0h0m12 0h0m13 0h0m5 0h0m11 0h0m12 0h0m9 0h0m7 0h0m12 0h0m10 0h0m10 0h0m5 0h0M139.5 534.5h0m8 0h0m10 0h0m9 0h0m7 0h0m7 0h0m6 0h0m6 0h0m9 0h0m7 0h0m6 0h0m9 0h0m8 0h0m5 0h0m7 0h0m8 0h0m13 0h0m7 0h0m10 0h0m13 0h0m7 0h0m6 0h0m8 0h0m10 0h0m7 0h0m11 0h0m9 0h0m7 0h0m10 0h0m12 0h0m10 0h0m7 0h0m6 0h0m10 0h0m8 0h0m5 0h0m6 0h0m12 0h0m7 0h0m7 0h0m11 0h0m10 0h0m7 0h0m8 0h0m11 0h0m12 0h0m12 0h0m8 0h0m8 0h0m7 0h0m10 0h0m9 0h0m13 0h0m10 0h0m10 0h0m10 0h0m14 0h0m8 0h0m5 0h0m15 0h0m14 0h0m11 0h0m10 0h0m8 0h0m10 0h0m10 0h0m15 0h0m10 0h0m9 0h0m12 0h0m14 0h0m9 0h0m16 0h0m9 0h0m16 0h0m10 0h0m12 0h0m14 0h0m19 0h0m20 0h0m12 0h0m11 0h0M136.5 580.5h0m4 0h0m9 0h0m8 0h0m18 0h0m8 0h0m9 0h0m9 0h0m8 0h0m11 0h0m12 0h0m10 0h0m6 0h0m10 0h0m16 0h0m14 0h0m14 0h0m8 0h0m6 0h0m9 0h0m14 0h0m13 0h0m6 0h0m8 0h0m12 0h0m15 0h0m14 0h0m13 0h0m13 0h0m16 0h0m7 0h0m14 0h0m8 0h0m7 0h0m16 0h0m15 0h0m9 0h0m12 0h0m12 0h0m15 0h0m20 0h0m13 0h0m14 0h0m10 0h0m17 0h0m13 0h0m18 0h0m15 0h0m19 0h0m20 0h0m13 0h0m10 0h0m23 0h0m19 0h0m23 0h0m39 0h0m46 0h0m22 0h0m22 0h0M148.5 626.5h0m32 0h0m16 0h0m30 0h0m19 0h0m17 0h0m16 0h0m14 0h0m10 0h0m10 0h0m7 0h0m11 0h0m11 0h0m20 0h0m14 0h0m17 0h0m25 0h0m29 0h0m20 0h0m24 0h0m29 0h0m26 0h0m23 0h0m34 0h0m18 0h0m29 0h0m31 0h0m44 0h0m28 0h0m46 0h0m100 0h0M152.5 672.5h0m52 0h0m44 0h0m42 0h0m12 0h0m16 0h0m13 0h0m24 0h0m26 0h0m29 0h0m86 0h0m42 0h0m50 0h0m29 0h0m42 0h0m89 0h0m158 0h0M243.5 717.5h0m57 0h0m26 0h0m51 0h0m118 0h0m80 0h0m80 0h0M248.5 763.5h0m384 0h0M757.5 809.5h0"/>
<path d="M637.5 122.5h0m300 0h0M530.5 168.5h0m313 0h0m81 0h0M253.5 214.5h0m177 0h0m109 0h0m172 0h0m64 0h0m48 0h0m53 0h0m40 0h0m22 0h0M172.5 260.5h0m89 0h0m181 0h0m100 0h0m138 0h0m47 0h0m42 0h0m26 0h0m19 0h0m32 0h0m28 0h0m25 0h0m16 0h0m11 0h0M134.5 305.5h0m28 0h0m32 0h0m30 0h0m33 0h0m22 0h0m58 0h0m19 0h0m55 0h0m22 0h0m14 0h0m20 0h0m12 0h0m18 0h0m17 0h0m26 0h0m21 0h0m27 0h0m35 0h0m13 0h0m18 0h0m14 0h0m15 0h0m16 0h0m15 0h0m18 0h0m13 0h0m20 0h0m14 0h0m13 0h0m14 0h0m14 0h0m12 0h0m17 0h0m16 0h0m11 0h0m10 0h0m12 0h0m15 0h0m11 0h0m15 0h0M146.5 351.5h0m22 0h0m23 0h0m32 0h0m16 0h0m21 0h0m7 0h0m20 0h0m61 0h0m12 0h0m23 0h0m28 0h0m16 0h0m19 0h0m16 0h0m11 0h0m25 0h0m19 0h0m12 0h0m11 0h0m24 0h0m45 0h0m8 0h0m10 0h0m29 0h0m32 0h0m20 0h0m10 0h0m5 0h0m28 0h0m6 0h0m16 0h0m6 0h0m13 0h0m11 0h0m15 0h0m14 0h0m14 0h0m9 0h0m9 0h0m14 0h0m13 0h0m10 0h0m9 0h0m12 0h0m6 0h0m8 0h0M137.5 397.5h0m8 0h0m12 0h0m12 0h0m12 0h0m7 0h0m10 0h0m10 0h0m13 0h0m10 0h0m12 0h0m19 0h0m7 0h0m8 0h0m15 0h0m32 0h0m10 0h0m6 0h0m9 0h0m11 0h0m21 0h0m7 0h0m8 0h0m14 0h0m9 0h0m8 0h0m7 0h0m11 0h0m10 0h0m8 0h0m8 0h0m8 0h0m6 0h0m7 0h0m7 0h0m12 0h0m6 0h0m6 0h0m11 0h0m7 0h0m11 0h0m8 0h0m9 0h0m7 0h0m16 0h0m8 0h0m11 0h0m9 0h0m9 0h0m10 0h0m8 0h0m7 0h0m9 0h0m10 0h0m5 0h0m9 0h0m6 0h0m8 0h0m9 0h0m9 0h0m6 0h0m9 0h0m6 0h0m9 0h0m9 0h0m4 0h0m8 0h0m9 0h0m9 0h0m5 0h0m10 0h0m7 0h0m6 0h0m8 0h0m7 0h0m8 0h0m7 0h0m7 0h0m11 0h0m5 0h0m9 0h0m9 0h0m11 0h0m12 0h0m8 0h0m6 0h0m7 0h0m7 0h0M135.5 443.5h0m9 0h0m7 0h0m12 0h0m6 0h0m12 0h0m7 0h0m7 0h0m6 0h0m10 0h0m9 0h0m6 0h0m8 0h0m12 0h0m7 0h0m5 0h0m8 0h0m8 0h0m3 0h0m5 0h0m22 0h0m13 0h0m10 0h0m9 0h0m9 0h0m8 0h0m5 0h0m8 0h0m7 0h0m9 0h0m10 0h0m8 0h0m7 0h0m13 0h0m6 0h0m7 0h0m9 0h0m9 0h0m10 0h0m4 0h0m6 0h0m6 0h0m7 0h0m9 0h0m12 0h0m9 0h0m8 0h0m6 0h0m7 0h0m6 0h0m7 0h0m5 0h0m10 0h0m7 0h0m6 0h0m9 0h0m9 0h0m5 0h0m8 0h0m8 0h0m9 0h0m7 0h0m6 0h0m8 0h0m9 0h0m9 0h0m9 0h0m6 0h0m7 0h0m8 0h0m6 0h0m7 0h0m7 0h0m6 0h0m7 0h0m8 0h0m8 0h0m8 0h0m8 0h0m8 0h0m10 0h0m7 0h0m5 0h0m7 0h0m9 0h0m5 0h0m6 0h0m8 0h0m7 0h0m9 0h0m6 0h0m9 0h0m7 0h0m10 0h0m7 0h0m8 0h0m6 0h0m6 0h0m8 0h0m7 0h0m4 0h0m8 0h0m11 0h0m8 0h0M142.5 489.5h0m6 0h0m6 0h0m9 0h0m8 0h0m4 0h0m9 0h0m6 0h0m6 0h0m6 0h0m11 0h0m6 0h0m6 0h0m7 0h0m10 0h0m9 0h0m6 0h0m7 0h0m8 0h0m1 0h0m7 0h0m9 0h0m7 0h0m6 0h0m10 0h0m8 0h0m8 0h0m7 0h0m6 0h0m6 0h0m6 0h0m6 0h0m6 0h0m10 0h0m6 0h0m6 0h0m7 0h0m6 0h0m10 0h0m8 0h0m6 0h0m7 0h0m6 0h0m7 0h0m6 0h0m10 0h0m7 0h0m10 0h0m5 0h0m7 0h0m8 0h0m6 0h0m7 0h0m6 0h0m8 0h0m7 0h0m9 0h0m4 0h0m10 0h0m9 0h0m11 0h0m8 0h0m12 0h0m6 0h0m5 0h0m8 0h0m9 0h0m9 0h0m7 0h0m6 0h0m11 0h0m8 0h0m8 0h0m7 0h0m5 0h0m6 0h0m8 0h0m7 0h0m10 0h0m6 0h0m12 0h0m9 0h0m10 0h0m8 0h0m9 0h0m8 0h0m8 0h0m11 0h0m6 0h0m9 0h0m10 0h0m8 0h0m8 0h0m12 0h0m14 0h0m5 0h0m10 0h0m13 0h0m9 0h0m6 0h0m13 0h0m11 0h0m8 0h0m5 0h0M139.5 534.5h0m8 0h0m12 0h0m7 0h0m7 0h0m9 0h0m5 0h0m7 0h0m7 0h0m8 0h0m6 0h0m10 0h0m6 0h0m6 0h0m6 0h0m8 0h0m13 0h0m8 0h0m9 0h0m14 0h0m6 0h0m6 0h0m8 0h0m10 0h0m7 0h0m12 0h0m9 0h0m7 0h0m9 0h0m14 0h0m8 0h0m7 0h0m6 0h0m11 0h0m7 0h0m6 0h0m5 0h0m13 0h0m7 0h0m6 0h0m14 0h0m7 0h0m7 0h0m8 0h0m13 0h0m10 0h0m12 0h0m8 0h0m9 0h0m6 0h0m10 0h0m9 0h0m13 0h0m10 0h0m11 0h0m10 0h0m13 0h0m8 0h0m5 0h0m15 0h0m15 0h0m10 0h0m11 0h0m7 0h0m12 0h0m8 0h0m16 0h0m10 0h0m8 0h0m13 0h0m13 0h0m10 0h0m16 0h0m9 0h0m16 0h0m11 0h0m12 0h0m14 0h0m17 0h0m20 0h0m12 0h0m13 0h0M136.5 580.5h0m5 0h0m8 0h0m9 0h0m17 0h0m9 0h0m9 0h0m8 0h0m8 0h0m11 0h0m13 0h0m9 0h0m6 0h0m11 0h0m16 0h0m13 0h0m14 0h0m8 0h0m6 0h0m11 0h0m12 0h0m14 0h0m6 0h0m8 0h0m11 0h0m16 0h0m14 0h0m12 0h0m14 0h0m15 0h0m8 0h0m15 0h0m6 0h0m8 0h0m16 0h0m14 0h0m11 0h0m10 0h0m14 0h0m14 0h0m19 0h0m14 0h0m13 0h0m10 0h0m18 0h0m12 0h0m18 0h0m15 0h0m21 0h0m18 0h0m14 0h0m10 0h0m23 0h0m20 0h0m22 0h0m39 0h0m52 0h0m15 0h0M134.5 626.5h0m14 0h0m38 0h0m10 0h0m31 0h0m18 0h0m19 0h0m15 0h0m16 0h0m8 0h0m9 0h0m8 0h0m10 0h0m12 0h0m20 0h0m15 0h0m16 0h0m27 0h0m29 0h0m19 0h0m22 0h0m29 0h0m28 0h0m23 0h0m33 0h0m17 0h0m29 0h0m32 0h0m44 0h0m28 0h0m47 0h0m102 0h0M153.5 672.5h0m51 0h0m44 0h0m43 0h0m11 0h0m17 0h0m13 0h0m24 0h0m28 0h0m30 0h0m85 0h0m41 0h0m51 0h0m30 0h0m42 0h0m89 0h0m156 0h0M247.5 717.5h0m56 0h0m23 0h0m58 0h0m117 0h0m75 0h0m87 0h0M285.5 763.5h0m366 0h0M898.5 809.5h0"/>
<path d="M715.5 122.5h0m228 0h0M540.5 168.5h0m306 0h0m90 0h0M256.5 214.5h0m178 0h0m127 0h0m150 0h0m64 0h0m56 0h0m49 0h0m38 0h0m20 0h0M175.5 260.5h0m102 0h0m166 0h0m117 0h0m121 0h0m47 0h0m42 0h0m27 0h0m19 0h0m37 0h0m23 0h0m27 0h0m12 0h0m11 0h0M135.5 305.5h0m28 0h0m31 0h0m32 0h0m31 0h0m22 0h0m59 0h0m19 0h0m55 0h0m22 0h0m15 0h0m19 0h0m11 0h0m19 0h0m17 0h0m25 0h0m22 0h0m36 0h0m27 0h0m11 0h0m18 0h0m15 0h0m14 0h0m17 0h0m16 0h0m17 0h0m12 0h0m21 0h0m13 0h0m14 0h0m14 0h0m13 0h0m14 0h0m16 0h0m16 0h0m10 0h0m11 0h0m11 0h0m16 0h0m12 0h0m14 0h0M146.5 351.5h0m23 0h0m24 0h0m32 0h0m14 0h0m21 0h0m7 0h0m21 0h0m60 0h0m18 0h0m17 0h0m28 0h0m17 0h0m19 0h0m16 0h0m11 0h0m29 0h0m14 0h0m13 0h0m11 0h0m23 0h0m45 0h0m8 0h0m12 0h0m33 0h0m27 0h0m20 0h0m9 0h0m5 0h0m28 0h0m6 0h0m16 0h0m7 0h0m13 0h0m11 0h0m15 0h0m13 0h0m15 0h0m8 0h0m10 0h0m15 0h0m11 0h0m10 0h0m10 0h0m11 0h0m6 0h0m8 0h0M138.5 397.5h0m9 0h0m12 0h0m10 0h0m12 0h0m8 0h0m9 0h0m12 0h0m12 0h0m11 0h0m10 0h0m19 0h0m7 0h0m8 0h0m17 0h0m30 0h0m10 0h0m7 0h0m8 0h0m11 0h0m23 0h0m5 0h0m9 0h0m14 0h0m8 0h0m8 0h0m8 0h0m10 0h0m10 0h0m8 0h0m8 0h0m8 0h0m6 0h0m7 0h0m8 0h0m12 0h0m6 0h0m5 0h0m12 0h0m7 0h0m10 0h0m8 0h0m10 0h0m7 0h0m15 0h0m9 0h0m10 0h0m9 0h0m9 0h0m11 0h0m9 0h0m5 0h0m9 0h0m11 0h0m5 0h0m8 0h0m6 0h0m8 0h0m10 0h0m8 0h0m7 0h0m8 0h0m6 0h0m10 0h0m8 0h0m6 0h0m7 0h0m8 0h0m10 0h0m4 0h0m10 0h0m8 0h0m6 0h0m7 0h0m7 0h0m9 0h0m6 0h0m9 0h0m9 0h0m5 0h0m10 0h0m9 0h0m11 0h0m11 0h0m8 0h0m6 0h0m8 0h0m6 0h0M135.5 443.5h0m11 0h0m6 0h0m12 0h0m5 0h0m12 0h0m7 0h0m7 0h0m6 0h0m11 0h0m8 0h0m6 0h0m9 0h0m11 0h0m7 0h0m6 0h0m7 0h0m8 0h0m4 0h0m5 0h0m22 0h0m12 0h0m11 0h0m8 0h0m10 0h0m7 0h0m5 0h0m9 0h0m7 0h0m9 0h0m10 0h0m7 0h0m8 0h0m12 0h0m6 0h0m7 0h0m9 0h0m10 0h0m10 0h0m3 0h0m7 0h0m5 0h0m7 0h0m10 0h0m11 0h0m10 0h0m7 0h0m7 0h0m6 0h0m6 0h0m8 0h0m5 0h0m9 0h0m8 0h0m5 0h0m9 0h0m9 0h0m5 0h0m8 0h0m8 0h0m9 0h0m7 0h0m7 0h0m8 0h0m8 0h0m10 0h0m8 0h0m7 0h0m6 0h0m9 0h0m5 0h0m7 0h0m7 0h0m6 0h0m8 0h0m7 0h0m9 0h0m7 0h0m9 0h0m7 0h0m10 0h0m7 0h0m6 0h0m6 0h0m9 0h0m5 0h0m10 0h0m5 0h0m6 0h0m9 0h0m7 0h0m8 0h0m7 0h0m10 0h0m8 0h0m7 0h0m6 0h0m7 0h0m7 0h0m7 0h0m4 0h0m8 0h0m11 0h0m8 0h0M142.5 489.5h0m7 0h0m7 0h0m8 0h0m7 0h0m4 0h0m9 0h0m6 0h0m7 0h0m6 0h0m11 0h0m5 0h0m7 0h0m6 0h0m11 0h0m8 0h0m6 0h0m7 0h0m8 0h0m2 0h0m6 0h0m9 0h0m7 0h0m7 0h0m10 0h0m7 0h0m8 0h0m8 0h0m5 0h0m7 0h0m6 0h0m6 0h0m5 0h0m10 0h0m7 0h0m5 0h0m7 0h0m6 0h0m10 0h0m8 0h0m6 0h0m8 0h0m5 0h0m7 0h0m8 0h0m8 0h0m8 0h0m10 0h0m4 0h0m7 0h0m9 0h0m6 0h0m7 0h0m6 0h0m7 0h0m8 0h0m8 0h0m6 0h0m9 0h0m9 0h0m11 0h0m8 0h0m11 0h0m6 0h0m5 0h0m8 0h0m9 0h0m9 0h0m7 0h0m6 0h0m12 0h0m7 0h0m8 0h0m7 0h0m6 0h0m6 0h0m7 0h0m7 0h0m11 0h0m6 0h0m13 0h0m8 0h0m10 0h0m7 0h0m9 0h0m8 0h0m9 0h0m10 0h0m7 0h0m8 0h0m10 0h0m8 0h0m9 0h0m13 0h0m12 0h0m5 0h0m10 0h0m13 0h0m9 0h0m6 0h0m14 0h0m10 0h0m8 0h0m6 0h0M140.5 534.5h0m7 0h0m12 0h0m7 0h0m7 0h0m9 0h0m5 0h0m7 0h0m7 0h0m9 0h0m6 0h0m9 0h0m6 0h0m6 0h0m7 0h0m7 0h0m13 0h0m10 0h0m7 0h0m14 0h0m6 0h0m7 0h0m8 0h0m9 0h0m7 0h0m13 0h0m8 0h0m7 0h0m10 0h0m13 0h0m9 0h0m6 0h0m6 0h0m12 0h0m6 0h0m6 0h0m5 0h0m13 0h0m7 0h0m6 0h0m14 0h0m8 0h0m6 0h0m10 0h0m11 0h0m11 0h0m12 0h0m8 0h0m8 0h0m7 0h0m11 0h0m7 0h0m13 0h0m11 0h0m10 0h0m10 0h0m14 0h0m7 0h0m6 0h0m15 0h0m15 0h0m10 0h0m12 0h0m5 0h0m13 0h0m7 0h0m17 0h0m9 0h0m8 0h0m14 0h0m13 0h0m9 0h0m16 0h0m9 0h0m16 0h0m11 0h0m12 0h0m15 0h0m17 0h0m19 0h0m13 0h0m13 0h0M136.5 580.5h0m5 0h0m9 0h0m9 0h0m16 0h0m10 0h0m8 0h0m9 0h0m8 0h0m11 0h0m13 0h0m8 0h0m7 0h0m11 0h0m17 0h0m13 0h0m13 0h0m7 0h0m7 0h0m10 0h0m13 0h0m13 0h0m6 0h0m8 0h0m11 0h0m17 0h0m13 0h0m12 0h0m15 0h0m15 0h0m8 0h0m15 0h0m7 0h0m6 0h0m16 0h0m14 0h0m11 0h0m10 0h0m15 0h0m14 0h0m19 0h0m14 0h0m13 0h0m11 0h0m18 0h0m11 0h0m18 0h0m16 0h0m20 0h0m18 0h0m13 0h0m10 0h0m25 0h0m18 0h0m22 0h0m40 0h0m51 0h0m16 0h0M134.5 626.5h0m15 0h0m38 0h0m12 0h0m29 0h0m18 0h0m18 0h0m19 0h0m12 0h0m9 0h0m9 0h0m9 0h0m8 0h0m16 0h0m16 0h0m16 0h0m17 0h0m26 0h0m28 0h0m21 0h0m22 0h0m28 0h0m27 0h0m25 0h0m31 0h0m21 0h0m26 0h0m32 0h0m47 0h0m24 0h0m52 0h0m97 0h0M159.5 672.5h0m46 0h0m44 0h0m43 0h0m11 0h0m16 0h0m14 0h0m26 0h0m29 0h0m38 0h0m74 0h0m40 0h0m51 0h0m34 0h0m42 0h0m85 0h0m189 0h0M248.5 717.5h0m55 0h0m23 0h0m63 0h0m125 0h0m66 0h0m89 0h0M296.5 763.5h0M292.5 809.5h0M292.5 855.5h0"/>
<path d="M717.5 122.5h0M134.5 168.5h0m451 0h0m277 0h0m76 0h0M279.5 214.5h0m159 0h0m125 0h0m149 0h0m64 0h0m59 0h0m46 0h0m37 0h0m21 0h0M177.5 260.5h0m102 0h0m167 0h0m115 0h0m122 0h0m45 0h0m42 0h0m28 0h0m19 0h0m42 0h0m18 0h0m26 0h0m15 0h0m8 0h0M135.5 305.5h0m30 0h0m30 0h0m34 0h0m29 0h0m22 0h0m58 0h0m19 0h0m57 0h0m20 0h0m15 0h0m20 0h0m10 0h0m21 0h0m17 0h0m23 0h0m22 0h0m36 0h0m27 0h0m12 0h0m18 0h0m14 0h0m14 0h0m17 0h0m16 0h0m18 0h0m12 0h0m20 0h0m14 0h0m14 0h0m15 0h0m11 0h0m15 0h0m16 0h0m15 0h0m10 0h0m12 0h0m11 0h0m15 0h0m12 0h0m14 0h0M154.5 351.5h0m15 0h0m25 0h0m31 0h0m17 0h0m18 0h0m13 0h0m17 0h0m58 0h0m18 0h0m31 0h0m15 0h0m19 0h0m16 0h0m17 0h0m10 0h0m30 0h0m14 0h0m13 0h0m22 0h0m12 0h0m45 0h0m8 0h0m11 0h0m36 0h0m24 0h0m20 0h0m10 0h0m7 0h0m26 0h0m6 0h0m15 0h0m7 0h0m13 0h0m11 0h0m17 0h0m12 0h0m16 0h0m7 0h0m9 0h0m16 0h0m11 0h0m10 0h0m10 0h0m11 0h0m6 0h0m7 0h0M138.5 397.5h0m9 0h0m13 0h0m9 0h0m12 0h0m8 0h0m10 0h0m11 0h0m13 0h0m10 0h0m11 0h0m18 0h0m7 0h0m8 0h0m17 0h0m31 0h0m10 0h0m6 0h0m8 0h0m11 0h0m23 0h0m5 0h0m9 0h0m14 0h0m8 0h0m8 0h0m8 0h0m11 0h0m11 0h0m7 0h0m8 0h0m8 0h0m5 0h0m7 0h0m8 0h0m12 0h0m6 0h0m5 0h0m12 0h0m8 0h0m9 0h0m8 0h0m10 0h0m7 0h0m15 0h0m10 0h0m9 0h0m9 0h0m9 0h0m11 0h0m9 0h0m7 0h0m8 0h0m10 0h0m5 0h0m8 0h0m8 0h0m7 0h0m9 0h0m8 0h0m7 0h0m8 0h0m6 0h0m10 0h0m9 0h0m6 0h0m6 0h0m8 0h0m10 0h0m5 0h0m10 0h0m7 0h0m7 0h0m8 0h0m6 0h0m8 0h0m6 0h0m9 0h0m9 0h0m5 0h0m10 0h0m10 0h0m10 0h0m11 0h0m8 0h0m8 0h0m6 0h0m6 0h0M135.5 443.5h0m12 0h0m8 0h0m9 0h0m5 0h0m13 0h0m6 0h0m7 0h0m6 0h0m11 0h0m8 0h0m6 0h0m9 0h0m12 0h0m7 0h0m5 0h0m7 0h0m8 0h0m4 0h0m6 0h0m22 0h0m12 0h0m10 0h0m9 0h0m10 0h0m7 0h0m4 0h0m9 0h0m7 0h0m9 0h0m11 0h0m7 0h0m8 0h0m11 0h0m7 0h0m7 0h0m9 0h0m9 0h0m10 0h0m4 0h0m6 0h0m6 0h0m7 0h0m10 0h0m10 0h0m10 0h0m7 0h0m7 0h0m7 0h0m6 0h0m7 0h0m7 0h0m7 0h0m8 0h0m7 0h0m7 0h0m10 0h0m5 0h0m8 0h0m8 0h0m8 0h0m8 0h0m6 0h0m9 0h0m7 0h0m11 0h0m7 0h0m7 0h0m6 0h0m9 0h0m6 0h0m6 0h0m7 0h0m6 0h0m8 0h0m7 0h0m10 0h0m7 0h0m8 0h0m8 0h0m10 0h0m6 0h0m6 0h0m7 0h0m9 0h0m5 0h0m9 0h0m5 0h0m7 0h0m8 0h0m7 0h0m9 0h0m6 0h0m11 0h0m7 0h0m8 0h0m6 0h0m7 0h0m7 0h0m6 0h0m4 0h0m8 0h0m12 0h0M134.5 489.5h0m8 0h0m7 0h0m7 0h0m8 0h0m7 0h0m5 0h0m9 0h0m5 0h0m7 0h0m8 0h0m9 0h0m5 0h0m7 0h0m6 0h0m12 0h0m8 0h0m5 0h0m7 0h0m8 0h0m3 0h0m7 0h0m7 0h0m8 0h0m6 0h0m10 0h0m8 0h0m8 0h0m7 0h0m6 0h0m6 0h0m6 0h0m6 0h0m6 0h0m10 0h0m6 0h0m6 0h0m7 0h0m5 0h0m11 0h0m7 0h0m7 0h0m8 0h0m5 0h0m7 0h0m8 0h0m7 0h0m9 0h0m9 0h0m4 0h0m7 0h0m9 0h0m6 0h0m7 0h0m7 0h0m7 0h0m8 0h0m7 0h0m6 0h0m10 0h0m9 0h0m11 0h0m7 0h0m12 0h0m6 0h0m5 0h0m8 0h0m9 0h0m8 0h0m7 0h0m7 0h0m11 0h0m7 0h0m10 0h0m5 0h0m6 0h0m6 0h0m9 0h0m6 0h0m10 0h0m6 0h0m13 0h0m9 0h0m9 0h0m8 0h0m8 0h0m11 0h0m6 0h0m11 0h0m7 0h0m8 0h0m9 0h0m9 0h0m9 0h0m13 0h0m11 0h0m5 0h0m12 0h0m11 0h0m10 0h0m7 0h0m12 0h0m10 0h0m8 0h0m6 0h0M140.5 534.5h0m9 0h0m10 0h0m7 0h0m7 0h0m10 0h0m4 0h0m8 0h0m7 0h0m8 0h0m7 0h0m8 0h0m6 0h0m6 0h0m7 0h0m7 0h0m14 0h0m10 0h0m7 0h0m13 0h0m7 0h0m6 0h0m11 0h0m7 0h0m7 0h0m12 0h0m8 0h0m7 0h0m11 0h0m13 0h0m8 0h0m7 0h0m6 0h0m11 0h0m6 0h0m6 0h0m6 0h0m13 0h0m7 0h0m6 0h0m13 0h0m8 0h0m8 0h0m8 0h0m12 0h0m10 0h0m12 0h0m8 0h0m8 0h0m7 0h0m12 0h0m6 0h0m14 0h0m11 0h0m10 0h0m13 0h0m10 0h0m7 0h0m6 0h0m16 0h0m14 0h0m11 0h0m11 0h0m5 0h0m13 0h0m7 0h0m17 0h0m9 0h0m8 0h0m14 0h0m14 0h0m8 0h0m17 0h0m8 0h0m16 0h0m12 0h0m12 0h0m15 0h0m24 0h0m12 0h0m13 0h0m13 0h0M136.5 580.5h0m6 0h0m8 0h0m11 0h0m14 0h0m10 0h0m9 0h0m9 0h0m7 0h0m12 0h0m12 0h0m9 0h0m7 0h0m11 0h0m17 0h0m13 0h0m12 0h0m8 0h0m7 0h0m9 0h0m14 0h0m12 0h0m6 0h0m10 0h0m10 0h0m19 0h0m10 0h0m15 0h0m12 0h0m15 0h0m8 0h0m15 0h0m7 0h0m6 0h0m16 0h0m15 0h0m10 0h0m10 0h0m15 0h0m14 0h0m20 0h0m14 0h0m13 0h0m10 0h0m20 0h0m10 0h0m18 0h0m17 0h0m18 0h0m18 0h0m14 0h0m11 0h0m26 0h0m16 0h0m21 0h0m40 0h0m52 0h0m17 0h0M136.5 626.5h0m14 0h0m37 0h0m13 0h0m31 0h0m17 0h0m18 0h0m17 0h0m12 0h0m9 0h0m9 0h0m9 0h0m10 0h0m14 0h0m16 0h0m17 0h0m20 0h0m23 0h0m28 0h0m21 0h0m24 0h0m25 0h0m28 0h0m26 0h0m29 0h0m22 0h0m27 0h0m31 0h0m52 0h0m22 0h0m50 0h0m102 0h0M180.5 672.5h0m27 0h0m44 0h0m41 0h0m13 0h0m15 0h0m13 0h0m28 0h0m28 0h0m56 0h0m56 0h0m40 0h0m52 0h0m34 0h0m42 0h0m87 0h0M146.5 717.5h0m108 0h0m50 0h0m23 0h0m64 0h0m127 0h0m65 0h0m95 0h0M296.5 763.5h0M300.5 809.5h0M310.5 855.5h0"/>
<path d="M748.5 122.5h0M137.5 168.5h0m494 0h0m232 0h0m76 0h0M285.5 214.5h0m157 0h0m122 0h0m149 0h0m67 0h0m58 0h0m47 0h0m34 0h0m22 0h0M189.5 260.5h0m153 0h0m119 0h0m148 0h0m75 0h0m45 0h0m41 0h0m28 0h0m20 0h0m41 0h0m19 0h0m29 0h0m15 0h0m5 0h0M135.5 305.5h0m32 0h0m30 0h0m33 0h0m28 0h0m22 0h0m61 0h0m19 0h0m56 0h0m18 0h0m16 0h0m19 0h0m12 0h0m19 0h0m17 0h0m23 0h0m22 0h0m44 0h0m20 0h0m11 0h0m19 0h0m13 0h0m15 0h0m17 0h0m16 0h0m19 0h0m11 0h0m20 0h0m13 0h0m16 0h0m14 0h0m10 0h0m16 0h0m16 0h0m15 0h0m10 0h0m11 0h0m12 0h0m14 0h0m14 0h0m13 0h0M155.5 351.5h0m17 0h0m31 0h0m24 0h0m15 0h0m19 0h0m13 0h0m29 0h0m46 0h0m18 0h0m30 0h0m15 0h0m26 0h0m10 0h0m16 0h0m10 0h0m31 0h0m14 0h0m12 0h0m23 0h0m15 0h0m41 0h0m8 0h0m13 0h0m40 0h0m19 0h0m20 0h0m9 0h0m8 0h0m25 0h0m6 0h0m16 0h0m7 0h0m13 0h0m10 0h0m18 0h0m13 0h0m14 0h0m8 0h0m10 0h0m14 0h0m14 0h0m8 0h0m9 0h0m11 0h0m8 0h0m6 0h0M138.5 397.5h0m9 0h0m13 0h0m10 0h0m12 0h0m7 0h0m10 0h0m12 0h0m13 0h0m9 0h0m12 0h0m17 0h0m8 0h0m8 0h0m16 0h0m32 0h0m9 0h0m6 0h0m9 0h0m11 0h0m22 0h0m7 0h0m7 0h0m14 0h0m9 0h0m8 0h0m7 0h0m12 0h0m10 0h0m7 0h0m9 0h0m7 0h0m6 0h0m6 0h0m9 0h0m13 0h0m4 0h0m7 0h0m11 0h0m8 0h0m8 0h0m10 0h0m8 0h0m7 0h0m16 0h0m10 0h0m8 0h0m10 0h0m9 0h0m10 0h0m9 0h0m7 0h0m9 0h0m9 0h0m6 0h0m7 0h0m9 0h0m7 0h0m9 0h0m7 0h0m7 0h0m9 0h0m5 0h0m10 0h0m10 0h0m5 0h0m7 0h0m7 0h0m10 0h0m5 0h0m11 0h0m7 0h0m7 0h0m7 0h0m7 0h0m8 0h0m6 0h0m9 0h0m9 0h0m4 0h0m11 0h0m9 0h0m10 0h0m12 0h0m7 0h0m8 0h0m7 0h0m6 0h0M135.5 443.5h0m12 0h0m9 0h0m8 0h0m6 0h0m12 0h0m7 0h0m7 0h0m5 0h0m13 0h0m7 0h0m6 0h0m9 0h0m12 0h0m6 0h0m6 0h0m7 0h0m8 0h0m3 0h0m6 0h0m24 0h0m11 0h0m9 0h0m9 0h0m11 0h0m6 0h0m5 0h0m9 0h0m6 0h0m10 0h0m10 0h0m8 0h0m9 0h0m9 0h0m7 0h0m8 0h0m8 0h0m9 0h0m10 0h0m4 0h0m6 0h0m6 0h0m8 0h0m9 0h0m11 0h0m10 0h0m6 0h0m8 0h0m6 0h0m6 0h0m7 0h0m7 0h0m7 0h0m8 0h0m8 0h0m6 0h0m10 0h0m5 0h0m8 0h0m10 0h0m6 0h0m8 0h0m7 0h0m8 0h0m7 0h0m11 0h0m7 0h0m7 0h0m7 0h0m8 0h0m7 0h0m6 0h0m7 0h0m6 0h0m8 0h0m6 0h0m10 0h0m7 0h0m8 0h0m8 0h0m10 0h0m6 0h0m7 0h0m6 0h0m9 0h0m5 0h0m10 0h0m4 0h0m8 0h0m8 0h0m7 0h0m9 0h0m6 0h0m10 0h0m7 0h0m8 0h0m6 0h0m7 0h0m8 0h0m5 0h0m4 0h0m9 0h0m11 0h0M134.5 489.5h0m8 0h0m7 0h0m9 0h0m7 0h0m7 0h0m4 0h0m9 0h0m5 0h0m7 0h0m8 0h0m9 0h0m6 0h0m8 0h0m4 0h0m12 0h0m8 0h0m5 0h0m7 0h0m8 0h0m3 0h0m8 0h0m7 0h0m8 0h0m7 0h0m9 0h0m7 0h0m9 0h0m7 0h0m5 0h0m6 0h0m7 0h0m6 0h0m5 0h0m11 0h0m5 0h0m7 0h0m6 0h0m7 0h0m9 0h0m7 0h0m7 0h0m8 0h0m5 0h0m7 0h0m8 0h0m7 0h0m10 0h0m9 0h0m4 0h0m6 0h0m10 0h0m5 0h0m7 0h0m7 0h0m7 0h0m9 0h0m6 0h0m7 0h0m10 0h0m8 0h0m12 0h0m7 0h0m12 0h0m5 0h0m5 0h0m8 0h0m9 0h0m8 0h0m9 0h0m5 0h0m12 0h0m7 0h0m10 0h0m4 0h0m6 0h0m7 0h0m8 0h0m6 0h0m11 0h0m5 0h0m14 0h0m8 0h0m9 0h0m8 0h0m10 0h0m9 0h0m6 0h0m11 0h0m7 0h0m8 0h0m10 0h0m9 0h0m8 0h0m15 0h0m11 0h0m4 0h0m11 0h0m12 0h0m9 0h0m7 0h0m13 0h0m10 0h0m7 0h0m7 0h0M141.5 534.5h0m8 0h0m11 0h0m7 0h0m7 0h0m9 0h0m4 0h0m8 0h0m8 0h0m7 0h0m8 0h0m7 0h0m7 0h0m7 0h0m6 0h0m7 0h0m13 0h0m11 0h0m10 0h0m9 0h0m8 0h0m6 0h0m11 0h0m6 0h0m8 0h0m11 0h0m9 0h0m7 0h0m10 0h0m13 0h0m9 0h0m6 0h0m7 0h0m10 0h0m7 0h0m5 0h0m6 0h0m13 0h0m7 0h0m6 0h0m15 0h0m6 0h0m8 0h0m8 0h0m12 0h0m11 0h0m11 0h0m9 0h0m7 0h0m7 0h0m13 0h0m7 0h0m13 0h0m10 0h0m10 0h0m13 0h0m10 0h0m8 0h0m6 0h0m16 0h0m14 0h0m10 0h0m12 0h0m5 0h0m12 0h0m9 0h0m16 0h0m8 0h0m9 0h0m14 0h0m14 0h0m7 0h0m17 0h0m9 0h0m15 0h0m12 0h0m12 0h0m15 0h0m24 0h0m12 0h0m13 0h0m14 0h0M136.5 580.5h0m7 0h0m8 0h0m10 0h0m14 0h0m11 0h0m8 0h0m9 0h0m8 0h0m12 0h0m12 0h0m8 0h0m8 0h0m12 0h0m15 0h0m15 0h0m10 0h0m8 0h0m8 0h0m8 0h0m15 0h0m12 0h0m6 0h0m12 0h0m7 0h0m19 0h0m14 0h0m11 0h0m12 0h0m15 0h0m8 0h0m15 0h0m7 0h0m8 0h0m16 0h0m13 0h0m10 0h0m10 0h0m15 0h0m16 0h0m20 0h0m14 0h0m11 0h0m10 0h0m20 0h0m11 0h0m19 0h0m15 0h0m19 0h0m18 0h0m14 0h0m12 0h0m24 0h0m18 0h0m21 0h0m39 0h0m52 0h0m17 0h0M136.5 626.5h0m15 0h0m37 0h0m13 0h0m31 0h0m19 0h0m15 0h0m17 0h0m12 0h0m11 0h0m8 0h0m9 0h0m9 0h0m14 0h0m18 0h0m18 0h0m19 0h0m25 0h0m26 0h0m20 0h0m24 0h0m28 0h0m26 0h0m26 0h0m29 0h0m20 0h0m31 0h0m31 0h0m51 0h0m23 0h0m61 0h0m93 0h0M181.5 672.5h0m29 0h0m43 0h0m39 0h0m13 0h0m16 0h0m12 0h0m28 0h0m29 0h0m59 0h0m54 0h0m39 0h0m53 0h0m33 0h0m41 0h0m89 0h0M147.5 717.5h0m108 0h0m49 0h0m24 0h0m67 0h0m127 0h0m71 0h0m89 0h0M296.5 763.5h0M301.5 809.5h0M489.5 855.5h0"/>
<path d="M802.5 122.5h0M160.5 168.5h0m492 0h0m219 0h0M139.5 214.5h0m148 0h0m161 0h0m138 0h0m131 0h0m64 0h0m61 0h0m44 0h0m33 0h0m23 0h0M195.5 260.5h0m156 0h0m115 0h0m144 0h0m74 0h0m45 0h0m43 0h0m27 0h0m19 0h0m42 0h0m20 0h0m28 0h0m14 0h0m6 0h0M139.5 305.5h0m29 0h0m31 0h0m32 0h0m28 0h0m27 0h0m57 0h0m18 0h0m57 0h0m16 0h0m16 0h0m20 0h0m12 0h0m19 0h0m23 0h0m17 0h0m23 0h0m42 0h0m21 0h0m13 0h0m16 0h0m14 0h0m15 0h0m16 0h0m17 0h0m19 0h0m11 0h0m20 0h0m13 0h0m16 0h0m14 0h0m11 0h0m15 0h0m16 0h0m15 0h0m9 0h0m11 0h0m14 0h0m14 0h0m12 0h0m14 0h0M156.5 351.5h0m20 0h0m29 0h0m26 0h0m12 0h0m18 0h0m15 0h0m48 0h0m26 0h0m17 0h0m31 0h0m14 0h0m26 0h0m11 0h0m16 0h0m11 0h0m30 0h0m14 0h0m14 0h0m20 0h0m16 0h0m41 0h0m8 0h0m12 0h0m41 0h0m25 0h0m13 0h0m9 0h0m8 0h0m25 0h0m8 0h0m14 0h0m8 0h0m12 0h0m11 0h0m17 0h0m13 0h0m15 0h0m7 0h0m10 0h0m14 0h0m15 0h0m7 0h0m14 0h0m7 0h0m7 0h0m6 0h0M138.5 397.5h0m9 0h0m13 0h0m11 0h0m12 0h0m7 0h0m10 0h0m11 0h0m13 0h0m10 0h0m17 0h0m11 0h0m8 0h0m8 0h0m18 0h0m30 0h0m9 0h0m6 0h0m9 0h0m12 0h0m21 0h0m7 0h0m10 0h0m11 0h0m10 0h0m7 0h0m10 0h0m9 0h0m11 0h0m6 0h0m9 0h0m7 0h0m7 0h0m5 0h0m10 0h0m12 0h0m4 0h0m7 0h0m11 0h0m8 0h0m11 0h0m8 0h0m8 0h0m11 0h0m11 0h0m11 0h0m8 0h0m10 0h0m8 0h0m11 0h0m8 0h0m8 0h0m8 0h0m10 0h0m6 0h0m6 0h0m9 0h0m7 0h0m9 0h0m8 0h0m8 0h0m7 0h0m6 0h0m10 0h0m9 0h0m6 0h0m6 0h0m9 0h0m8 0h0m5 0h0m12 0h0m6 0h0m7 0h0m7 0h0m8 0h0m7 0h0m6 0h0m10 0h0m8 0h0m6 0h0m10 0h0m8 0h0m12 0h0m10 0h0m7 0h0m9 0h0m6 0h0m7 0h0M136.5 443.5h0m11 0h0m9 0h0m8 0h0m6 0h0m12 0h0m9 0h0m5 0h0m6 0h0m12 0h0m7 0h0m7 0h0m9 0h0m11 0h0m6 0h0m7 0h0m6 0h0m8 0h0m4 0h0m5 0h0m25 0h0m11 0h0m9 0h0m9 0h0m10 0h0m7 0h0m4 0h0m9 0h0m9 0h0m8 0h0m10 0h0m8 0h0m10 0h0m7 0h0m7 0h0m9 0h0m9 0h0m9 0h0m8 0h0m4 0h0m6 0h0m6 0h0m9 0h0m9 0h0m12 0h0m9 0h0m6 0h0m7 0h0m6 0h0m6 0h0m7 0h0m7 0h0m8 0h0m7 0h0m8 0h0m7 0h0m9 0h0m5 0h0m8 0h0m11 0h0m6 0h0m7 0h0m7 0h0m8 0h0m8 0h0m12 0h0m5 0h0m8 0h0m7 0h0m7 0h0m7 0h0m6 0h0m7 0h0m6 0h0m8 0h0m7 0h0m10 0h0m7 0h0m8 0h0m8 0h0m10 0h0m6 0h0m6 0h0m8 0h0m7 0h0m5 0h0m10 0h0m5 0h0m7 0h0m8 0h0m7 0h0m10 0h0m5 0h0m10 0h0m8 0h0m8 0h0m5 0h0m7 0h0m8 0h0m6 0h0m5 0h0m7 0h0m11 0h0M136.5 489.5h0m6 0h0m7 0h0m9 0h0m7 0h0m7 0h0m4 0h0m9 0h0m5 0h0m8 0h0m8 0h0m8 0h0m6 0h0m9 0h0m5 0h0m11 0h0m7 0h0m6 0h0m7 0h0m7 0h0m3 0h0m9 0h0m6 0h0m8 0h0m7 0h0m9 0h0m7 0h0m9 0h0m7 0h0m5 0h0m7 0h0m7 0h0m5 0h0m5 0h0m12 0h0m5 0h0m6 0h0m6 0h0m7 0h0m9 0h0m8 0h0m8 0h0m6 0h0m6 0h0m6 0h0m8 0h0m7 0h0m10 0h0m9 0h0m4 0h0m7 0h0m10 0h0m6 0h0m6 0h0m6 0h0m8 0h0m8 0h0m8 0h0m5 0h0m11 0h0m7 0h0m12 0h0m8 0h0m12 0h0m4 0h0m5 0h0m9 0h0m8 0h0m8 0h0m9 0h0m6 0h0m11 0h0m8 0h0m9 0h0m4 0h0m6 0h0m8 0h0m7 0h0m7 0h0m10 0h0m7 0h0m12 0h0m8 0h0m9 0h0m8 0h0m10 0h0m9 0h0m7 0h0m10 0h0m7 0h0m9 0h0m9 0h0m9 0h0m9 0h0m15 0h0m10 0h0m4 0h0m12 0h0m11 0h0m9 0h0m8 0h0m14 0h0m9 0h0m7 0h0M134.5 534.5h0m8 0h0m8 0h0m10 0h0m7 0h0m7 0h0m9 0h0m4 0h0m9 0h0m7 0h0m7 0h0m8 0h0m8 0h0m7 0h0m6 0h0m6 0h0m8 0h0m14 0h0m9 0h0m10 0h0m10 0h0m8 0h0m5 0h0m12 0h0m6 0h0m8 0h0m11 0h0m8 0h0m7 0h0m10 0h0m13 0h0m10 0h0m6 0h0m8 0h0m9 0h0m6 0h0m7 0h0m5 0h0m13 0h0m7 0h0m5 0h0m16 0h0m6 0h0m7 0h0m9 0h0m12 0h0m11 0h0m11 0h0m8 0h0m8 0h0m6 0h0m13 0h0m7 0h0m14 0h0m11 0h0m10 0h0m12 0h0m11 0h0m6 0h0m6 0h0m17 0h0m14 0h0m10 0h0m11 0h0m6 0h0m11 0h0m9 0h0m16 0h0m9 0h0m8 0h0m18 0h0m10 0h0m8 0h0m16 0h0m13 0h0m12 0h0m12 0h0m11 0h0m26 0h0m14 0h0m13 0h0m11 0h0m14 0h0M137.5 580.5h0m6 0h0m8 0h0m12 0h0m12 0h0m11 0h0m9 0h0m9 0h0m8 0h0m15 0h0m8 0h0m8 0h0m10 0h0m10 0h0m16 0h0m15 0h0m9 0h0m9 0h0m7 0h0m9 0h0m15 0h0m12 0h0m5 0h0m12 0h0m8 0h0m20 0h0m13 0h0m11 0h0m11 0h0m15 0h0m8 0h0m15 0h0m7 0h0m8 0h0m17 0h0m13 0h0m10 0h0m9 0h0m15 0h0m16 0h0m20 0h0m15 0h0m12 0h0m9 0h0m20 0h0m11 0h0m18 0h0m16 0h0m18 0h0m19 0h0m13 0h0m12 0h0m25 0h0m19 0h0m20 0h0m40 0h0m54 0h0m15 0h0M137.5 626.5h0m14 0h0m38 0h0m12 0h0m31 0h0m20 0h0m15 0h0m16 0h0m12 0h0m12 0h0m7 0h0m10 0h0m9 0h0m14 0h0m19 0h0m17 0h0m18 0h0m33 0h0m18 0h0m23 0h0m24 0h0m26 0h0m26 0h0m25 0h0m29 0h0m21 0h0m30 0h0m31 0h0m52 0h0m26 0h0m74 0h0m92 0h0M185.5 672.5h0m28 0h0m41 0h0m39 0h0m12 0h0m16 0h0m12 0h0m32 0h0m26 0h0m64 0h0m50 0h0m38 0h0m53 0h0m32 0h0m45 0h0m89 0h0M157.5 717.5h0m104 0h0m45 0h0m22 0h0m76 0h0m119 0h0m78 0h0m95 0h0M300.5 763.5h0M309.5 809.5h0M655.5 855.5h0"/>
<path d="M817.5 122.5h0M165.5 168.5h0m518 0h0m194 0h0M140.5 214.5h0m185 0h0m138 0h0m142 0h0m116 0h0m63 0h0m58 0h0m48 0h0m32 0h0m22 0h0M200.5 260.5h0m155 0h0m113 0h0m149 0h0m77 0h0m35 0h0m44 0h0m26 0h0m20 0h0m42 0h0m19 0h0m30 0h0m13 0h0m5 0h0M143.5 305.5h0m26 0h0m34 0h0m29 0h0m29 0h0m26 0h0m56 0h0m19 0h0m60 0h0m12 0h0m17 0h0m21 0h0m13 0h0m17 0h0m23 0h0m17 0h0m23 0h0m43 0h0m19 0h0m13 0h0m16 0h0m18 0h0m12 0h0m17 0h0m15 0h0m21 0h0m11 0h0m19 0h0m13 0h0m16 0h0m13 0h0m12 0h0m14 0h0m17 0h0m14 0h0m9 0h0m11 0h0m14 0h0m16 0h0m11 0h0m15 0h0M156.5 351.5h0m21 0h0m30 0h0m25 0h0m12 0h0m18 0h0m14 0h0m57 0h0m17 0h0m19 0h0m30 0h0m17 0h0m23 0h0m11 0h0m16 0h0m10 0h0m31 0h0m13 0h0m14 0h0m21 0h0m15 0h0m42 0h0m7 0h0m13 0h0m41 0h0m25 0h0m13 0h0m9 0h0m8 0h0m25 0h0m8 0h0m13 0h0m9 0h0m11 0h0m12 0h0m17 0h0m12 0h0m15 0h0m8 0h0m14 0h0m12 0h0m13 0h0m7 0h0m13 0h0m7 0h0m7 0h0m7 0h0M139.5 397.5h0m9 0h0m13 0h0m10 0h0m12 0h0m7 0h0m11 0h0m12 0h0m11 0h0m10 0h0m17 0h0m12 0h0m8 0h0m10 0h0m22 0h0m23 0h0m9 0h0m7 0h0m9 0h0m19 0h0m13 0h0m7 0h0m10 0h0m12 0h0m9 0h0m8 0h0m10 0h0m9 0h0m10 0h0m6 0h0m9 0h0m7 0h0m7 0h0m6 0h0m9 0h0m12 0h0m5 0h0m6 0h0m12 0h0m8 0h0m10 0h0m8 0h0m8 0h0m11 0h0m11 0h0m11 0h0m8 0h0m10 0h0m9 0h0m11 0h0m8 0h0m7 0h0m8 0h0m10 0h0m6 0h0m6 0h0m9 0h0m7 0h0m11 0h0m6 0h0m8 0h0m8 0h0m5 0h0m12 0h0m7 0h0m6 0h0m6 0h0m10 0h0m7 0h0m7 0h0m10 0h0m7 0h0m6 0h0m9 0h0m6 0h0m8 0h0m5 0h0m10 0h0m8 0h0m6 0h0m10 0h0m10 0h0m10 0h0m11 0h0m6 0h0m10 0h0m5 0h0m8 0h0M136.5 443.5h0m11 0h0m10 0h0m7 0h0m6 0h0m12 0h0m9 0h0m5 0h0m7 0h0m11 0h0m7 0h0m7 0h0m9 0h0m12 0h0m5 0h0m7 0h0m6 0h0m8 0h0m4 0h0m5 0h0m29 0h0m7 0h0m10 0h0m9 0h0m10 0h0m6 0h0m6 0h0m8 0h0m8 0h0m9 0h0m10 0h0m7 0h0m10 0h0m8 0h0m6 0h0m10 0h0m9 0h0m8 0h0m9 0h0m3 0h0m6 0h0m7 0h0m8 0h0m10 0h0m11 0h0m9 0h0m7 0h0m6 0h0m6 0h0m7 0h0m7 0h0m6 0h0m8 0h0m7 0h0m9 0h0m6 0h0m10 0h0m4 0h0m9 0h0m11 0h0m5 0h0m8 0h0m7 0h0m8 0h0m7 0h0m13 0h0m5 0h0m7 0h0m9 0h0m6 0h0m6 0h0m6 0h0m7 0h0m6 0h0m8 0h0m7 0h0m10 0h0m8 0h0m8 0h0m7 0h0m10 0h0m6 0h0m6 0h0m9 0h0m6 0h0m6 0h0m9 0h0m6 0h0m6 0h0m9 0h0m7 0h0m9 0h0m6 0h0m10 0h0m7 0h0m8 0h0m6 0h0m7 0h0m8 0h0m5 0h0m5 0h0m8 0h0m11 0h0M136.5 489.5h0m7 0h0m6 0h0m11 0h0m7 0h0m5 0h0m4 0h0m9 0h0m5 0h0m8 0h0m9 0h0m8 0h0m6 0h0m8 0h0m6 0h0m10 0h0m8 0h0m5 0h0m8 0h0m6 0h0m3 0h0m9 0h0m6 0h0m9 0h0m7 0h0m8 0h0m8 0h0m8 0h0m7 0h0m5 0h0m7 0h0m7 0h0m6 0h0m5 0h0m11 0h0m6 0h0m5 0h0m6 0h0m9 0h0m7 0h0m9 0h0m8 0h0m6 0h0m5 0h0m7 0h0m7 0h0m8 0h0m9 0h0m9 0h0m5 0h0m6 0h0m10 0h0m6 0h0m6 0h0m7 0h0m7 0h0m9 0h0m7 0h0m5 0h0m11 0h0m8 0h0m11 0h0m8 0h0m12 0h0m4 0h0m5 0h0m9 0h0m9 0h0m8 0h0m8 0h0m9 0h0m8 0h0m8 0h0m9 0h0m4 0h0m8 0h0m7 0h0m6 0h0m7 0h0m11 0h0m7 0h0m12 0h0m8 0h0m9 0h0m7 0h0m12 0h0m7 0h0m7 0h0m10 0h0m8 0h0m9 0h0m9 0h0m8 0h0m10 0h0m14 0h0m10 0h0m4 0h0m16 0h0m8 0h0m9 0h0m8 0h0m14 0h0m8 0h0m7 0h0M134.5 534.5h0m8 0h0m8 0h0m11 0h0m6 0h0m9 0h0m8 0h0m5 0h0m7 0h0m7 0h0m7 0h0m8 0h0m8 0h0m7 0h0m6 0h0m6 0h0m10 0h0m13 0h0m9 0h0m10 0h0m9 0h0m8 0h0m5 0h0m12 0h0m6 0h0m8 0h0m11 0h0m8 0h0m8 0h0m10 0h0m12 0h0m10 0h0m6 0h0m8 0h0m9 0h0m7 0h0m6 0h0m9 0h0m10 0h0m6 0h0m8 0h0m13 0h0m6 0h0m8 0h0m9 0h0m11 0h0m11 0h0m11 0h0m8 0h0m9 0h0m6 0h0m13 0h0m7 0h0m15 0h0m10 0h0m9 0h0m12 0h0m11 0h0m7 0h0m6 0h0m18 0h0m14 0h0m8 0h0m11 0h0m6 0h0m11 0h0m9 0h0m19 0h0m7 0h0m7 0h0m18 0h0m10 0h0m8 0h0m16 0h0m13 0h0m12 0h0m12 0h0m12 0h0m26 0h0m14 0h0m12 0h0m12 0h0m14 0h0M137.5 580.5h0m8 0h0m6 0h0m12 0h0m12 0h0m13 0h0m7 0h0m9 0h0m8 0h0m16 0h0m7 0h0m9 0h0m10 0h0m10 0h0m16 0h0m14 0h0m10 0h0m9 0h0m7 0h0m8 0h0m15 0h0m12 0h0m6 0h0m11 0h0m11 0h0m17 0h0m13 0h0m12 0h0m12 0h0m14 0h0m10 0h0m13 0h0m6 0h0m9 0h0m17 0h0m13 0h0m12 0h0m9 0h0m13 0h0m15 0h0m21 0h0m14 0h0m12 0h0m12 0h0m18 0h0m11 0h0m18 0h0m15 0h0m20 0h0m18 0h0m12 0h0m14 0h0m24 0h0m18 0h0m26 0h0m36 0h0m52 0h0m15 0h0M137.5 626.5h0m16 0h0m36 0h0m13 0h0m31 0h0m20 0h0m14 0h0m16 0h0m12 0h0m13 0h0m7 0h0m9 0h0m9 0h0m15 0h0m19 0h0m16 0h0m19 0h0m33 0h0m18 0h0m23 0h0m24 0h0m27 0h0m27 0h0m26 0h0m26 0h0m22 0h0m29 0h0m31 0h0m51 0h0m31 0h0m69 0h0m95 0h0M189.5 672.5h0m25 0h0m48 0h0m32 0h0m12 0h0m16 0h0m13 0h0m30 0h0m28 0h0m71 0h0m45 0h0m36 0h0m55 0h0m33 0h0m44 0h0m88 0h0M177.5 717.5h0m91 0h0m38 0h0m22 0h0m78 0h0m122 0h0m74 0h0m127 0h0M306.5 763.5h0M310.5 809.5h0M296.5 901.5h0"/>
<path d="M822.5 122.5h0M166.5 168.5h0m554 0h0m158 0h0M156.5 214.5h0m181 0h0m139 0h0m133 0h0m114 0h0m69 0h0m52 0h0m46 0h0m33 0h0M140.5 260.5h0m62 0h0m164 0h0m105 0h0m154 0h0m78 0h0m27 0h0m44 0h0m27 0h0m18 0h0m42 0h0m20 0h0m29 0h0m13 0h0m5 0h0M149.5 305.5h0m20 0h0m36 0h0m31 0h0m25 0h0m27 0h0m56 0h0m21 0h0m57 0h0m14 0h0m16 0h0m20 0h0m13 0h0m17 0h0m26 0h0m15 0h0m23 0h0m43 0h0m19 0h0m13 0h0m18 0h0m16 0h0m11 0h0m19 0h0m13 0h0m21 0h0m12 0h0m21 0h0m10 0h0m17 0h0m13 0h0m12 0h0m14 0h0m17 0h0m13 0h0m11 0h0m10 0h0m13 0h0m17 0h0m10 0h0M134.5 351.5h0m23 0h0m21 0h0m29 0h0m26 0h0m16 0h0m14 0h0m14 0h0m58 0h0m17 0h0m17 0h0m31 0h0m17 0h0m23 0h0m10 0h0m16 0h0m10 0h0m34 0h0m10 0h0m15 0h0m24 0h0m11 0h0m43 0h0m7 0h0m12 0h0m42 0h0m25 0h0m12 0h0m9 0h0m10 0h0m23 0h0m13 0h0m9 0h0m8 0h0m12 0h0m11 0h0m17 0h0m12 0h0m16 0h0m7 0h0m14 0h0m12 0h0m13 0h0m7 0h0m14 0h0m6 0h0m9 0h0m5 0h0M139.5 397.5h0m10 0h0m13 0h0m10 0h0m12 0h0m6 0h0m13 0h0m11 0h0m11 0h0m9 0h0m18 0h0m12 0h0m7 0h0m10 0h0m22 0h0m26 0h0m6 0h0m8 0h0m10 0h0m18 0h0m13 0h0m7 0h0m10 0h0m11 0h0m9 0h0m9 0h0m9 0h0m10 0h0m10 0h0m6 0h0m9 0h0m7 0h0m7 0h0m6 0h0m9 0h0m12 0h0m4 0h0m6 0h0m13 0h0m8 0h0m11 0h0m7 0h0m7 0h0m11 0h0m11 0h0m12 0h0m7 0h0m10 0h0m13 0h0m7 0h0m9 0h0m7 0h0m12 0h0m5 0h0m6 0h0m8 0h0m8 0h0m6 0h0m11 0h0m6 0h0m8 0h0m8 0h0m5 0h0m14 0h0m5 0h0m7 0h0m6 0h0m10 0h0m6 0h0m8 0h0m10 0h0m6 0h0m6 0h0m9 0h0m7 0h0m7 0h0m6 0h0m10 0h0m7 0h0m7 0h0m9 0h0m10 0h0m10 0h0m12 0h0m6 0h0m9 0h0m5 0h0m8 0h0M136.5 443.5h0m12 0h0m10 0h0m7 0h0m6 0h0m12 0h0m8 0h0m5 0h0m8 0h0m10 0h0m7 0h0m7 0h0m11 0h0m10 0h0m5 0h0m7 0h0m6 0h0m9 0h0m3 0h0m6 0h0m28 0h0m8 0h0m9 0h0m9 0h0m10 0h0m7 0h0m5 0h0m8 0h0m8 0h0m9 0h0m10 0h0m7 0h0m10 0h0m8 0h0m6 0h0m10 0h0m9 0h0m9 0h0m8 0h0m4 0h0m6 0h0m7 0h0m7 0h0m11 0h0m10 0h0m10 0h0m6 0h0m7 0h0m6 0h0m6 0h0m7 0h0m7 0h0m7 0h0m7 0h0m9 0h0m6 0h0m10 0h0m6 0h0m7 0h0m11 0h0m6 0h0m8 0h0m6 0h0m9 0h0m6 0h0m13 0h0m5 0h0m7 0h0m9 0h0m7 0h0m6 0h0m6 0h0m7 0h0m6 0h0m8 0h0m7 0h0m9 0h0m8 0h0m9 0h0m7 0h0m11 0h0m4 0h0m6 0h0m10 0h0m5 0h0m6 0h0m9 0h0m6 0h0m7 0h0m8 0h0m7 0h0m9 0h0m6 0h0m10 0h0m8 0h0m7 0h0m6 0h0m7 0h0m8 0h0m5 0h0m5 0h0m9 0h0m10 0h0M137.5 489.5h0m6 0h0m6 0h0m11 0h0m7 0h0m5 0h0m5 0h0m8 0h0m6 0h0m7 0h0m10 0h0m7 0h0m6 0h0m9 0h0m6 0h0m10 0h0m7 0h0m5 0h0m8 0h0m6 0h0m4 0h0m9 0h0m6 0h0m9 0h0m6 0h0m9 0h0m8 0h0m8 0h0m7 0h0m5 0h0m7 0h0m6 0h0m7 0h0m4 0h0m11 0h0m6 0h0m5 0h0m6 0h0m9 0h0m8 0h0m8 0h0m8 0h0m6 0h0m5 0h0m7 0h0m8 0h0m7 0h0m9 0h0m9 0h0m5 0h0m7 0h0m9 0h0m6 0h0m6 0h0m7 0h0m7 0h0m10 0h0m6 0h0m6 0h0m10 0h0m9 0h0m10 0h0m9 0h0m11 0h0m5 0h0m4 0h0m10 0h0m8 0h0m8 0h0m9 0h0m8 0h0m9 0h0m8 0h0m8 0h0m5 0h0m7 0h0m8 0h0m6 0h0m7 0h0m10 0h0m7 0h0m12 0h0m9 0h0m9 0h0m8 0h0m10 0h0m8 0h0m6 0h0m11 0h0m7 0h0m9 0h0m9 0h0m10 0h0m9 0h0m13 0h0m10 0h0m4 0h0m16 0h0m9 0h0m8 0h0m8 0h0m14 0h0m8 0h0m8 0h0M134.5 534.5h0m8 0h0m9 0h0m10 0h0m7 0h0m8 0h0m8 0h0m6 0h0m6 0h0m8 0h0m6 0h0m9 0h0m7 0h0m7 0h0m6 0h0m7 0h0m10 0h0m12 0h0m9 0h0m10 0h0m10 0h0m8 0h0m6 0h0m10 0h0m6 0h0m10 0h0m9 0h0m9 0h0m7 0h0m12 0h0m11 0h0m9 0h0m7 0h0m7 0h0m10 0h0m6 0h0m6 0h0m11 0h0m9 0h0m7 0h0m6 0h0m13 0h0m7 0h0m7 0h0m9 0h0m12 0h0m10 0h0m12 0h0m8 0h0m9 0h0m6 0h0m13 0h0m8 0h0m15 0h0m8 0h0m10 0h0m11 0h0m13 0h0m5 0h0m8 0h0m17 0h0m13 0h0m8 0h0m12 0h0m5 0h0m13 0h0m7 0h0m20 0h0m6 0h0m8 0h0m17 0h0m11 0h0m8 0h0m16 0h0m12 0h0m12 0h0m12 0h0m12 0h0m26 0h0m15 0h0m13 0h0m11 0h0m13 0h0M138.5 580.5h0m7 0h0m7 0h0m11 0h0m13 0h0m12 0h0m7 0h0m10 0h0m8 0h0m15 0h0m8 0h0m8 0h0m10 0h0m10 0h0m17 0h0m13 0h0m11 0h0m8 0h0m8 0h0m10 0h0m14 0h0m11 0h0m6 0h0m10 0h0m13 0h0m16 0h0m13 0h0m12 0h0m11 0h0m14 0h0m10 0h0m13 0h0m6 0h0m10 0h0m16 0h0m14 0h0m11 0h0m9 0h0m13 0h0m18 0h0m21 0h0m11 0h0m13 0h0m11 0h0m19 0h0m10 0h0m18 0h0m16 0h0m19 0h0m19 0h0m13 0h0m13 0h0m23 0h0m19 0h0m32 0h0m29 0h0m53 0h0m15 0h0M138.5 626.5h0m27 0h0m24 0h0m16 0h0m30 0h0m19 0h0m14 0h0m16 0h0m12 0h0m12 0h0m7 0h0m9 0h0m11 0h0m14 0h0m18 0h0m17 0h0m20 0h0m32 0h0m18 0h0m22 0h0m24 0h0m27 0h0m27 0h0m30 0h0m23 0h0m22 0h0m30 0h0m29 0h0m54 0h0m34 0h0m67 0h0m94 0h0M190.5 672.5h0m25 0h0m55 0h0m24 0h0m12 0h0m17 0h0m12 0h0m32 0h0m30 0h0m70 0h0m49 0h0m31 0h0m54 0h0m32 0h0m47 0h0m112 0h0M192.5 717.5h0m91 0h0m25 0h0m23 0h0m76 0h0m131 0h0m68 0h0m128 0h0M317.5 763.5h0M362.5 809.5h0M544.5 901.5h0"/>
<path d="M831.5 122.5h0M175.5 168.5h0m556 0h0m149 0h0M158.5 214.5h0m181 0h0m140 0h0m133 0h0m118 0h0m69 0h0m46 0h0m53 0h0m25 0h0M149.5 260.5h0m69 0h0m180 0h0m79 0h0m151 0h0m79 0h0m23 0h0m44 0h0m30 0h0m17 0h0m40 0h0m21 0h0m28 0h0m13 0h0m7 0h0M149.5 305.5h0m23 0h0m34 0h0m32 0h0m24 0h0m28 0h0m56 0h0m26 0h0m51 0h0m15 0h0m14 0h0m21 0h0m19 0h0m11 0h0m26 0h0m15 0h0m22 0h0m45 0h0m17 0h0m14 0h0m17 0h0m17 0h0m13 0h0m17 0h0m13 0h0m22 0h0m12 0h0m19 0h0m10 0h0m18 0h0m12 0h0m14 0h0m13 0h0m18 0h0m12 0h0m11 0h0m10 0h0m13 0h0m17 0h0m9 0h0M135.5 351.5h0m23 0h0m21 0h0m30 0h0m25 0h0m15 0h0m14 0h0m14 0h0m58 0h0m17 0h0m19 0h0m29 0h0m17 0h0m25 0h0m9 0h0m15 0h0m11 0h0m34 0h0m10 0h0m14 0h0m24 0h0m15 0h0m39 0h0m9 0h0m11 0h0m42 0h0m24 0h0m12 0h0m9 0h0m13 0h0m21 0h0m13 0h0m8 0h0m8 0h0m12 0h0m12 0h0m18 0h0m10 0h0m16 0h0m7 0h0m14 0h0m13 0h0m12 0h0m7 0h0m14 0h0m6 0h0m9 0h0m5 0h0M139.5 397.5h0m10 0h0m13 0h0m11 0h0m11 0h0m9 0h0m10 0h0m12 0h0m12 0h0m7 0h0m18 0h0m12 0h0m9 0h0m10 0h0m22 0h0m26 0h0m5 0h0m7 0h0m10 0h0m18 0h0m13 0h0m7 0h0m10 0h0m12 0h0m9 0h0m8 0h0m10 0h0m10 0h0m9 0h0m6 0h0m9 0h0m8 0h0m6 0h0m7 0h0m8 0h0m12 0h0m4 0h0m9 0h0m10 0h0m8 0h0m11 0h0m7 0h0m8 0h0m10 0h0m11 0h0m13 0h0m6 0h0m11 0h0m12 0h0m7 0h0m9 0h0m7 0h0m12 0h0m5 0h0m7 0h0m7 0h0m8 0h0m7 0h0m10 0h0m6 0h0m8 0h0m9 0h0m4 0h0m14 0h0m6 0h0m7 0h0m5 0h0m11 0h0m5 0h0m8 0h0m10 0h0m6 0h0m7 0h0m8 0h0m7 0h0m7 0h0m6 0h0m10 0h0m8 0h0m6 0h0m10 0h0m9 0h0m10 0h0m12 0h0m8 0h0m8 0h0m5 0h0m7 0h0M137.5 443.5h0m11 0h0m10 0h0m7 0h0m7 0h0m11 0h0m9 0h0m5 0h0m9 0h0m9 0h0m6 0h0m8 0h0m10 0h0m11 0h0m5 0h0m6 0h0m8 0h0m7 0h0m4 0h0m7 0h0m26 0h0m8 0h0m10 0h0m8 0h0m10 0h0m8 0h0m5 0h0m8 0h0m7 0h0m9 0h0m11 0h0m6 0h0m11 0h0m8 0h0m6 0h0m10 0h0m8 0h0m10 0h0m7 0h0m4 0h0m6 0h0m8 0h0m6 0h0m13 0h0m8 0h0m10 0h0m6 0h0m7 0h0m6 0h0m6 0h0m7 0h0m7 0h0m8 0h0m7 0h0m8 0h0m7 0h0m9 0h0m6 0h0m8 0h0m10 0h0m6 0h0m8 0h0m6 0h0m9 0h0m7 0h0m12 0h0m6 0h0m6 0h0m9 0h0m7 0h0m6 0h0m6 0h0m7 0h0m6 0h0m8 0h0m7 0h0m11 0h0m7 0h0m8 0h0m8 0h0m10 0h0m4 0h0m6 0h0m10 0h0m5 0h0m7 0h0m9 0h0m5 0h0m8 0h0m8 0h0m6 0h0m9 0h0m6 0h0m11 0h0m7 0h0m8 0h0m6 0h0m7 0h0m7 0h0m5 0h0m6 0h0m8 0h0m10 0h0M137.5 489.5h0m8 0h0m4 0h0m12 0h0m6 0h0m5 0h0m6 0h0m7 0h0m6 0h0m8 0h0m9 0h0m8 0h0m5 0h0m9 0h0m7 0h0m9 0h0m8 0h0m5 0h0m8 0h0m5 0h0m4 0h0m9 0h0m7 0h0m8 0h0m7 0h0m8 0h0m8 0h0m8 0h0m7 0h0m5 0h0m7 0h0m7 0h0m6 0h0m5 0h0m11 0h0m5 0h0m6 0h0m6 0h0m9 0h0m8 0h0m8 0h0m7 0h0m7 0h0m5 0h0m6 0h0m8 0h0m8 0h0m8 0h0m9 0h0m5 0h0m7 0h0m9 0h0m7 0h0m6 0h0m6 0h0m7 0h0m10 0h0m6 0h0m7 0h0m9 0h0m9 0h0m10 0h0m9 0h0m11 0h0m5 0h0m5 0h0m9 0h0m9 0h0m7 0h0m9 0h0m8 0h0m9 0h0m8 0h0m9 0h0m5 0h0m6 0h0m8 0h0m7 0h0m7 0h0m9 0h0m7 0h0m12 0h0m9 0h0m9 0h0m8 0h0m11 0h0m7 0h0m7 0h0m10 0h0m8 0h0m9 0h0m8 0h0m11 0h0m8 0h0m15 0h0m8 0h0m5 0h0m16 0h0m9 0h0m8 0h0m8 0h0m13 0h0m9 0h0m7 0h0M135.5 534.5h0m8 0h0m8 0h0m12 0h0m5 0h0m8 0h0m9 0h0m5 0h0m6 0h0m8 0h0m7 0h0m8 0h0m7 0h0m7 0h0m7 0h0m6 0h0m10 0h0m12 0h0m9 0h0m10 0h0m10 0h0m8 0h0m6 0h0m12 0h0m5 0h0m10 0h0m9 0h0m8 0h0m8 0h0m11 0h0m11 0h0m9 0h0m8 0h0m7 0h0m9 0h0m6 0h0m7 0h0m10 0h0m9 0h0m7 0h0m10 0h0m9 0h0m7 0h0m7 0h0m10 0h0m11 0h0m13 0h0m9 0h0m10 0h0m7 0h0m6 0h0m13 0h0m9 0h0m14 0h0m8 0h0m10 0h0m14 0h0m10 0h0m5 0h0m9 0h0m17 0h0m12 0h0m9 0h0m11 0h0m8 0h0m10 0h0m7 0h0m21 0h0m5 0h0m8 0h0m18 0h0m10 0h0m12 0h0m12 0h0m13 0h0m14 0h0m10 0h0m12 0h0m25 0h0m15 0h0m13 0h0m11 0h0m14 0h0M138.5 580.5h0m7 0h0m7 0h0m11 0h0m14 0h0m11 0h0m8 0h0m10 0h0m9 0h0m13 0h0m8 0h0m9 0h0m9 0h0m11 0h0m18 0h0m13 0h0m9 0h0m8 0h0m8 0h0m10 0h0m14 0h0m11 0h0m7 0h0m10 0h0m12 0h0m17 0h0m12 0h0m12 0h0m11 0h0m14 0h0m11 0h0m12 0h0m7 0h0m9 0h0m20 0h0m11 0h0m12 0h0m8 0h0m13 0h0m19 0h0m19 0h0m12 0h0m12 0h0m14 0h0m16 0h0m10 0h0m19 0h0m17 0h0m17 0h0m20 0h0m13 0h0m15 0h0m22 0h0m18 0h0m38 0h0m28 0h0m49 0h0m14 0h0M139.5 626.5h0m30 0h0m20 0h0m20 0h0m26 0h0m20 0h0m14 0h0m16 0h0m12 0h0m12 0h0m6 0h0m9 0h0m11 0h0m15 0h0m18 0h0m16 0h0m22 0h0m30 0h0m20 0h0m21 0h0m25 0h0m29 0h0m23 0h0m31 0h0m23 0h0m29 0h0m25 0h0m29 0h0m54 0h0m41 0h0m60 0h0m95 0h0M194.5 672.5h0m23 0h0m54 0h0m24 0h0m11 0h0m18 0h0m12 0h0m31 0h0m32 0h0m73 0h0m46 0h0m30 0h0m54 0h0m31 0h0m55 0h0m110 0h0M200.5 717.5h0m83 0h0m27 0h0m23 0h0m109 0h0m99 0h0m65 0h0m141 0h0M332.5 763.5h0M388.5 809.5h0M631.5 901.5h0"/>
<path d="M866.5 122.5h0M197.5 168.5h0m556 0h0m134 0h0M162.5 214.5h0m189 0h0m130 0h0m138 0h0m122 0h0m62 0h0m46 0h0m53 0h0m23 0h0M155.5 260.5h0m68 0h0m191 0h0m70 0h0m151 0h0m73 0h0m23 0h0m44 0h0m31 0h0m15 0h0m41 0h0m22 0h0m27 0h0m12 0h0m9 0h0M153.5 305.5h0m23 0h0m36 0h0m32 0h0m19 0h0m49 0h0m35 0h0m26 0h0m51 0h0m16 0h0m16 0h0m17 0h0m19 0h0m11 0h0m27 0h0m19 0h0m19 0h0m44 0h0m17 0h0m13 0h0m18 0h0m17 0h0m13 0h0m18 0h0m14 0h0m19 0h0m14 0h0m17 0h0m13 0h0m15 0h0m13 0h0m14 0h0m13 0h0m18 0h0m13 0h0m10 0h0m10 0h0m12 0h0m18 0h0m9 0h0M135.5 351.5h0m23 0h0m21 0h0m35 0h0m20 0h0m15 0h0m15 0h0m14 0h0m59 0h0m16 0h0m18 0h0m30 0h0m17 0h0m24 0h0m15 0h0m10 0h0m11 0h0m33 0h0m13 0h0m12 0h0m23 0h0m16 0h0m39 0h0m8 0h0m12 0h0m42 0h0m24 0h0m12 0h0m8 0h0m14 0h0m22 0h0m11 0h0m9 0h0m7 0h0m12 0h0m13 0h0m17 0h0m10 0h0m17 0h0m6 0h0m15 0h0m12 0h0m12 0h0m8 0h0m13 0h0m7 0h0m8 0h0m6 0h0M140.5 397.5h0m9 0h0m15 0h0m10 0h0m11 0h0m8 0h0m10 0h0m13 0h0m12 0h0m7 0h0m22 0h0m7 0h0m9 0h0m10 0h0m24 0h0m25 0h0m4 0h0m7 0h0m10 0h0m19 0h0m12 0h0m7 0h0m11 0h0m11 0h0m10 0h0m8 0h0m10 0h0m9 0h0m10 0h0m6 0h0m8 0h0m8 0h0m7 0h0m6 0h0m9 0h0m11 0h0m4 0h0m10 0h0m10 0h0m10 0h0m8 0h0m8 0h0m7 0h0m11 0h0m10 0h0m13 0h0m7 0h0m10 0h0m12 0h0m8 0h0m8 0h0m7 0h0m12 0h0m6 0h0m8 0h0m5 0h0m8 0h0m7 0h0m10 0h0m7 0h0m8 0h0m8 0h0m5 0h0m13 0h0m6 0h0m7 0h0m7 0h0m10 0h0m5 0h0m8 0h0m9 0h0m7 0h0m7 0h0m7 0h0m8 0h0m6 0h0m7 0h0m10 0h0m7 0h0m6 0h0m12 0h0m10 0h0m10 0h0m10 0h0m8 0h0m7 0h0m6 0h0m6 0h0M138.5 443.5h0m10 0h0m11 0h0m6 0h0m8 0h0m10 0h0m9 0h0m5 0h0m9 0h0m9 0h0m7 0h0m8 0h0m10 0h0m10 0h0m6 0h0m6 0h0m8 0h0m6 0h0m5 0h0m7 0h0m26 0h0m8 0h0m9 0h0m9 0h0m9 0h0m8 0h0m5 0h0m8 0h0m8 0h0m8 0h0m12 0h0m7 0h0m10 0h0m8 0h0m5 0h0m11 0h0m9 0h0m9 0h0m6 0h0m4 0h0m6 0h0m8 0h0m7 0h0m13 0h0m8 0h0m9 0h0m7 0h0m7 0h0m5 0h0m6 0h0m7 0h0m7 0h0m9 0h0m7 0h0m8 0h0m6 0h0m9 0h0m6 0h0m10 0h0m8 0h0m6 0h0m8 0h0m7 0h0m8 0h0m8 0h0m11 0h0m6 0h0m6 0h0m9 0h0m7 0h0m6 0h0m7 0h0m6 0h0m7 0h0m8 0h0m7 0h0m10 0h0m7 0h0m9 0h0m7 0h0m10 0h0m4 0h0m7 0h0m9 0h0m6 0h0m6 0h0m9 0h0m5 0h0m9 0h0m7 0h0m6 0h0m9 0h0m7 0h0m11 0h0m6 0h0m8 0h0m6 0h0m7 0h0m8 0h0m4 0h0m6 0h0m9 0h0m10 0h0M137.5 489.5h0m9 0h0m4 0h0m11 0h0m6 0h0m6 0h0m5 0h0m8 0h0m6 0h0m8 0h0m8 0h0m8 0h0m5 0h0m9 0h0m8 0h0m8 0h0m8 0h0m5 0h0m8 0h0m6 0h0m4 0h0m9 0h0m6 0h0m8 0h0m8 0h0m8 0h0m7 0h0m8 0h0m7 0h0m6 0h0m6 0h0m7 0h0m6 0h0m8 0h0m8 0h0m5 0h0m6 0h0m6 0h0m9 0h0m8 0h0m9 0h0m6 0h0m7 0h0m6 0h0m5 0h0m9 0h0m8 0h0m8 0h0m8 0h0m6 0h0m6 0h0m9 0h0m7 0h0m6 0h0m6 0h0m7 0h0m10 0h0m6 0h0m8 0h0m10 0h0m7 0h0m11 0h0m10 0h0m10 0h0m4 0h0m6 0h0m9 0h0m9 0h0m6 0h0m9 0h0m9 0h0m9 0h0m7 0h0m9 0h0m5 0h0m6 0h0m8 0h0m7 0h0m8 0h0m8 0h0m8 0h0m13 0h0m8 0h0m8 0h0m9 0h0m10 0h0m7 0h0m8 0h0m9 0h0m8 0h0m10 0h0m8 0h0m10 0h0m8 0h0m16 0h0m7 0h0m6 0h0m15 0h0m9 0h0m8 0h0m8 0h0m14 0h0m8 0h0m8 0h0M136.5 534.5h0m7 0h0m8 0h0m13 0h0m5 0h0m8 0h0m8 0h0m5 0h0m7 0h0m8 0h0m6 0h0m8 0h0m8 0h0m7 0h0m7 0h0m5 0h0m13 0h0m9 0h0m9 0h0m11 0h0m9 0h0m8 0h0m7 0h0m11 0h0m5 0h0m11 0h0m9 0h0m8 0h0m8 0h0m12 0h0m9 0h0m11 0h0m6 0h0m9 0h0m9 0h0m4 0h0m8 0h0m9 0h0m9 0h0m7 0h0m10 0h0m10 0h0m6 0h0m8 0h0m9 0h0m12 0h0m12 0h0m9 0h0m10 0h0m7 0h0m6 0h0m13 0h0m10 0h0m14 0h0m7 0h0m10 0h0m15 0h0m10 0h0m4 0h0m10 0h0m16 0h0m13 0h0m10 0h0m10 0h0m8 0h0m11 0h0m6 0h0m20 0h0m5 0h0m11 0h0m16 0h0m10 0h0m11 0h0m12 0h0m13 0h0m15 0h0m9 0h0m14 0h0m23 0h0m16 0h0m13 0h0m11 0h0m14 0h0M138.5 580.5h0m8 0h0m6 0h0m11 0h0m14 0h0m12 0h0m8 0h0m9 0h0m10 0h0m13 0h0m7 0h0m9 0h0m9 0h0m12 0h0m17 0h0m13 0h0m10 0h0m7 0h0m8 0h0m11 0h0m14 0h0m10 0h0m8 0h0m9 0h0m13 0h0m17 0h0m11 0h0m13 0h0m16 0h0m9 0h0m10 0h0m13 0h0m6 0h0m10 0h0m19 0h0m12 0h0m11 0h0m9 0h0m13 0h0m20 0h0m18 0h0m12 0h0m12 0h0m13 0h0m16 0h0m12 0h0m18 0h0m17 0h0m16 0h0m21 0h0m12 0h0m19 0h0m19 0h0m17 0h0m39 0h0m30 0h0m46 0h0m15 0h0M143.5 626.5h0m33 0h0m15 0h0m20 0h0m25 0h0m20 0h0m19 0h0m10 0h0m12 0h0m12 0h0m7 0h0m9 0h0m10 0h0m15 0h0m18 0h0m19 0h0m19 0h0m31 0h0m21 0h0m19 0h0m26 0h0m32 0h0m21 0h0m31 0h0m22 0h0m31 0h0m24 0h0m28 0h0m53 0h0m41 0h0m61 0h0M146.5 672.5h0m50 0h0m28 0h0m53 0h0m18 0h0m12 0h0m18 0h0m15 0h0m30 0h0m33 0h0m80 0h0m38 0h0m27 0h0m55 0h0m34 0h0m65 0h0m105 0h0M204.5 717.5h0m83 0h0m25 0h0m36 0h0m103 0h0m92 0h0m64 0h0m151 0h0M373.5 763.5h0M450.5 809.5h0"/>
<path d="M879.5 122.5h0M273.5 168.5h0m493 0h0m122 0h0M164.5 214.5h0m200 0h0m146 0h0m150 0h0m88 0h0m56 0h0m46 0h0m52 0h0m25 0h0M157.5 260.5h0m68 0h0m195 0h0m77 0h0m139 0h0m75 0h0m21 0h0m45 0h0m31 0h0m15 0h0m41 0h0m21 0h0m26 0h0m12 0h0m9 0h0M153.5 305.5h0m24 0h0m36 0h0m33 0h0m19 0h0m53 0h0m32 0h0m28 0h0m46 0h0m18 0h0m14 0h0m20 0h0m18 0h0m10 0h0m29 0h0m23 0h0m12 0h0m47 0h0m16 0h0m11 0h0m19 0h0m16 0h0m13 0h0m19 0h0m13 0h0m19 0h0m14 0h0m18 0h0m12 0h0m15 0h0m14 0h0m14 0h0m13 0h0m17 0h0m13 0h0m11 0h0m10 0h0m12 0h0m17 0h0m9 0h0M137.5 351.5h0m22 0h0m21 0h0m35 0h0m21 0h0m14 0h0m14 0h0m14 0h0m59 0h0m19 0h0m22 0h0m24 0h0m17 0h0m24 0h0m15 0h0m9 0h0m13 0h0m31 0h0m13 0h0m13 0h0m23 0h0m15 0h0m39 0h0m9 0h0m13 0h0m45 0h0m20 0h0m12 0h0m8 0h0m14 0h0m21 0h0m12 0h0m9 0h0m8 0h0m11 0h0m12 0h0m17 0h0m11 0h0m16 0h0m7 0h0m14 0h0m13 0h0m12 0h0m8 0h0m12 0h0m7 0h0m9 0h0m6 0h0M140.5 397.5h0m10 0h0m15 0h0m10 0h0m10 0h0m8 0h0m12 0h0m12 0h0m11 0h0m8 0h0m21 0h0m9 0h0m7 0h0m10 0h0m25 0h0m25 0h0m4 0h0m8 0h0m10 0h0m17 0h0m12 0h0m8 0h0m11 0h0m11 0h0m9 0h0m8 0h0m10 0h0m9 0h0m11 0h0m6 0h0m8 0h0m8 0h0m6 0h0m7 0h0m8 0h0m12 0h0m3 0h0m12 0h0m8 0h0m10 0h0m8 0h0m8 0h0m8 0h0m10 0h0m11 0h0m12 0h0m7 0h0m12 0h0m11 0h0m9 0h0m6 0h0m7 0h0m13 0h0m5 0h0m8 0h0m6 0h0m9 0h0m5 0h0m11 0h0m6 0h0m8 0h0m8 0h0m6 0h0m13 0h0m5 0h0m7 0h0m8 0h0m9 0h0m5 0h0m10 0h0m7 0h0m7 0h0m7 0h0m8 0h0m8 0h0m5 0h0m7 0h0m10 0h0m7 0h0m6 0h0m12 0h0m10 0h0m11 0h0m9 0h0m8 0h0m7 0h0m6 0h0m7 0h0M138.5 443.5h0m11 0h0m11 0h0m5 0h0m9 0h0m9 0h0m10 0h0m4 0h0m10 0h0m9 0h0m6 0h0m9 0h0m11 0h0m8 0h0m6 0h0m7 0h0m8 0h0m5 0h0m5 0h0m8 0h0m25 0h0m10 0h0m8 0h0m8 0h0m10 0h0m7 0h0m6 0h0m7 0h0m8 0h0m10 0h0m10 0h0m7 0h0m11 0h0m7 0h0m5 0h0m11 0h0m9 0h0m9 0h0m7 0h0m4 0h0m5 0h0m8 0h0m7 0h0m13 0h0m9 0h0m8 0h0m8 0h0m6 0h0m5 0h0m8 0h0m6 0h0m6 0h0m9 0h0m8 0h0m7 0h0m6 0h0m9 0h0m8 0h0m9 0h0m8 0h0m6 0h0m8 0h0m6 0h0m9 0h0m9 0h0m10 0h0m5 0h0m7 0h0m9 0h0m6 0h0m6 0h0m8 0h0m5 0h0m8 0h0m7 0h0m7 0h0m11 0h0m7 0h0m8 0h0m7 0h0m10 0h0m5 0h0m6 0h0m10 0h0m5 0h0m6 0h0m9 0h0m7 0h0m7 0h0m7 0h0m6 0h0m10 0h0m7 0h0m10 0h0m8 0h0m6 0h0m6 0h0m7 0h0m8 0h0m4 0h0m7 0h0m11 0h0m7 0h0M138.5 489.5h0m8 0h0m6 0h0m9 0h0m7 0h0m5 0h0m5 0h0m9 0h0m6 0h0m7 0h0m9 0h0m8 0h0m4 0h0m9 0h0m8 0h0m11 0h0m6 0h0m5 0h0m7 0h0m6 0h0m5 0h0m8 0h0m6 0h0m9 0h0m7 0h0m8 0h0m7 0h0m8 0h0m8 0h0m5 0h0m6 0h0m7 0h0m6 0h0m8 0h0m8 0h0m5 0h0m6 0h0m7 0h0m8 0h0m8 0h0m9 0h0m7 0h0m7 0h0m5 0h0m6 0h0m8 0h0m8 0h0m9 0h0m7 0h0m7 0h0m6 0h0m8 0h0m7 0h0m6 0h0m6 0h0m8 0h0m10 0h0m5 0h0m8 0h0m10 0h0m7 0h0m11 0h0m11 0h0m9 0h0m4 0h0m8 0h0m7 0h0m9 0h0m7 0h0m8 0h0m12 0h0m7 0h0m7 0h0m8 0h0m5 0h0m7 0h0m8 0h0m7 0h0m8 0h0m8 0h0m8 0h0m12 0h0m9 0h0m8 0h0m8 0h0m11 0h0m7 0h0m8 0h0m9 0h0m8 0h0m9 0h0m8 0h0m10 0h0m9 0h0m15 0h0m7 0h0m7 0h0m14 0h0m10 0h0m7 0h0m10 0h0m13 0h0m7 0h0m8 0h0M136.5 534.5h0m7 0h0m9 0h0m12 0h0m6 0h0m7 0h0m8 0h0m6 0h0m6 0h0m9 0h0m5 0h0m9 0h0m7 0h0m7 0h0m7 0h0m6 0h0m12 0h0m10 0h0m9 0h0m11 0h0m8 0h0m8 0h0m7 0h0m12 0h0m5 0h0m12 0h0m7 0h0m9 0h0m7 0h0m13 0h0m9 0h0m10 0h0m7 0h0m8 0h0m9 0h0m4 0h0m8 0h0m9 0h0m9 0h0m7 0h0m11 0h0m10 0h0m6 0h0m8 0h0m8 0h0m13 0h0m11 0h0m9 0h0m11 0h0m6 0h0m7 0h0m12 0h0m12 0h0m12 0h0m9 0h0m9 0h0m14 0h0m10 0h0m4 0h0m11 0h0m15 0h0m13 0h0m11 0h0m9 0h0m8 0h0m12 0h0m6 0h0m19 0h0m6 0h0m11 0h0m15 0h0m11 0h0m10 0h0m12 0h0m17 0h0m11 0h0m9 0h0m16 0h0m21 0h0m16 0h0m13 0h0m13 0h0m15 0h0M139.5 580.5h0m8 0h0m6 0h0m11 0h0m13 0h0m12 0h0m9 0h0m8 0h0m11 0h0m13 0h0m7 0h0m9 0h0m9 0h0m13 0h0m15 0h0m13 0h0m10 0h0m8 0h0m8 0h0m10 0h0m15 0h0m9 0h0m8 0h0m9 0h0m13 0h0m18 0h0m10 0h0m13 0h0m17 0h0m8 0h0m11 0h0m13 0h0m5 0h0m14 0h0m16 0h0m11 0h0m11 0h0m9 0h0m13 0h0m21 0h0m17 0h0m13 0h0m11 0h0m15 0h0m15 0h0m13 0h0m16 0h0m23 0h0m13 0h0m18 0h0m12 0h0m19 0h0m20 0h0m20 0h0m37 0h0m43 0h0m32 0h0m17 0h0M144.5 626.5h0m32 0h0m16 0h0m20 0h0m24 0h0m21 0h0m18 0h0m12 0h0m11 0h0m11 0h0m7 0h0m10 0h0m9 0h0m17 0h0m17 0h0m19 0h0m19 0h0m31 0h0m20 0h0m23 0h0m27 0h0m32 0h0m20 0h0m29 0h0m22 0h0m30 0h0m25 0h0m27 0h0m52 0h0m45 0h0m61 0h0M146.5 672.5h0m50 0h0m33 0h0m53 0h0m14 0h0m13 0h0m16 0h0m15 0h0m32 0h0m31 0h0m80 0h0m41 0h0m27 0h0m53 0h0m36 0h0m65 0h0m104 0h0M208.5 717.5h0m83 0h0m21 0h0m37 0h0m109 0h0m87 0h0m74 0h0m141 0h0M379.5 763.5h0M455.5 809.5h0"/>
<path d="M880.5 122.5h0M353.5 168.5h0m431 0h0m111 0h0M166.5 214.5h0m237 0h0m109 0h0m149 0h0m89 0h0m54 0h0m53 0h0m45 0h0m25 0h0M161.5 260.5h0m66 0h0m198 0h0m79 0h0m168 0h0m43 0h0m29 0h0m33 0h0m32 0h0m16 0h0m39 0h0m21 0h0m27 0h0m12 0h0m11 0h0M154.5 305.5h0m24 0h0m36 0h0m36 0h0m16 0h0m56 0h0m28 0h0m33 0h0m41 0h0m18 0h0m14 0h0m20 0h0m18 0h0m12 0h0m30 0h0m20 0h0m14 0h0m46 0h0m16 0h0m11 0h0m19 0h0m15 0h0m14 0h0m19 0h0m16 0h0m15 0h0m15 0h0m19 0h0m11 0h0m14 0h0m16 0h0m13 0h0m12 0h0m18 0h0m13 0h0m10 0h0m12 0h0m11 0h0m16 0h0m9 0h0M139.5 351.5h0m20 0h0m21 0h0m38 0h0m19 0h0m13 0h0m15 0h0m13 0h0m60 0h0m18 0h0m24 0h0m22 0h0m18 0h0m23 0h0m15 0h0m10 0h0m12 0h0m33 0h0m11 0h0m14 0h0m22 0h0m22 0h0m32 0h0m10 0h0m13 0h0m47 0h0m20 0h0m9 0h0m9 0h0m13 0h0m21 0h0m12 0h0m9 0h0m8 0h0m11 0h0m12 0h0m17 0h0m12 0h0m16 0h0m7 0h0m14 0h0m12 0h0m12 0h0m10 0h0m10 0h0m7 0h0m9 0h0m6 0h0M140.5 397.5h0m11 0h0m14 0h0m10 0h0m10 0h0m8 0h0m13 0h0m11 0h0m12 0h0m10 0h0m18 0h0m9 0h0m7 0h0m11 0h0m30 0h0m19 0h0m4 0h0m8 0h0m11 0h0m16 0h0m13 0h0m8 0h0m11 0h0m11 0h0m8 0h0m8 0h0m10 0h0m10 0h0m10 0h0m6 0h0m9 0h0m8 0h0m6 0h0m7 0h0m8 0h0m11 0h0m4 0h0m12 0h0m7 0h0m10 0h0m9 0h0m8 0h0m7 0h0m11 0h0m11 0h0m13 0h0m6 0h0m11 0h0m12 0h0m8 0h0m7 0h0m7 0h0m13 0h0m4 0h0m8 0h0m6 0h0m9 0h0m7 0h0m9 0h0m6 0h0m8 0h0m9 0h0m5 0h0m13 0h0m6 0h0m6 0h0m8 0h0m10 0h0m5 0h0m9 0h0m8 0h0m6 0h0m7 0h0m8 0h0m8 0h0m6 0h0m7 0h0m9 0h0m8 0h0m6 0h0m12 0h0m10 0h0m10 0h0m9 0h0m8 0h0m7 0h0m6 0h0m8 0h0M139.5 443.5h0m10 0h0m12 0h0m4 0h0m11 0h0m8 0h0m9 0h0m5 0h0m9 0h0m9 0h0m7 0h0m8 0h0m12 0h0m7 0h0m7 0h0m6 0h0m9 0h0m5 0h0m4 0h0m18 0h0m15 0h0m10 0h0m10 0h0m8 0h0m8 0h0m7 0h0m6 0h0m7 0h0m8 0h0m11 0h0m9 0h0m7 0h0m12 0h0m6 0h0m7 0h0m9 0h0m9 0h0m10 0h0m6 0h0m5 0h0m5 0h0m8 0h0m6 0h0m13 0h0m9 0h0m10 0h0m6 0h0m7 0h0m5 0h0m7 0h0m6 0h0m6 0h0m9 0h0m8 0h0m7 0h0m6 0h0m9 0h0m8 0h0m9 0h0m8 0h0m6 0h0m8 0h0m6 0h0m9 0h0m9 0h0m11 0h0m7 0h0m5 0h0m8 0h0m6 0h0m7 0h0m8 0h0m4 0h0m8 0h0m7 0h0m8 0h0m10 0h0m7 0h0m9 0h0m6 0h0m10 0h0m5 0h0m8 0h0m8 0h0m5 0h0m7 0h0m8 0h0m7 0h0m7 0h0m8 0h0m7 0h0m8 0h0m8 0h0m9 0h0m8 0h0m6 0h0m7 0h0m6 0h0m8 0h0m5 0h0m7 0h0m10 0h0m7 0h0M138.5 489.5h0m8 0h0m6 0h0m9 0h0m7 0h0m5 0h0m7 0h0m7 0h0m6 0h0m8 0h0m9 0h0m8 0h0m5 0h0m7 0h0m8 0h0m11 0h0m6 0h0m7 0h0m5 0h0m6 0h0m5 0h0m8 0h0m7 0h0m8 0h0m7 0h0m9 0h0m9 0h0m6 0h0m7 0h0m5 0h0m7 0h0m6 0h0m6 0h0m8 0h0m9 0h0m4 0h0m7 0h0m6 0h0m8 0h0m8 0h0m9 0h0m7 0h0m7 0h0m5 0h0m6 0h0m8 0h0m9 0h0m9 0h0m6 0h0m7 0h0m7 0h0m8 0h0m6 0h0m6 0h0m9 0h0m5 0h0m11 0h0m5 0h0m8 0h0m9 0h0m7 0h0m11 0h0m11 0h0m10 0h0m4 0h0m8 0h0m6 0h0m11 0h0m7 0h0m6 0h0m12 0h0m7 0h0m7 0h0m9 0h0m4 0h0m7 0h0m8 0h0m7 0h0m9 0h0m7 0h0m11 0h0m9 0h0m9 0h0m9 0h0m7 0h0m11 0h0m8 0h0m7 0h0m11 0h0m6 0h0m11 0h0m6 0h0m11 0h0m9 0h0m15 0h0m7 0h0m7 0h0m13 0h0m10 0h0m7 0h0m11 0h0m12 0h0m8 0h0m7 0h0M136.5 534.5h0m8 0h0m9 0h0m11 0h0m6 0h0m7 0h0m8 0h0m6 0h0m6 0h0m10 0h0m4 0h0m9 0h0m7 0h0m7 0h0m7 0h0m6 0h0m13 0h0m10 0h0m8 0h0m14 0h0m6 0h0m7 0h0m8 0h0m11 0h0m6 0h0m12 0h0m7 0h0m8 0h0m9 0h0m11 0h0m10 0h0m9 0h0m7 0h0m8 0h0m9 0h0m5 0h0m7 0h0m10 0h0m9 0h0m6 0h0m11 0h0m10 0h0m7 0h0m7 0h0m10 0h0m12 0h0m11 0h0m10 0h0m9 0h0m7 0h0m7 0h0m13 0h0m10 0h0m12 0h0m9 0h0m9 0h0m15 0h0m9 0h0m5 0h0m11 0h0m14 0h0m13 0h0m12 0h0m8 0h0m9 0h0m11 0h0m7 0h0m19 0h0m5 0h0m12 0h0m15 0h0m10 0h0m13 0h0m10 0h0m17 0h0m12 0h0m7 0h0m17 0h0m21 0h0m16 0h0m13 0h0m13 0h0m16 0h0M139.5 580.5h0m8 0h0m7 0h0m11 0h0m14 0h0m11 0h0m9 0h0m8 0h0m10 0h0m13 0h0m7 0h0m9 0h0m10 0h0m15 0h0m12 0h0m15 0h0m8 0h0m8 0h0m8 0h0m10 0h0m15 0h0m10 0h0m9 0h0m7 0h0m15 0h0m16 0h0m14 0h0m12 0h0m15 0h0m7 0h0m11 0h0m13 0h0m5 0h0m14 0h0m17 0h0m11 0h0m13 0h0m8 0h0m11 0h0m22 0h0m17 0h0m12 0h0m11 0h0m16 0h0m14 0h0m13 0h0m17 0h0m24 0h0m13 0h0m17 0h0m13 0h0m20 0h0m18 0h0m20 0h0m37 0h0m43 0h0m33 0h0m19 0h0M144.5 626.5h0m33 0h0m16 0h0m19 0h0m24 0h0m21 0h0m19 0h0m11 0h0m11 0h0m11 0h0m7 0h0m10 0h0m11 0h0m17 0h0m17 0h0m17 0h0m20 0h0m31 0h0m20 0h0m25 0h0m29 0h0m28 0h0m20 0h0m31 0h0m23 0h0m28 0h0m24 0h0m27 0h0m51 0h0m47 0h0m62 0h0M147.5 672.5h0m49 0h0m43 0h0m47 0h0m11 0h0m14 0h0m17 0h0m21 0h0m26 0h0m29 0h0m83 0h0m39 0h0m31 0h0m51 0h0m36 0h0m77 0h0m95 0h0M208.5 717.5h0m83 0h0m25 0h0m47 0h0m97 0h0m93 0h0m69 0h0m140 0h0M404.5 763.5h0M460.5 809.5h0"/>
</g>
<path d="M134.5 942.5v4.9M298.5 942.5v4.9M463.5 942.5v4.9M627.5 942.5v4.9M792.5 942.5v4.9M957.5 942.5v4.9M93.5 923.5h-4.9M93.5 809.5h-4.9M93.5 695.5h-4.9M93.5 580.5h-4.9M93.5 466.5h-4.9M93.5 351.5h-4.9M93.5 237.5h-4.9M93.5 122.5h-4.9" stroke="#000" stroke-width="1.11" fill="none"/>
<rect x="93.5" y="35.5" width="892.0" height="907.0" fill="none" stroke="#000" stroke-width="1.11"/>
<g><text x="133.85" y="962" text-anchor="middle">0</text><text x="297.85" y="962" text-anchor="middle">2000</text><text x="462.85" y="962" text-anchor="middle">4000</text><text x="626.85" y="962" text-anchor="middle">6000</text><text x="791.85" y="962" text-anchor="middle">8000</text><text x="956.60" y="962" text-anchor="middle" letter-spacing="-0.14">10000</text></g>
<g><text x="84.25" y="929" text-anchor="end" letter-spacing="0.1">6237.5</text><text x="84.25" y="814" text-anchor="end" letter-spacing="0.1">6240.0</text><text x="84.25" y="700" text-anchor="end" letter-spacing="0.1">6242.5</text><text x="84.25" y="585" text-anchor="end" letter-spacing="0.1">6245.0</text><text x="84.25" y="471" text-anchor="end" letter-spacing="0.1">6247.5</text><text x="84.25" y="357" text-anchor="end" letter-spacing="0.1">6250.0</text><text x="84.25" y="242" text-anchor="end" letter-spacing="0.1">6252.5</text><text x="84.25" y="128" text-anchor="end" letter-spacing="0.1">6255.0</text></g>
<text x="539" y="982" text-anchor="middle">Sample #</text>
<text transform="translate(25.3 489.4) rotate(-90)" text-anchor="middle">ADC Counts</text>
<text x="539.5" y="27" text-anchor="middle" font-size="16.67">Run 516, channel112, Pedestal</text>
<rect x="771.5" y="42.5" width="207" height="45" rx="2.8" ry="2.8" fill="#fff" fill-opacity="0.8" stroke="#ccc" stroke-opacity="0.8" stroke-width="1.39"/>
<path d="M790.5 65.5h0" stroke="#000" stroke-width="5.56" stroke-linecap="round"/>
<text x="816" y="59" letter-spacing="-0.13">Samples</text>
<text x="816" y="76.1"><tspan class="it">μ</tspan> = 6247.44, <tspan class="it" dx="-0.6">σ</tspan><tspan dx="-0.9"> = </tspan><tspan dx="1.6">2.56</tspan></text>
</svg>
</body>
</html>
